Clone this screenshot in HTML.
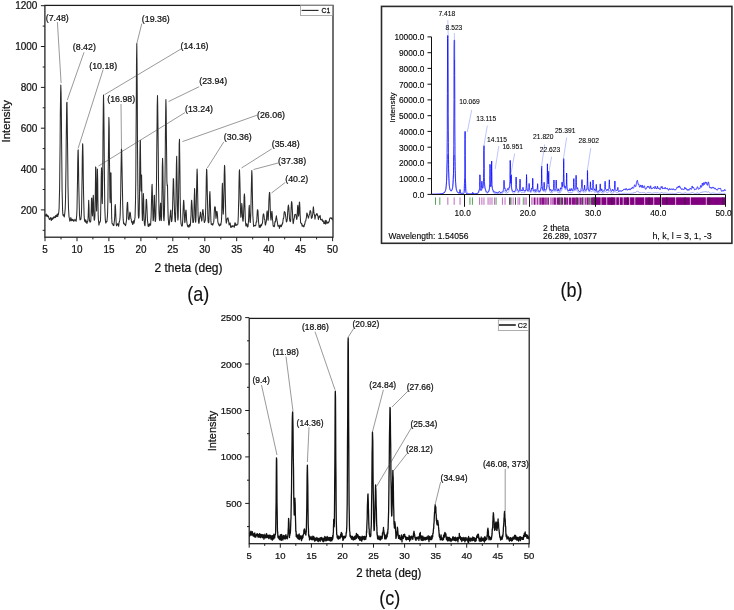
<!DOCTYPE html>
<html lang="en"><head><meta charset="utf-8"><title>XRD patterns</title>
<style>html,body{margin:0;padding:0;background:#fff}svg{display:block}</style></head>
<body>
<svg width="734" height="610" viewBox="0 0 734 610">
<rect width="734" height="610" fill="#fff"/>
<style>
text{font-family:"Liberation Sans", Arial, sans-serif;fill:#111;stroke:#111;stroke-width:.22px}
.tk{font-size:9.9px}.ld{stroke:#444;stroke-width:.55;fill:none}
.fr{fill:none;stroke:#1c1c1c;stroke-width:1.25}.t{stroke:#1c1c1c;stroke-width:1}
.cap{fill:#111;stroke-width:.12px}
.bt{font-size:8.3px;fill:#000}.bt{stroke-width:.12px}.bl{font-size:6.7px;fill:#000;stroke-width:.08px}.bld{stroke:#7d8cff;stroke-width:.5;fill:none}
</style>
<g id="plot-a">
<rect class="fr" x="44.9" y="5.4" width="288.1" height="231.8"/>
<text text-anchor="middle" transform="translate(45.0 253.1) scale(1 1.05)" font-size="9.90px">5</text>
<text text-anchor="middle" transform="translate(77.0 253.1) scale(1 1.05)" font-size="9.90px">10</text>
<text text-anchor="middle" transform="translate(108.9 253.1) scale(1 1.05)" font-size="9.90px">15</text>
<text text-anchor="middle" transform="translate(140.9 253.1) scale(1 1.05)" font-size="9.90px">20</text>
<text text-anchor="middle" transform="translate(172.8 253.1) scale(1 1.05)" font-size="9.90px">25</text>
<text text-anchor="middle" transform="translate(204.8 253.1) scale(1 1.05)" font-size="9.90px">30</text>
<text text-anchor="middle" transform="translate(236.7 253.1) scale(1 1.05)" font-size="9.90px">35</text>
<text text-anchor="middle" transform="translate(268.7 253.1) scale(1 1.05)" font-size="9.90px">40</text>
<text text-anchor="middle" transform="translate(300.6 253.1) scale(1 1.05)" font-size="9.90px">45</text>
<text text-anchor="middle" transform="translate(332.6 253.1) scale(1 1.05)" font-size="9.90px">50</text>
<text text-anchor="end" transform="translate(37.4 213.6) scale(1 1.05)" font-size="10.00px">200</text>
<text text-anchor="end" transform="translate(37.4 172.7) scale(1 1.05)" font-size="10.00px">400</text>
<text text-anchor="end" transform="translate(37.4 131.9) scale(1 1.05)" font-size="10.00px">600</text>
<text text-anchor="end" transform="translate(37.4 91.0) scale(1 1.05)" font-size="10.00px">800</text>
<text text-anchor="end" transform="translate(37.4 50.2) scale(1 1.05)" font-size="10.00px">1000</text>
<text text-anchor="end" transform="translate(37.4 9.4) scale(1 1.05)" font-size="10.00px">1200</text>
<path class="t" d="M45.0 237.2v4M77.0 237.2v4M108.9 237.2v4M140.9 237.2v4M172.8 237.2v4M204.8 237.2v4M236.7 237.2v4M268.7 237.2v4M300.6 237.2v4M332.6 237.2v4M61.0 237.2v2.2M92.9 237.2v2.2M124.9 237.2v2.2M156.8 237.2v2.2M188.8 237.2v2.2M220.8 237.2v2.2M252.7 237.2v2.2M284.7 237.2v2.2M316.6 237.2v2.2M44.9 209.9h-4M44.9 169.1h-4M44.9 128.2h-4M44.9 87.4h-4M44.9 46.5h-4M44.9 5.7h-4M44.9 230.3h-2.2M44.9 189.5h-2.2M44.9 148.6h-2.2M44.9 107.8h-2.2M44.9 67.0h-2.2M44.9 26.1h-2.2"/>
<clipPath id="ca"><rect x="44.9" y="5.4" width="288.1" height="231.8"/></clipPath>
<polyline clip-path="url(#ca)" fill="none" stroke="#2a2a2a" stroke-width="1.05" stroke-linejoin="round" points="45.0,214.3 45.3,215.3 45.5,215.6 45.8,215.9 46.0,215.6 46.3,214.1 46.5,214.6 46.8,216.3 47.0,215.7 47.3,215.1 47.6,215.6 47.8,216.7 48.1,216.9 48.3,215.9 48.6,217.0 48.8,218.0 49.1,218.6 49.3,219.4 49.6,219.5 49.9,218.9 50.1,218.6 50.4,218.4 50.6,217.5 50.9,218.0 51.1,220.1 51.4,220.5 51.6,218.6 51.9,218.0 52.2,219.0 52.4,219.4 52.7,218.9 52.9,219.0 53.2,217.4 53.4,217.3 53.7,218.1 53.9,216.7 54.2,217.0 54.5,217.6 54.7,217.0 55.0,216.8 55.2,217.6 55.5,217.5 55.7,215.4 56.0,216.5 56.2,216.7 56.5,215.3 56.8,216.4 57.0,215.0 57.3,213.9 57.5,216.2 57.8,216.5 58.0,215.0 58.3,214.7 58.5,213.8 58.8,211.9 59.1,208.3 59.3,200.0 59.6,188.5 59.8,170.1 60.1,144.3 60.3,116.3 60.6,93.7 60.8,85.0 61.1,93.6 61.4,115.7 61.6,142.9 61.9,170.3 62.1,191.2 62.4,202.3 62.6,210.4 62.9,215.0 63.2,215.4 63.4,215.0 63.7,214.8 63.9,216.2 64.2,216.9 64.4,216.5 64.7,214.1 64.9,212.0 65.2,208.9 65.5,199.9 65.7,185.8 66.0,166.1 66.2,142.5 66.5,118.8 66.7,103.1 67.0,102.3 67.2,116.7 67.5,141.3 67.8,165.7 68.0,186.2 68.3,200.0 68.5,208.3 68.8,213.3 69.0,216.6 69.3,218.0 69.5,218.9 69.8,221.2 70.1,220.5 70.3,219.9 70.6,219.8 70.8,217.6 71.1,218.5 71.3,220.8 71.6,220.1 71.8,219.4 72.1,219.8 72.4,220.4 72.6,219.8 72.9,219.3 73.1,220.6 73.4,221.1 73.6,220.3 73.9,221.1 74.1,220.9 74.4,220.7 74.7,220.2 74.9,219.3 75.2,219.9 75.4,220.3 75.7,220.3 75.9,221.0 76.2,221.2 76.4,218.1 76.7,215.7 77.0,208.9 77.2,197.3 77.5,181.3 77.7,162.9 78.0,150.5 78.2,149.8 78.5,164.0 78.7,180.9 79.0,194.8 79.3,207.2 79.5,214.9 79.8,218.1 80.0,219.9 80.3,219.4 80.5,219.0 80.8,219.4 81.0,218.2 81.3,215.3 81.6,208.7 81.8,194.9 82.1,176.5 82.3,157.4 82.6,143.7 82.8,145.0 83.1,158.8 83.3,178.1 83.6,195.5 83.9,207.7 84.1,215.1 84.4,219.2 84.6,221.2 84.9,219.6 85.1,219.9 85.4,222.2 85.6,221.6 85.9,220.0 86.2,221.4 86.4,222.8 86.7,222.2 86.9,223.5 87.2,222.5 87.4,221.2 87.7,221.4 87.9,220.7 88.2,215.6 88.5,206.0 88.7,200.2 89.0,206.9 89.2,217.2 89.5,220.3 89.7,221.1 90.0,222.1 90.2,221.7 90.5,222.0 90.8,220.9 91.0,215.7 91.3,206.8 91.5,198.3 91.8,198.1 92.0,206.2 92.3,214.3 92.5,215.9 92.8,208.8 93.1,199.6 93.3,195.3 93.6,201.9 93.8,213.0 94.1,219.2 94.3,220.3 94.6,219.6 94.9,216.2 95.1,207.2 95.4,186.8 95.6,166.9 95.9,167.4 96.1,186.7 96.4,206.4 96.6,211.1 96.9,197.6 97.2,178.7 97.4,169.1 97.7,179.7 97.9,200.4 98.2,215.4 98.4,219.7 98.7,222.5 98.9,225.1 99.2,223.8 99.5,222.2 99.7,222.5 100.0,222.2 100.2,221.8 100.5,220.1 100.7,211.8 101.0,196.2 101.2,178.5 101.5,167.8 101.8,176.1 102.0,194.3 102.3,203.6 102.5,192.5 102.8,167.9 103.0,136.8 103.3,107.2 103.5,95.0 103.8,107.1 104.1,134.9 104.3,165.1 104.6,191.3 104.8,207.8 105.1,215.0 105.3,219.4 105.6,222.0 105.8,223.1 106.1,221.8 106.4,221.6 106.6,222.0 106.9,221.7 107.1,219.7 107.4,216.5 107.6,212.4 107.9,200.0 108.1,179.4 108.4,155.5 108.7,130.8 108.9,117.4 109.2,127.0 109.4,152.6 109.7,179.2 109.9,197.4 110.2,202.8 110.4,189.4 110.7,172.8 111.0,172.9 111.2,189.5 111.5,207.1 111.7,217.9 112.0,222.9 112.2,223.8 112.5,224.0 112.7,223.8 113.0,224.4 113.3,225.5 113.5,224.6 113.8,225.6 114.0,224.1 114.3,221.3 114.5,220.2 114.8,214.9 115.0,206.3 115.3,204.6 115.6,209.0 115.8,215.1 116.1,221.2 116.3,224.6 116.6,225.8 116.8,225.3 117.1,224.3 117.3,223.9 117.6,224.8 117.9,223.8 118.1,224.2 118.4,225.5 118.6,226.3 118.9,224.6 119.1,222.1 119.4,222.0 119.6,220.9 119.9,219.0 120.2,214.4 120.4,206.1 120.7,193.6 120.9,177.3 121.2,160.0 121.4,149.2 121.7,150.3 121.9,161.6 122.2,177.9 122.5,192.3 122.7,204.2 123.0,213.9 123.2,219.4 123.5,222.8 123.7,223.8 124.0,222.9 124.2,223.4 124.5,224.4 124.8,224.4 125.0,224.3 125.3,225.3 125.5,225.6 125.8,224.8 126.0,223.4 126.3,221.7 126.6,218.6 126.8,211.6 127.1,205.9 127.3,202.7 127.6,202.3 127.8,206.6 128.1,213.7 128.3,218.6 128.6,219.2 128.9,219.7 129.1,219.2 129.4,217.0 129.6,213.8 129.9,212.1 130.1,213.1 130.4,213.0 130.6,215.7 130.9,218.6 131.2,219.0 131.4,221.0 131.7,222.5 131.9,221.5 132.2,222.0 132.4,223.8 132.7,224.5 132.9,223.9 133.2,221.6 133.5,220.7 133.7,222.3 134.0,223.3 134.2,222.5 134.5,221.0 134.7,219.7 135.0,217.5 135.2,212.0 135.5,201.2 135.8,179.8 136.0,145.2 136.3,101.9 136.5,62.0 136.8,43.7 137.0,60.5 137.3,101.6 137.5,146.7 137.8,180.8 138.1,202.6 138.3,215.2 138.6,218.1 138.8,217.9 139.1,215.9 139.3,208.1 139.6,189.6 139.8,163.6 140.1,142.6 140.4,140.4 140.6,161.0 140.9,186.7 141.1,190.9 141.4,175.4 141.6,175.0 141.9,194.3 142.1,211.8 142.4,220.6 142.7,219.9 142.9,210.7 143.2,199.0 143.4,193.5 143.7,200.6 143.9,212.1 144.2,220.7 144.4,224.0 144.7,225.3 145.0,225.8 145.2,222.7 145.5,218.4 145.7,213.1 146.0,204.7 146.2,199.6 146.5,199.3 146.7,202.5 147.0,209.1 147.3,216.5 147.5,220.6 147.8,222.6 148.0,225.3 148.3,226.5 148.5,225.2 148.8,224.3 149.0,226.3 149.3,225.7 149.6,223.8 149.8,223.7 150.1,224.3 150.3,225.2 150.6,225.2 150.8,221.4 151.1,216.6 151.3,209.0 151.6,197.1 151.9,186.5 152.1,184.3 152.4,192.9 152.6,203.7 152.9,214.9 153.1,220.7 153.4,220.2 153.6,216.1 153.9,206.2 154.2,195.5 154.4,195.2 154.7,205.4 154.9,216.4 155.2,221.4 155.4,221.5 155.7,219.4 155.9,212.6 156.2,199.7 156.5,182.6 156.7,158.3 157.0,129.4 157.2,106.4 157.5,95.6 157.7,104.9 158.0,128.2 158.3,156.5 158.5,182.3 158.8,200.1 159.0,212.2 159.3,217.6 159.5,220.1 159.8,220.6 160.0,215.3 160.3,206.5 160.6,203.1 160.8,210.8 161.1,218.6 161.3,220.6 161.6,216.3 161.8,205.4 162.1,186.4 162.3,165.9 162.6,158.3 162.9,167.0 163.1,184.8 163.4,204.3 163.6,217.2 163.9,220.8 164.1,219.8 164.4,214.0 164.6,203.8 164.9,187.7 165.2,162.3 165.4,133.9 165.7,109.5 165.9,99.6 166.2,110.9 166.4,136.0 166.7,161.8 166.9,181.6 167.2,185.7 167.5,185.0 167.7,197.2 168.0,211.4 168.2,218.1 168.5,221.5 168.7,224.8 169.0,225.1 169.2,225.0 169.5,222.8 169.8,218.9 170.0,216.5 170.3,214.2 170.5,211.3 170.8,210.1 171.0,215.5 171.3,220.2 171.5,221.6 171.8,221.3 172.1,218.6 172.3,214.5 172.6,207.1 172.8,197.9 173.1,186.1 173.3,178.5 173.6,179.9 173.8,187.5 174.1,198.2 174.4,207.6 174.6,213.9 174.9,218.8 175.1,221.5 175.4,221.8 175.6,216.9 175.9,204.8 176.1,185.6 176.4,164.5 176.7,156.3 176.9,167.6 177.2,187.3 177.4,205.3 177.7,216.9 177.9,220.1 178.2,216.6 178.4,205.7 178.7,187.0 179.0,163.8 179.2,143.5 179.5,139.2 179.7,153.9 180.0,176.9 180.2,198.1 180.5,212.0 180.7,219.0 181.0,223.5 181.3,224.7 181.5,225.3 181.8,226.1 182.0,225.4 182.3,225.9 182.5,223.9 182.8,218.5 183.0,212.5 183.3,205.6 183.6,200.3 183.8,200.7 184.1,206.1 184.3,213.2 184.6,219.1 184.8,222.7 185.1,221.4 185.3,216.5 185.6,212.3 185.9,210.0 186.1,210.5 186.4,215.4 186.6,220.0 186.9,222.1 187.1,224.2 187.4,225.1 187.6,226.2 187.9,226.8 188.2,226.0 188.4,225.5 188.7,225.8 188.9,227.2 189.2,226.9 189.4,224.8 189.7,224.3 190.0,224.7 190.2,225.9 190.5,223.8 190.7,219.3 191.0,216.1 191.2,208.1 191.5,200.8 191.7,200.3 192.0,204.2 192.3,209.8 192.5,216.5 192.8,221.8 193.0,222.5 193.3,222.2 193.5,222.3 193.8,219.1 194.0,210.0 194.3,196.9 194.6,188.5 194.8,194.8 195.1,208.4 195.3,217.9 195.6,222.3 195.8,221.4 196.1,214.5 196.3,203.6 196.6,188.7 196.9,174.4 197.1,169.0 197.4,175.4 197.6,190.3 197.9,206.4 198.1,215.7 198.4,220.2 198.6,222.5 198.9,223.4 199.2,222.3 199.4,219.2 199.7,217.2 199.9,216.2 200.2,214.5 200.4,212.1 200.7,212.9 200.9,216.1 201.2,218.7 201.5,219.2 201.7,221.1 202.0,220.0 202.2,215.1 202.5,212.2 202.7,209.9 203.0,209.6 203.2,212.0 203.5,214.9 203.8,217.1 204.0,220.0 204.3,222.4 204.5,222.5 204.8,221.3 205.0,221.2 205.3,220.3 205.5,214.9 205.8,204.9 206.1,192.3 206.3,178.2 206.6,169.1 206.8,170.3 207.1,179.5 207.3,192.8 207.6,204.6 207.8,215.2 208.1,221.7 208.4,222.7 208.6,222.8 208.9,222.0 209.1,215.2 209.4,204.7 209.6,195.4 209.9,191.5 210.1,195.7 210.4,205.2 210.7,214.2 210.9,220.2 211.2,224.3 211.4,224.4 211.7,224.6 211.9,224.4 212.2,223.8 212.4,225.0 212.7,225.1 213.0,224.5 213.2,223.5 213.5,222.9 213.7,222.4 214.0,218.5 214.2,213.0 214.5,208.5 214.7,206.8 215.0,206.8 215.3,207.1 215.5,210.6 215.8,216.3 216.0,218.5 216.3,216.0 216.5,212.8 216.8,211.2 217.0,211.7 217.3,213.2 217.6,217.1 217.8,221.4 218.1,223.0 218.3,223.5 218.6,224.4 218.8,224.7 219.1,225.1 219.3,225.8 219.6,225.9 219.9,224.7 220.1,223.9 220.4,225.2 220.6,225.3 220.9,224.6 221.1,223.0 221.4,221.3 221.7,215.9 221.9,203.1 222.2,187.8 222.4,183.3 222.7,194.6 222.9,207.9 223.2,214.3 223.4,212.8 223.7,205.4 224.0,190.8 224.2,175.4 224.5,165.4 224.7,166.2 225.0,175.6 225.2,188.8 225.5,203.3 225.7,213.5 226.0,220.8 226.3,223.2 226.5,222.1 226.8,221.3 227.0,219.2 227.3,218.4 227.5,219.0 227.8,218.0 228.0,217.8 228.3,219.5 228.6,220.9 228.8,222.4 229.1,225.0 229.3,224.8 229.6,223.5 229.8,224.0 230.1,222.9 230.3,223.9 230.6,226.7 230.9,227.5 231.1,227.1 231.4,226.8 231.6,225.9 231.9,227.0 232.1,226.8 232.4,226.5 232.6,226.5 232.9,225.5 233.2,225.9 233.4,225.9 233.7,226.1 233.9,226.5 234.2,227.3 234.4,226.9 234.7,224.2 234.9,222.7 235.2,223.0 235.5,223.9 235.7,225.4 236.0,224.8 236.2,224.2 236.5,225.3 236.7,225.3 237.0,225.0 237.2,224.9 237.5,224.6 237.8,224.2 238.0,222.5 238.3,215.7 238.5,207.6 238.8,197.7 239.0,183.3 239.3,171.2 239.5,169.7 239.8,178.1 240.1,190.0 240.3,202.9 240.6,213.3 240.8,217.3 241.1,216.5 241.3,212.4 241.6,206.9 241.8,203.4 242.1,206.9 242.4,214.0 242.6,218.5 242.9,221.3 243.1,221.3 243.4,217.9 243.6,213.6 243.9,205.7 244.1,196.5 244.4,193.9 244.7,196.9 244.9,205.4 245.2,215.7 245.4,221.3 245.7,224.2 245.9,225.9 246.2,225.1 246.4,224.6 246.7,223.8 247.0,224.3 247.2,226.6 247.5,227.0 247.7,226.5 248.0,226.6 248.2,224.5 248.5,221.0 248.7,216.7 249.0,208.6 249.3,205.2 249.5,210.8 249.8,217.7 250.0,221.9 250.3,222.5 250.5,219.6 250.8,213.6 251.0,203.9 251.3,189.3 251.6,176.4 251.8,170.5 252.1,175.9 252.3,190.0 252.6,205.3 252.8,214.6 253.1,219.3 253.4,224.0 253.6,226.4 253.9,226.2 254.1,225.2 254.4,225.7 254.6,225.7 254.9,225.7 255.1,225.4 255.4,225.4 255.7,225.8 255.9,224.3 256.2,221.8 256.4,222.0 256.7,221.9 256.9,218.1 257.2,212.9 257.4,209.7 257.7,209.8 258.0,211.3 258.2,215.8 258.5,220.5 258.7,223.2 259.0,225.8 259.2,227.5 259.5,226.6 259.7,225.6 260.0,225.5 260.3,227.0 260.5,227.2 260.8,225.3 261.0,224.5 261.3,225.0 261.5,225.8 261.8,224.7 262.0,223.6 262.3,223.7 262.6,222.1 262.8,218.1 263.1,215.3 263.3,214.0 263.6,213.9 263.8,214.7 264.1,216.3 264.3,219.2 264.6,219.0 264.9,220.1 265.1,223.6 265.4,225.1 265.6,224.7 265.9,223.2 266.1,222.0 266.4,221.1 266.6,216.9 266.9,212.1 267.2,210.9 267.4,212.4 267.7,216.2 267.9,219.7 268.2,220.3 268.4,216.4 268.7,208.0 268.9,200.8 269.2,195.5 269.5,192.4 269.7,192.5 270.0,198.8 270.2,207.5 270.5,213.3 270.7,217.7 271.0,220.3 271.2,218.5 271.5,214.4 271.8,211.5 272.0,211.4 272.3,215.4 272.5,219.5 272.8,221.5 273.0,224.4 273.3,226.3 273.5,225.5 273.8,226.3 274.1,226.7 274.3,226.7 274.6,225.8 274.8,222.9 275.1,221.4 275.3,222.0 275.6,221.1 275.8,218.8 276.1,217.6 276.4,215.8 276.6,217.6 276.9,219.7 277.1,220.8 277.4,222.4 277.6,223.6 277.9,225.9 278.1,226.3 278.4,225.5 278.7,225.8 278.9,226.0 279.2,226.4 279.4,228.4 279.7,227.3 279.9,225.1 280.2,225.6 280.4,226.1 280.7,225.3 281.0,225.6 281.2,226.8 281.5,226.3 281.7,224.6 282.0,225.0 282.2,224.3 282.5,222.9 282.7,223.5 283.0,220.7 283.3,218.4 283.5,218.6 283.8,217.1 284.0,213.9 284.3,211.5 284.5,211.9 284.8,212.4 285.1,212.2 285.3,214.2 285.6,216.0 285.8,217.2 286.1,219.5 286.3,221.4 286.6,221.9 286.8,221.5 287.1,220.4 287.4,218.0 287.6,213.3 287.9,209.4 288.1,206.8 288.4,205.1 288.6,206.3 288.9,208.2 289.1,212.7 289.4,217.3 289.7,219.8 289.9,221.1 290.2,220.2 290.4,221.6 290.7,220.4 290.9,213.8 291.2,207.2 291.4,202.8 291.7,201.6 292.0,203.6 292.2,207.5 292.5,213.1 292.7,217.4 293.0,222.1 293.2,223.7 293.5,222.3 293.7,220.8 294.0,218.6 294.3,218.2 294.5,216.0 294.8,214.5 295.0,214.6 295.3,214.8 295.5,214.7 295.8,214.4 296.0,215.2 296.3,217.5 296.6,219.0 296.8,219.4 297.1,217.9 297.3,212.7 297.6,206.8 297.8,205.3 298.1,208.5 298.3,213.2 298.6,216.2 298.9,214.0 299.1,207.2 299.4,202.0 299.6,202.4 299.9,207.6 300.1,214.2 300.4,218.7 300.6,222.7 300.9,223.1 301.2,223.2 301.4,223.7 301.7,223.4 301.9,225.2 302.2,226.3 302.4,225.5 302.7,225.1 302.9,225.4 303.2,225.6 303.5,226.8 303.7,226.6 304.0,226.7 304.2,225.9 304.5,224.3 304.7,224.4 305.0,223.2 305.2,221.3 305.5,221.0 305.8,221.0 306.0,219.3 306.3,218.0 306.5,216.7 306.8,213.2 307.0,213.0 307.3,213.9 307.5,214.9 307.8,216.3 308.1,216.8 308.3,218.1 308.6,218.0 308.8,216.3 309.1,215.3 309.3,214.8 309.6,213.9 309.8,212.1 310.1,210.8 310.4,210.6 310.6,211.2 310.9,212.0 311.1,215.2 311.4,218.4 311.6,217.4 311.9,217.5 312.1,217.7 312.4,215.9 312.7,214.3 312.9,212.2 313.2,208.1 313.4,206.8 313.7,209.9 313.9,212.7 314.2,213.9 314.4,214.5 314.7,216.6 315.0,219.1 315.2,217.9 315.5,215.8 315.7,215.3 316.0,215.2 316.2,214.8 316.5,213.7 316.8,214.2 317.0,213.8 317.3,213.9 317.5,215.7 317.8,215.5 318.0,216.3 318.3,219.3 318.5,219.4 318.8,216.8 319.1,216.9 319.3,217.3 319.6,216.1 319.8,216.3 320.1,215.4 320.3,216.7 320.6,219.7 320.8,219.3 321.1,219.6 321.4,220.0 321.6,219.8 321.9,219.9 322.1,219.0 322.4,220.4 322.6,221.4 322.9,220.7 323.1,221.1 323.4,221.0 323.7,222.4 323.9,223.6 324.2,222.8 324.4,222.4 324.7,223.6 324.9,222.4 325.2,220.2 325.4,222.8 325.7,224.2 326.0,221.1 326.2,220.6 326.5,222.2 326.7,222.9 327.0,223.3 327.2,223.2 327.5,223.0 327.7,222.2 328.0,221.9 328.3,222.5 328.5,222.9 328.8,222.2 329.0,221.6 329.3,221.2 329.5,219.3 329.8,218.3 330.0,218.2 330.3,217.8 330.6,217.8 330.8,218.1 331.1,218.4 331.3,217.9 331.6,218.8 331.8,218.6 332.1,218.0 332.3,219.8 332.6,220.3"/>
<text text-anchor="middle" transform="translate(188.5 271.9) scale(1 1.05)" font-size="12.00px">2 theta (deg)</text>
<text text-anchor="middle" transform="translate(9.8 121.3) rotate(-90) scale(1.05 1)" font-size="10.80px">Intensity</text>
<path class="ld" d="M57.4 22.1L61.1 83.0"/>
<text transform="translate(45.7 20.6) scale(1 1.05)" font-size="8.85px">(7.48)</text>
<path class="ld" d="M84.0 52.3L67.3 100.0"/>
<text transform="translate(72.8 50.3) scale(1 1.05)" font-size="8.85px">(8.42)</text>
<path class="ld" d="M103.1 69.7L78.1 148.4"/>
<text transform="translate(89.2 68.5) scale(1 1.05)" font-size="8.85px">(10.18)</text>
<path class="ld" d="M141.8 23.6L136.7 44.0"/>
<text transform="translate(141.8 22.3) scale(1 1.05)" font-size="8.85px">(19.36)</text>
<path class="ld" d="M181.0 49.0L104.5 94.7"/>
<text transform="translate(180.5 49.3) scale(1 1.05)" font-size="8.85px">(14.16)</text>
<path class="ld" d="M121.0 104.0L121.5 149.0"/>
<text transform="translate(107.2 101.7) scale(1 1.05)" font-size="8.85px">(16.98)</text>
<path class="ld" d="M199.2 86.7L168.6 101.5"/>
<text transform="translate(199.2 84.2) scale(1 1.05)" font-size="8.85px">(23.94)</text>
<path class="ld" d="M185.0 112.6L98.5 166.0"/>
<text transform="translate(185.0 111.5) scale(1 1.05)" font-size="8.85px">(13.24)</text>
<path class="ld" d="M257.0 115.2L182.4 141.6"/>
<text transform="translate(257.0 117.5) scale(1 1.05)" font-size="8.85px">(26.06)</text>
<path class="ld" d="M223.8 141.9L207.3 168.0"/>
<text transform="translate(223.8 139.8) scale(1 1.05)" font-size="8.85px">(30.36)</text>
<path class="ld" d="M271.7 148.9L241.5 168.0"/>
<text transform="translate(271.7 147.1) scale(1 1.05)" font-size="8.85px">(35.48)</text>
<path class="ld" d="M278.1 163.0L253.5 169.5"/>
<text transform="translate(278.1 163.8) scale(1 1.05)" font-size="8.85px">(37.38)</text>
<path class="ld" d="M285.2 182.5L271.5 193.0"/>
<text transform="translate(285.2 181.8) scale(1 1.05)" font-size="8.85px">(40.2)</text>
<rect x="300.5" y="5.6" width="32" height="9.9" fill="#fff" stroke="#8a8a8a" stroke-width=".7"/>
<path d="M301.6 10.4h16.9" stroke="#222" stroke-width="1.1"/>
<text transform="translate(321.6 13.0) scale(1 1.15)" font-size="6.90px">C1</text>
<text class="cap" text-anchor="middle" transform="translate(198.2 300.8) scale(1 1.08)" font-size="18.00px">(a)</text>
</g>
<g id="plot-c">
<rect class="fr" x="249.2" y="318.4" width="280.0" height="225.3"/>
<text text-anchor="middle" transform="translate(249.2 558.7) scale(1 1.05)" font-size="9.50px">5</text>
<text text-anchor="middle" transform="translate(280.3 558.7) scale(1 1.05)" font-size="9.50px">10</text>
<text text-anchor="middle" transform="translate(311.4 558.7) scale(1 1.05)" font-size="9.50px">15</text>
<text text-anchor="middle" transform="translate(342.4 558.7) scale(1 1.05)" font-size="9.50px">20</text>
<text text-anchor="middle" transform="translate(373.5 558.7) scale(1 1.05)" font-size="9.50px">25</text>
<text text-anchor="middle" transform="translate(404.6 558.7) scale(1 1.05)" font-size="9.50px">30</text>
<text text-anchor="middle" transform="translate(435.7 558.7) scale(1 1.05)" font-size="9.50px">35</text>
<text text-anchor="middle" transform="translate(466.7 558.7) scale(1 1.05)" font-size="9.50px">40</text>
<text text-anchor="middle" transform="translate(497.8 558.7) scale(1 1.05)" font-size="9.50px">45</text>
<text text-anchor="middle" transform="translate(528.9 558.7) scale(1 1.05)" font-size="9.50px">50</text>
<text text-anchor="end" transform="translate(241.8 506.9) scale(1 1.05)" font-size="9.50px">500</text>
<text text-anchor="end" transform="translate(241.8 460.4) scale(1 1.05)" font-size="9.50px">1000</text>
<text text-anchor="end" transform="translate(241.8 414.0) scale(1 1.05)" font-size="9.50px">1500</text>
<text text-anchor="end" transform="translate(241.8 367.5) scale(1 1.05)" font-size="9.50px">2000</text>
<text text-anchor="end" transform="translate(241.8 321.1) scale(1 1.05)" font-size="9.50px">2500</text>
<path class="t" d="M249.2 543.7v4M280.3 543.7v4M311.4 543.7v4M342.4 543.7v4M373.5 543.7v4M404.6 543.7v4M435.7 543.7v4M466.7 543.7v4M497.8 543.7v4M528.9 543.7v4M264.7 543.7v2.2M295.8 543.7v2.2M326.9 543.7v2.2M358.0 543.7v2.2M389.0 543.7v2.2M420.1 543.7v2.2M451.2 543.7v2.2M482.3 543.7v2.2M513.4 543.7v2.2M249.2 503.4h-4M249.2 456.9h-4M249.2 410.5h-4M249.2 364.0h-4M249.2 317.6h-4M249.2 526.6h-2.2M249.2 480.2h-2.2M249.2 433.7h-2.2M249.2 387.3h-2.2M249.2 340.8h-2.2"/>
<clipPath id="cc"><rect x="249.2" y="318.4" width="280.0" height="225.3"/></clipPath>
<polyline clip-path="url(#cc)" fill="none" stroke="#111" stroke-width="1.3" stroke-linejoin="round" points="249.2,532.3 249.3,534.5 249.4,536.1 249.6,534.5 249.7,535.9 249.8,533.7 249.9,532.6 250.1,533.0 250.2,535.3 250.3,534.6 250.4,531.9 250.6,533.5 250.7,533.9 250.8,532.7 250.9,531.2 251.1,532.5 251.2,533.8 251.3,533.6 251.4,533.3 251.6,534.7 251.7,535.2 251.8,534.0 251.9,535.2 252.1,534.2 252.2,534.1 252.3,531.6 252.4,535.2 252.6,534.4 252.7,534.5 252.8,533.8 252.9,533.2 253.1,534.9 253.2,535.3 253.3,536.2 253.4,535.5 253.6,533.9 253.7,534.4 253.8,535.6 253.9,534.9 254.0,534.5 254.2,534.0 254.3,535.3 254.4,534.9 254.5,536.7 254.7,536.0 254.8,532.9 254.9,537.1 255.0,535.1 255.2,534.5 255.3,535.2 255.4,535.7 255.5,534.9 255.7,534.9 255.8,535.0 255.9,537.0 256.0,535.1 256.2,535.9 256.3,535.6 256.4,534.8 256.5,534.3 256.7,534.1 256.8,535.6 256.9,534.1 257.0,533.8 257.2,533.9 257.3,533.7 257.4,535.4 257.5,535.4 257.7,534.4 257.8,536.8 257.9,535.1 258.0,535.9 258.2,535.8 258.3,537.3 258.4,536.4 258.5,535.5 258.6,534.5 258.8,534.4 258.9,535.6 259.0,535.8 259.1,536.5 259.3,535.2 259.4,535.9 259.5,535.0 259.6,533.7 259.8,535.7 259.9,537.4 260.0,536.7 260.1,537.4 260.3,537.1 260.4,534.4 260.5,535.6 260.6,537.6 260.8,535.2 260.9,534.5 261.0,536.3 261.1,536.7 261.3,536.4 261.4,535.7 261.5,535.3 261.6,534.8 261.8,534.7 261.9,534.8 262.0,534.6 262.1,535.4 262.3,537.8 262.4,536.3 262.5,535.8 262.6,536.6 262.7,535.2 262.9,536.6 263.0,537.3 263.1,534.7 263.2,535.5 263.4,536.1 263.5,535.3 263.6,535.2 263.7,536.0 263.9,539.1 264.0,537.1 264.1,536.9 264.2,537.5 264.4,536.2 264.5,535.1 264.6,537.0 264.7,537.7 264.9,534.2 265.0,537.0 265.1,537.9 265.2,536.3 265.4,536.1 265.5,537.3 265.6,535.7 265.7,537.1 265.9,537.6 266.0,536.4 266.1,535.8 266.2,537.4 266.4,536.3 266.5,536.8 266.6,533.6 266.7,537.5 266.9,535.2 267.0,536.8 267.1,536.9 267.2,536.0 267.3,535.8 267.5,535.4 267.6,536.5 267.7,537.5 267.8,537.5 268.0,536.3 268.1,536.3 268.2,535.4 268.3,536.5 268.5,535.8 268.6,535.3 268.7,536.8 268.8,538.6 269.0,538.3 269.1,538.6 269.2,535.3 269.3,538.0 269.5,535.7 269.6,536.4 269.7,535.2 269.8,536.0 270.0,537.2 270.1,537.3 270.2,537.0 270.3,537.0 270.5,537.7 270.6,537.2 270.7,535.4 270.8,539.1 271.0,536.9 271.1,538.2 271.2,537.0 271.3,536.3 271.5,537.3 271.6,536.4 271.7,539.0 271.8,536.0 271.9,537.9 272.1,536.6 272.2,537.1 272.3,540.2 272.4,538.1 272.6,537.0 272.7,535.6 272.8,537.0 272.9,537.0 273.1,538.8 273.2,535.7 273.3,535.3 273.4,537.2 273.6,537.5 273.7,539.0 273.8,536.2 273.9,534.1 274.1,536.3 274.2,535.6 274.3,536.3 274.4,537.9 274.6,535.2 274.7,537.9 274.8,536.6 274.9,535.9 275.1,534.9 275.2,535.0 275.3,534.4 275.4,534.5 275.6,532.9 275.7,527.7 275.8,522.4 275.9,514.0 276.1,501.8 276.2,486.5 276.3,473.6 276.4,461.8 276.5,457.8 276.7,460.1 276.8,471.1 276.9,483.8 277.0,502.0 277.2,513.3 277.3,520.6 277.4,528.0 277.5,531.9 277.7,531.8 277.8,535.2 277.9,536.8 278.0,537.4 278.2,535.8 278.3,536.1 278.4,538.1 278.5,537.8 278.7,536.3 278.8,536.3 278.9,537.7 279.0,536.4 279.2,536.5 279.3,539.2 279.4,537.6 279.5,536.8 279.7,538.0 279.8,539.7 279.9,537.7 280.0,536.6 280.2,535.7 280.3,539.9 280.4,534.6 280.5,538.7 280.7,536.4 280.8,536.2 280.9,536.4 281.0,537.4 281.1,538.8 281.3,536.9 281.4,538.3 281.5,540.3 281.6,534.4 281.8,536.8 281.9,535.5 282.0,538.6 282.1,535.9 282.3,535.8 282.4,535.8 282.5,537.6 282.6,538.9 282.8,537.7 282.9,540.0 283.0,539.4 283.1,537.4 283.3,538.6 283.4,537.7 283.5,537.6 283.6,535.4 283.8,536.1 283.9,537.5 284.0,536.1 284.1,538.3 284.3,537.8 284.4,536.4 284.5,538.8 284.6,537.7 284.8,538.9 284.9,537.3 285.0,535.6 285.1,538.2 285.3,537.1 285.4,538.3 285.5,538.6 285.6,538.7 285.7,535.7 285.9,534.6 286.0,536.7 286.1,538.0 286.2,536.4 286.4,537.5 286.5,536.2 286.6,536.8 286.7,536.8 286.9,536.3 287.0,537.6 287.1,537.4 287.2,538.8 287.4,537.3 287.5,538.3 287.6,536.7 287.7,537.2 287.9,535.3 288.0,533.5 288.1,533.4 288.2,529.7 288.4,526.5 288.5,521.4 288.6,518.3 288.7,519.2 288.9,522.6 289.0,523.7 289.1,530.4 289.2,529.9 289.4,534.3 289.5,537.6 289.6,531.8 289.7,532.9 289.8,535.5 290.0,533.7 290.1,533.5 290.2,532.4 290.3,533.1 290.5,530.8 290.6,527.6 290.7,525.4 290.8,521.0 291.0,518.1 291.1,510.3 291.2,507.3 291.3,498.6 291.5,492.1 291.6,481.4 291.7,467.7 291.8,458.8 292.0,445.7 292.1,435.5 292.2,426.9 292.3,418.5 292.5,413.7 292.6,412.0 292.7,412.3 292.8,417.4 293.0,426.4 293.1,436.4 293.2,446.0 293.3,457.9 293.5,468.0 293.6,477.1 293.7,489.0 293.8,498.7 294.0,506.2 294.1,512.3 294.2,515.0 294.3,514.4 294.4,510.2 294.6,505.4 294.7,499.7 294.8,498.3 294.9,498.2 295.1,502.2 295.2,504.0 295.3,511.2 295.4,515.7 295.6,522.2 295.7,525.7 295.8,530.9 295.9,532.0 296.1,531.2 296.2,536.4 296.3,534.2 296.4,533.9 296.6,535.6 296.7,535.3 296.8,534.9 296.9,537.2 297.1,536.1 297.2,537.6 297.3,537.4 297.4,537.4 297.6,537.0 297.7,536.7 297.8,536.4 297.9,538.6 298.1,534.8 298.2,535.8 298.3,536.3 298.4,537.5 298.6,537.3 298.7,536.6 298.8,536.8 298.9,539.2 299.0,536.5 299.2,534.0 299.3,539.5 299.4,536.3 299.5,537.0 299.7,537.6 299.8,535.9 299.9,538.8 300.0,537.3 300.2,535.9 300.3,537.8 300.4,538.1 300.5,537.5 300.7,538.1 300.8,535.9 300.9,538.7 301.0,536.7 301.2,539.1 301.3,536.9 301.4,537.8 301.5,540.7 301.7,537.7 301.8,538.9 301.9,538.2 302.0,535.9 302.2,538.9 302.3,538.8 302.4,535.9 302.5,537.3 302.7,535.6 302.8,536.7 302.9,537.8 303.0,536.6 303.2,534.7 303.3,534.5 303.4,535.0 303.5,534.2 303.6,533.7 303.8,533.5 303.9,529.8 304.0,531.3 304.1,531.9 304.3,530.7 304.4,529.0 304.5,528.9 304.6,530.0 304.8,530.9 304.9,530.6 305.0,533.2 305.1,533.5 305.3,531.9 305.4,534.1 305.5,533.8 305.6,533.4 305.8,534.3 305.9,535.1 306.0,532.2 306.1,532.6 306.3,531.6 306.4,526.9 306.5,522.2 306.6,516.6 306.8,506.5 306.9,496.3 307.0,487.2 307.1,474.9 307.3,467.6 307.4,465.1 307.5,469.2 307.6,475.1 307.8,485.0 307.9,496.0 308.0,508.0 308.1,515.0 308.2,524.2 308.4,528.2 308.5,529.9 308.6,534.5 308.7,535.6 308.9,534.7 309.0,536.9 309.1,537.2 309.2,536.8 309.4,536.1 309.5,539.9 309.6,538.5 309.7,538.8 309.9,539.0 310.0,538.8 310.1,538.9 310.2,537.7 310.4,539.1 310.5,538.0 310.6,537.7 310.7,539.0 310.9,538.1 311.0,536.4 311.1,538.0 311.2,539.1 311.4,538.5 311.5,539.5 311.6,538.1 311.7,537.5 311.9,539.4 312.0,538.8 312.1,537.3 312.2,539.1 312.4,538.4 312.5,539.8 312.6,539.6 312.7,539.2 312.8,536.2 313.0,539.1 313.1,539.3 313.2,539.3 313.3,538.9 313.5,538.0 313.6,538.5 313.7,536.5 313.8,538.5 314.0,537.2 314.1,538.5 314.2,538.1 314.3,540.4 314.5,539.0 314.6,538.9 314.7,539.1 314.8,541.3 315.0,537.9 315.1,539.3 315.2,539.4 315.3,539.2 315.5,539.2 315.6,538.5 315.7,540.4 315.8,540.0 316.0,538.6 316.1,538.8 316.2,539.4 316.3,539.6 316.5,539.9 316.6,539.1 316.7,537.7 316.8,540.2 316.9,537.4 317.1,538.1 317.2,539.6 317.3,538.2 317.4,540.7 317.6,541.0 317.7,540.5 317.8,539.5 317.9,539.4 318.1,539.7 318.2,539.0 318.3,541.5 318.4,538.5 318.6,540.7 318.7,539.8 318.8,539.5 318.9,540.4 319.1,540.6 319.2,540.2 319.3,539.1 319.4,538.4 319.6,538.5 319.7,540.2 319.8,540.0 319.9,540.1 320.1,538.6 320.2,541.3 320.3,537.7 320.4,539.6 320.6,539.9 320.7,538.7 320.8,537.9 320.9,538.7 321.1,537.9 321.2,538.9 321.3,537.7 321.4,537.7 321.5,539.2 321.7,537.5 321.8,538.9 321.9,539.0 322.0,540.1 322.2,539.4 322.3,538.2 322.4,540.5 322.5,538.3 322.7,538.7 322.8,538.7 322.9,541.5 323.0,539.2 323.2,538.3 323.3,539.9 323.4,538.9 323.5,541.7 323.7,538.3 323.8,539.8 323.9,538.1 324.0,541.1 324.2,538.3 324.3,539.3 324.4,538.1 324.5,540.0 324.7,539.7 324.8,536.5 324.9,539.9 325.0,539.8 325.2,539.3 325.3,540.1 325.4,537.7 325.5,537.1 325.7,539.8 325.8,540.9 325.9,537.7 326.0,537.8 326.1,538.1 326.3,537.7 326.4,539.9 326.5,539.1 326.6,540.5 326.8,540.5 326.9,537.9 327.0,539.7 327.1,536.4 327.3,538.8 327.4,539.6 327.5,538.0 327.6,536.9 327.8,538.4 327.9,540.2 328.0,538.5 328.1,537.4 328.3,539.4 328.4,539.7 328.5,537.7 328.6,538.7 328.8,540.1 328.9,539.3 329.0,539.7 329.1,538.5 329.3,538.7 329.4,537.5 329.5,538.0 329.6,540.5 329.8,538.3 329.9,537.7 330.0,538.2 330.1,537.6 330.3,539.3 330.4,539.7 330.5,537.6 330.6,539.8 330.7,541.0 330.9,537.4 331.0,539.3 331.1,538.8 331.2,540.0 331.4,539.9 331.5,539.7 331.6,538.7 331.7,537.9 331.9,540.8 332.0,537.3 332.1,539.4 332.2,539.2 332.4,537.2 332.5,537.9 332.6,539.4 332.7,535.5 332.9,538.3 333.0,536.8 333.1,536.3 333.2,533.4 333.4,532.4 333.5,526.3 333.6,523.7 333.7,519.5 333.9,523.5 334.0,526.9 334.1,526.7 334.2,526.6 334.4,521.1 334.5,509.6 334.6,498.3 334.7,481.7 334.9,458.3 335.0,436.7 335.1,411.9 335.2,395.3 335.3,391.2 335.5,397.4 335.6,412.9 335.7,435.4 335.8,460.1 336.0,480.2 336.1,500.9 336.2,512.5 336.3,521.7 336.5,527.6 336.6,530.6 336.7,534.5 336.8,533.8 337.0,535.5 337.1,536.5 337.2,537.8 337.3,537.9 337.5,536.4 337.6,538.1 337.7,537.2 337.8,536.2 338.0,536.4 338.1,535.9 338.2,538.1 338.3,539.1 338.5,536.8 338.6,537.7 338.7,536.8 338.8,538.1 339.0,536.9 339.1,537.3 339.2,537.5 339.3,537.7 339.4,537.9 339.6,538.0 339.7,538.0 339.8,537.1 339.9,538.6 340.1,536.0 340.2,537.8 340.3,536.3 340.4,537.2 340.6,537.0 340.7,534.1 340.8,536.3 340.9,537.0 341.1,536.0 341.2,535.2 341.3,532.3 341.4,534.3 341.6,533.5 341.7,535.7 341.8,534.5 341.9,534.4 342.1,533.5 342.2,536.7 342.3,535.6 342.4,536.4 342.6,538.2 342.7,537.4 342.8,537.9 342.9,540.4 343.1,537.3 343.2,537.5 343.3,538.6 343.4,539.6 343.6,536.5 343.7,537.8 343.8,536.9 343.9,536.4 344.0,538.5 344.2,537.0 344.3,538.1 344.4,537.8 344.5,537.7 344.7,537.6 344.8,536.2 344.9,537.2 345.0,537.4 345.2,537.4 345.3,536.5 345.4,537.7 345.5,537.1 345.7,536.3 345.8,536.6 345.9,535.8 346.0,536.0 346.2,532.6 346.3,532.7 346.4,532.9 346.5,532.2 346.7,527.9 346.8,527.0 346.9,522.8 347.0,515.1 347.2,504.3 347.3,488.0 347.4,469.6 347.5,442.7 347.7,418.1 347.8,387.6 347.9,363.7 348.0,342.3 348.2,337.9 348.3,344.3 348.4,361.6 348.5,387.0 348.6,418.3 348.8,445.4 348.9,471.1 349.0,489.4 349.1,504.8 349.3,515.8 349.4,523.4 349.5,527.8 349.6,531.1 349.8,531.6 349.9,531.7 350.0,536.3 350.1,534.9 350.3,535.7 350.4,535.1 350.5,537.0 350.6,536.4 350.8,537.6 350.9,535.9 351.0,536.7 351.1,537.2 351.3,536.8 351.4,537.6 351.5,539.1 351.6,536.8 351.8,537.3 351.9,537.8 352.0,536.7 352.1,536.5 352.3,539.1 352.4,538.8 352.5,536.3 352.6,536.5 352.8,538.9 352.9,539.4 353.0,538.9 353.1,538.7 353.2,540.0 353.4,538.2 353.5,539.7 353.6,539.7 353.7,537.3 353.9,539.1 354.0,538.5 354.1,537.7 354.2,537.5 354.4,538.8 354.5,538.4 354.6,539.3 354.7,536.5 354.9,537.6 355.0,539.5 355.1,538.3 355.2,537.4 355.4,537.5 355.5,535.9 355.6,536.3 355.7,538.2 355.9,537.5 356.0,538.6 356.1,536.6 356.2,536.5 356.4,533.4 356.5,536.0 356.6,538.2 356.7,536.4 356.9,535.3 357.0,536.6 357.1,536.1 357.2,535.4 357.4,534.6 357.5,535.2 357.6,536.1 357.7,534.4 357.8,536.0 358.0,536.2 358.1,537.4 358.2,537.0 358.3,535.7 358.5,538.4 358.6,537.0 358.7,536.3 358.8,537.8 359.0,537.3 359.1,539.0 359.2,536.5 359.3,536.8 359.5,537.9 359.6,540.2 359.7,539.5 359.8,537.3 360.0,536.6 360.1,538.2 360.2,537.2 360.3,539.2 360.5,538.8 360.6,538.6 360.7,538.1 360.8,540.3 361.0,537.6 361.1,537.1 361.2,539.9 361.3,540.1 361.5,538.2 361.6,539.3 361.7,541.2 361.8,537.7 362.0,538.4 362.1,539.1 362.2,536.2 362.3,538.4 362.4,539.4 362.6,538.4 362.7,539.7 362.8,539.4 362.9,538.1 363.1,539.1 363.2,539.0 363.3,536.6 363.4,537.5 363.6,537.5 363.7,537.8 363.8,537.8 363.9,536.8 364.1,538.4 364.2,536.3 364.3,539.3 364.4,538.5 364.6,539.7 364.7,538.6 364.8,537.6 364.9,536.5 365.1,538.8 365.2,538.0 365.3,538.3 365.4,538.6 365.6,539.0 365.7,537.5 365.8,539.3 365.9,537.0 366.1,536.8 366.2,537.0 366.3,536.7 366.4,536.1 366.5,531.0 366.7,532.6 366.8,526.8 366.9,524.7 367.0,521.9 367.2,518.3 367.3,511.1 367.4,505.4 367.5,503.7 367.7,499.1 367.8,495.1 367.9,494.9 368.0,494.0 368.2,499.4 368.3,502.1 368.4,508.7 368.5,509.9 368.7,517.8 368.8,523.9 368.9,525.4 369.0,528.6 369.2,528.9 369.3,533.3 369.4,534.4 369.5,534.7 369.7,534.2 369.8,536.4 369.9,535.3 370.0,535.9 370.2,536.7 370.3,536.1 370.4,535.9 370.5,536.6 370.7,533.7 370.8,535.7 370.9,531.7 371.0,530.0 371.1,528.5 371.3,525.3 371.4,519.2 371.5,511.2 371.6,501.8 371.8,491.3 371.9,478.0 372.0,466.6 372.1,453.0 372.3,444.2 372.4,434.1 372.5,432.2 372.6,435.4 372.8,441.1 372.9,452.5 373.0,469.1 373.1,479.1 373.3,493.2 373.4,501.4 373.5,508.9 373.6,519.5 373.8,524.2 373.9,528.3 374.0,530.0 374.1,530.5 374.3,529.3 374.4,530.0 374.5,524.3 374.6,523.3 374.8,517.4 374.9,511.1 375.0,505.8 375.1,501.7 375.3,495.9 375.4,490.9 375.5,487.4 375.6,484.9 375.7,488.7 375.9,489.9 376.0,494.4 376.1,500.0 376.2,506.1 376.4,510.7 376.5,517.2 376.6,521.5 376.7,525.7 376.9,527.4 377.0,533.9 377.1,532.1 377.2,535.0 377.4,535.9 377.5,537.3 377.6,538.7 377.7,537.4 377.9,537.9 378.0,536.8 378.1,539.1 378.2,535.9 378.4,537.3 378.5,537.9 378.6,538.5 378.7,538.7 378.9,539.1 379.0,538.5 379.1,537.9 379.2,538.1 379.4,539.5 379.5,538.3 379.6,539.0 379.7,537.9 379.9,536.0 380.0,537.4 380.1,538.4 380.2,539.9 380.3,539.6 380.5,540.0 380.6,537.3 380.7,538.9 380.8,538.0 381.0,538.8 381.1,538.0 381.2,536.5 381.3,538.8 381.5,538.4 381.6,538.8 381.7,536.9 381.8,538.8 382.0,538.7 382.1,538.7 382.2,538.3 382.3,535.7 382.5,532.7 382.6,535.9 382.7,532.8 382.8,532.6 383.0,533.2 383.1,531.4 383.2,530.6 383.3,530.6 383.5,527.5 383.6,532.0 383.7,529.9 383.8,530.7 384.0,532.6 384.1,532.7 384.2,532.8 384.3,534.5 384.5,535.0 384.6,535.3 384.7,538.8 384.8,535.3 384.9,534.6 385.1,536.1 385.2,536.1 385.3,538.8 385.4,537.3 385.6,538.0 385.7,537.7 385.8,535.9 385.9,537.8 386.1,536.9 386.2,538.8 386.3,536.7 386.4,536.3 386.6,537.1 386.7,536.9 386.8,533.9 386.9,537.1 387.1,536.7 387.2,536.1 387.3,533.5 387.4,532.0 387.6,533.4 387.7,533.8 387.8,532.4 387.9,529.2 388.1,529.5 388.2,524.3 388.3,521.0 388.4,518.2 388.6,512.2 388.7,505.5 388.8,496.8 388.9,490.6 389.0,477.9 389.2,468.5 389.3,457.3 389.4,444.7 389.5,433.9 389.7,424.8 389.8,417.7 389.9,411.9 390.0,407.5 390.2,408.7 390.3,415.2 390.4,422.4 390.5,434.2 390.7,444.8 390.8,456.1 390.9,469.3 391.0,480.3 391.2,489.2 391.3,498.7 391.4,507.1 391.5,511.4 391.7,516.0 391.8,515.7 391.9,515.0 392.0,510.9 392.2,504.4 392.3,497.6 392.4,490.8 392.5,483.5 392.7,476.4 392.8,472.5 392.9,470.4 393.0,475.1 393.2,477.7 393.3,483.6 393.4,490.0 393.5,498.2 393.6,505.7 393.8,511.0 393.9,517.5 394.0,523.7 394.1,524.3 394.3,526.3 394.4,528.0 394.5,525.2 394.6,525.2 394.8,521.6 394.9,522.2 395.0,522.9 395.1,523.4 395.3,525.5 395.4,526.6 395.5,528.8 395.6,531.1 395.8,533.5 395.9,538.4 396.0,535.3 396.1,538.3 396.3,536.3 396.4,535.4 396.5,536.0 396.6,536.1 396.8,534.8 396.9,533.5 397.0,532.5 397.1,531.1 397.3,530.3 397.4,527.2 397.5,528.6 397.6,528.2 397.8,530.7 397.9,531.8 398.0,533.6 398.1,534.2 398.2,534.8 398.4,536.3 398.5,537.8 398.6,538.3 398.7,535.8 398.9,538.0 399.0,538.1 399.1,536.2 399.2,536.7 399.4,537.3 399.5,538.3 399.6,535.3 399.7,537.5 399.9,537.3 400.0,538.1 400.1,539.5 400.2,539.4 400.4,537.5 400.5,537.6 400.6,538.3 400.7,539.3 400.9,539.6 401.0,538.4 401.1,539.6 401.2,537.0 401.4,536.7 401.5,534.9 401.6,537.1 401.7,538.7 401.9,539.0 402.0,541.9 402.1,538.7 402.2,538.2 402.4,536.9 402.5,537.3 402.6,537.3 402.7,537.6 402.8,537.0 403.0,536.0 403.1,538.6 403.2,537.7 403.3,538.4 403.5,534.7 403.6,534.7 403.7,534.9 403.8,536.6 404.0,534.8 404.1,534.9 404.2,534.4 404.3,534.7 404.5,534.1 404.6,535.4 404.7,534.3 404.8,535.4 405.0,536.4 405.1,536.6 405.2,537.3 405.3,536.2 405.5,537.7 405.6,537.3 405.7,538.2 405.8,539.5 406.0,537.0 406.1,539.2 406.2,537.3 406.3,537.6 406.5,539.9 406.6,539.2 406.7,538.7 406.8,539.1 407.0,539.5 407.1,537.3 407.2,538.4 407.3,537.7 407.4,538.7 407.6,537.8 407.7,539.0 407.8,538.2 407.9,537.6 408.1,538.2 408.2,538.7 408.3,539.4 408.4,538.0 408.6,537.8 408.7,538.5 408.8,539.1 408.9,537.6 409.1,535.5 409.2,538.6 409.3,537.9 409.4,537.8 409.6,541.1 409.7,538.1 409.8,539.0 409.9,536.7 410.1,538.5 410.2,539.1 410.3,538.5 410.4,538.1 410.6,538.9 410.7,538.3 410.8,539.8 410.9,538.5 411.1,537.4 411.2,536.1 411.3,537.5 411.4,537.9 411.6,536.9 411.7,537.1 411.8,536.4 411.9,537.0 412.0,538.2 412.2,537.8 412.3,537.8 412.4,537.5 412.5,537.4 412.7,538.3 412.8,539.4 412.9,537.4 413.0,538.5 413.2,535.6 413.3,535.2 413.4,536.5 413.5,533.3 413.7,532.7 413.8,533.3 413.9,531.5 414.0,531.3 414.2,535.0 414.3,533.0 414.4,534.2 414.5,534.7 414.7,534.7 414.8,537.1 414.9,537.4 415.0,538.0 415.2,538.3 415.3,537.8 415.4,539.5 415.5,539.2 415.7,537.5 415.8,538.3 415.9,537.8 416.0,540.4 416.1,539.2 416.3,538.9 416.4,538.3 416.5,539.0 416.6,537.3 416.8,538.4 416.9,538.4 417.0,538.4 417.1,537.6 417.3,538.9 417.4,537.2 417.5,537.9 417.6,538.2 417.8,538.4 417.9,537.8 418.0,537.3 418.1,537.3 418.3,538.0 418.4,537.4 418.5,538.2 418.6,536.9 418.8,538.3 418.9,540.4 419.0,536.5 419.1,537.6 419.3,538.7 419.4,537.2 419.5,537.5 419.6,533.7 419.8,534.9 419.9,536.7 420.0,534.0 420.1,535.0 420.3,532.5 420.4,536.1 420.5,537.9 420.6,535.9 420.7,536.9 420.9,537.5 421.0,539.8 421.1,537.3 421.2,536.1 421.4,540.3 421.5,537.0 421.6,539.0 421.7,535.8 421.9,537.9 422.0,538.7 422.1,537.2 422.2,537.9 422.4,539.1 422.5,537.7 422.6,539.0 422.7,540.5 422.9,536.2 423.0,538.9 423.1,539.2 423.2,538.1 423.4,540.2 423.5,540.0 423.6,539.1 423.7,539.1 423.9,538.4 424.0,537.3 424.1,539.0 424.2,538.0 424.4,537.8 424.5,539.7 424.6,538.2 424.7,539.5 424.9,537.3 425.0,538.0 425.1,538.5 425.2,540.0 425.3,538.4 425.5,539.3 425.6,537.7 425.7,538.6 425.8,539.4 426.0,537.5 426.1,537.7 426.2,539.1 426.3,537.2 426.5,538.8 426.6,538.8 426.7,538.3 426.8,539.3 427.0,539.0 427.1,538.6 427.2,536.8 427.3,536.8 427.5,538.7 427.6,536.7 427.7,538.5 427.8,538.0 428.0,537.5 428.1,538.1 428.2,535.7 428.3,538.1 428.5,539.7 428.6,537.0 428.7,538.8 428.8,538.7 429.0,541.7 429.1,537.3 429.2,537.4 429.3,537.5 429.5,537.2 429.6,536.4 429.7,538.3 429.8,537.2 429.9,539.1 430.1,538.6 430.2,537.1 430.3,537.8 430.4,539.7 430.6,537.8 430.7,538.3 430.8,539.0 430.9,537.6 431.1,538.5 431.2,539.7 431.3,539.1 431.4,535.9 431.6,539.5 431.7,537.4 431.8,536.9 431.9,536.7 432.1,538.6 432.2,537.4 432.3,536.6 432.4,535.6 432.6,536.8 432.7,536.9 432.8,533.9 432.9,533.1 433.1,533.1 433.2,533.2 433.3,530.9 433.4,530.0 433.6,527.7 433.7,528.4 433.8,525.1 433.9,523.5 434.1,522.6 434.2,519.0 434.3,517.1 434.4,515.4 434.5,512.5 434.7,512.6 434.8,509.4 434.9,507.4 435.0,506.5 435.2,504.9 435.3,507.2 435.4,507.8 435.5,506.5 435.7,507.4 435.8,507.0 435.9,510.3 436.0,513.9 436.2,514.1 436.3,518.0 436.4,520.7 436.5,518.1 436.7,522.3 436.8,523.2 436.9,524.3 437.0,523.2 437.2,524.8 437.3,523.2 437.4,524.9 437.5,524.6 437.7,520.8 437.8,520.5 437.9,521.6 438.0,522.5 438.2,523.4 438.3,525.5 438.4,524.4 438.5,526.9 438.7,528.6 438.8,530.2 438.9,530.8 439.0,532.6 439.1,533.4 439.3,536.5 439.4,535.4 439.5,534.1 439.6,537.6 439.8,537.5 439.9,536.7 440.0,536.8 440.1,537.3 440.3,539.9 440.4,537.6 440.5,539.6 440.6,539.2 440.8,537.8 440.9,538.7 441.0,537.5 441.1,535.0 441.3,537.6 441.4,537.7 441.5,539.5 441.6,539.3 441.8,539.7 441.9,539.2 442.0,539.8 442.1,539.3 442.3,538.8 442.4,539.7 442.5,540.2 442.6,540.1 442.8,538.1 442.9,538.5 443.0,537.4 443.1,537.2 443.2,538.6 443.4,537.4 443.5,539.5 443.6,535.1 443.7,535.9 443.9,537.1 444.0,537.7 444.1,535.5 444.2,537.5 444.4,535.8 444.5,533.6 444.6,534.0 444.7,534.2 444.9,532.4 445.0,534.6 445.1,533.2 445.2,534.3 445.4,535.0 445.5,534.0 445.6,536.1 445.7,533.4 445.9,536.6 446.0,534.3 446.1,538.1 446.2,536.6 446.4,539.0 446.5,539.4 446.6,538.0 446.7,537.6 446.9,539.9 447.0,537.3 447.1,539.6 447.2,538.6 447.4,538.4 447.5,538.2 447.6,540.9 447.7,537.1 447.8,538.3 448.0,539.4 448.1,540.1 448.2,540.8 448.3,540.5 448.5,538.4 448.6,539.4 448.7,540.2 448.8,539.6 449.0,537.3 449.1,539.4 449.2,539.7 449.3,537.5 449.5,538.5 449.6,539.0 449.7,539.7 449.8,540.8 450.0,540.3 450.1,539.6 450.2,539.3 450.3,538.7 450.5,538.4 450.6,538.8 450.7,538.8 450.8,540.2 451.0,541.5 451.1,539.7 451.2,540.1 451.3,539.8 451.5,539.4 451.6,540.5 451.7,540.3 451.8,539.2 452.0,539.0 452.1,539.8 452.2,538.6 452.3,539.4 452.4,540.2 452.6,539.1 452.7,537.0 452.8,539.9 452.9,537.8 453.1,537.6 453.2,537.5 453.3,540.0 453.4,536.9 453.6,539.0 453.7,539.4 453.8,539.4 453.9,538.5 454.1,539.1 454.2,539.4 454.3,537.7 454.4,540.0 454.6,540.3 454.7,538.3 454.8,538.4 454.9,538.0 455.1,540.4 455.2,538.0 455.3,538.6 455.4,537.2 455.6,540.6 455.7,538.9 455.8,539.5 455.9,540.9 456.1,540.0 456.2,537.9 456.3,539.7 456.4,540.0 456.6,538.2 456.7,538.1 456.8,538.1 456.9,540.1 457.0,539.2 457.2,538.0 457.3,539.9 457.4,540.0 457.5,538.2 457.7,537.4 457.8,540.4 457.9,541.9 458.0,540.6 458.2,540.0 458.3,538.9 458.4,537.8 458.5,538.4 458.7,538.8 458.8,537.5 458.9,538.4 459.0,537.0 459.2,537.3 459.3,533.3 459.4,535.2 459.5,536.9 459.7,537.0 459.8,536.5 459.9,538.1 460.0,537.4 460.2,537.8 460.3,536.4 460.4,538.2 460.5,538.9 460.7,539.8 460.8,539.9 460.9,538.8 461.0,539.1 461.2,537.8 461.3,539.8 461.4,538.0 461.5,538.9 461.6,539.2 461.8,541.5 461.9,540.7 462.0,538.4 462.1,537.7 462.3,539.1 462.4,538.5 462.5,539.8 462.6,539.7 462.8,540.1 462.9,538.2 463.0,538.9 463.1,539.6 463.3,539.7 463.4,538.7 463.5,539.0 463.6,540.3 463.8,537.5 463.9,539.1 464.0,539.3 464.1,537.7 464.3,538.2 464.4,539.5 464.5,538.8 464.6,540.6 464.8,540.1 464.9,541.9 465.0,538.0 465.1,541.5 465.3,538.6 465.4,540.3 465.5,540.5 465.6,539.6 465.7,539.1 465.9,538.7 466.0,537.4 466.1,539.0 466.2,538.4 466.4,540.1 466.5,538.6 466.6,539.3 466.7,539.9 466.9,539.5 467.0,539.5 467.1,539.2 467.2,539.0 467.4,540.0 467.5,540.2 467.6,538.6 467.7,541.3 467.9,540.1 468.0,537.7 468.1,542.4 468.2,540.2 468.4,538.7 468.5,541.2 468.6,536.5 468.7,542.3 468.9,537.8 469.0,537.7 469.1,538.4 469.2,539.7 469.4,539.0 469.5,540.4 469.6,538.5 469.7,540.6 469.9,539.7 470.0,538.3 470.1,540.6 470.2,539.8 470.3,539.2 470.5,540.9 470.6,538.1 470.7,539.0 470.8,541.1 471.0,539.4 471.1,540.3 471.2,540.1 471.3,539.3 471.5,540.2 471.6,538.3 471.7,540.2 471.8,538.3 472.0,539.4 472.1,538.4 472.2,540.0 472.3,539.9 472.5,540.7 472.6,538.7 472.7,538.3 472.8,537.0 473.0,537.9 473.1,539.1 473.2,539.6 473.3,538.9 473.5,539.4 473.6,537.7 473.7,538.3 473.8,540.3 474.0,540.1 474.1,537.8 474.2,539.0 474.3,539.6 474.5,538.0 474.6,539.8 474.7,539.6 474.8,539.8 474.9,541.5 475.1,538.3 475.2,540.6 475.3,539.9 475.4,540.1 475.6,538.4 475.7,539.3 475.8,539.1 475.9,541.0 476.1,539.1 476.2,540.5 476.3,538.4 476.4,538.2 476.6,538.4 476.7,535.9 476.8,537.3 476.9,536.9 477.1,537.1 477.2,537.1 477.3,535.5 477.4,535.0 477.6,537.3 477.7,534.5 477.8,534.9 477.9,534.4 478.1,535.0 478.2,537.0 478.3,537.2 478.4,534.2 478.6,536.3 478.7,538.5 478.8,536.9 478.9,538.0 479.1,539.9 479.2,540.7 479.3,540.2 479.4,538.3 479.5,538.8 479.7,539.2 479.8,538.7 479.9,538.4 480.0,541.5 480.2,539.5 480.3,540.1 480.4,540.6 480.5,539.8 480.7,539.4 480.8,539.6 480.9,540.9 481.0,539.8 481.2,537.0 481.3,540.5 481.4,541.2 481.5,539.0 481.7,538.6 481.8,538.8 481.9,540.5 482.0,538.2 482.2,540.2 482.3,540.6 482.4,540.0 482.5,539.4 482.7,538.5 482.8,538.6 482.9,539.3 483.0,538.3 483.2,539.2 483.3,538.3 483.4,540.8 483.5,541.0 483.7,538.4 483.8,540.8 483.9,539.6 484.0,539.4 484.1,539.8 484.3,539.8 484.4,537.7 484.5,542.1 484.6,538.3 484.8,536.7 484.9,539.2 485.0,539.2 485.1,538.4 485.3,537.2 485.4,540.5 485.5,539.1 485.6,539.4 485.8,538.5 485.9,538.9 486.0,538.4 486.1,539.5 486.3,539.0 486.4,539.7 486.5,539.5 486.6,538.8 486.8,538.4 486.9,539.1 487.0,535.3 487.1,536.1 487.3,536.2 487.4,531.9 487.5,532.3 487.6,529.4 487.8,528.9 487.9,528.2 488.0,528.7 488.1,530.6 488.3,531.4 488.4,530.9 488.5,537.1 488.6,535.9 488.7,536.5 488.9,538.9 489.0,539.8 489.1,536.2 489.2,539.2 489.4,536.5 489.5,538.3 489.6,538.8 489.7,538.4 489.9,538.2 490.0,537.6 490.1,538.4 490.2,538.7 490.4,538.6 490.5,537.3 490.6,537.8 490.7,539.8 490.9,539.3 491.0,538.2 491.1,539.1 491.2,538.7 491.4,539.1 491.5,538.1 491.6,536.9 491.7,535.8 491.9,536.2 492.0,533.0 492.1,534.2 492.2,529.2 492.4,529.9 492.5,528.5 492.6,527.4 492.7,527.7 492.8,522.3 493.0,519.6 493.1,515.5 493.2,517.5 493.3,512.7 493.5,514.7 493.6,514.0 493.7,518.8 493.8,517.5 494.0,520.1 494.1,521.3 494.2,524.3 494.3,527.9 494.5,527.6 494.6,529.4 494.7,530.4 494.8,530.1 495.0,529.4 495.1,529.5 495.2,529.6 495.3,528.2 495.5,523.7 495.6,523.1 495.7,522.8 495.8,522.7 496.0,521.9 496.1,522.2 496.2,523.2 496.3,524.6 496.5,522.7 496.6,526.2 496.7,528.5 496.8,530.4 497.0,530.4 497.1,528.9 497.2,528.4 497.3,528.5 497.4,526.9 497.6,525.9 497.7,525.4 497.8,521.5 497.9,521.7 498.1,518.9 498.2,522.5 498.3,522.3 498.4,522.0 498.6,524.5 498.7,527.2 498.8,528.3 498.9,528.8 499.1,530.0 499.2,532.0 499.3,532.1 499.4,533.3 499.6,535.0 499.7,536.1 499.8,537.1 499.9,536.7 500.1,536.7 500.2,537.9 500.3,537.7 500.4,538.7 500.6,540.0 500.7,539.7 500.8,537.8 500.9,538.1 501.1,536.9 501.2,538.6 501.3,537.7 501.4,537.2 501.6,537.5 501.7,539.2 501.8,538.7 501.9,538.3 502.0,539.4 502.2,537.6 502.3,536.8 502.4,538.2 502.5,535.1 502.7,537.0 502.8,536.3 502.9,535.5 503.0,534.9 503.2,532.3 503.3,531.2 503.4,527.6 503.5,526.7 503.7,524.5 503.8,523.0 503.9,522.0 504.0,518.3 504.2,517.1 504.3,513.6 504.4,513.6 504.5,511.4 504.7,512.8 504.8,513.7 504.9,515.9 505.0,517.9 505.2,519.7 505.3,521.7 505.4,525.9 505.5,526.8 505.7,526.5 505.8,531.3 505.9,533.1 506.0,534.9 506.2,536.8 506.3,534.7 506.4,536.6 506.5,536.9 506.6,535.6 506.8,535.1 506.9,539.1 507.0,537.1 507.1,537.7 507.3,538.0 507.4,538.0 507.5,538.6 507.6,536.9 507.8,538.0 507.9,538.4 508.0,537.4 508.1,537.8 508.3,538.3 508.4,538.5 508.5,536.9 508.6,538.3 508.8,539.0 508.9,539.9 509.0,539.3 509.1,540.1 509.3,538.8 509.4,538.7 509.5,541.2 509.6,539.0 509.8,538.3 509.9,538.8 510.0,540.1 510.1,537.6 510.3,539.8 510.4,540.4 510.5,540.2 510.6,539.1 510.8,538.0 510.9,537.8 511.0,538.8 511.1,540.4 511.2,539.8 511.4,540.1 511.5,539.3 511.6,541.0 511.7,538.9 511.9,538.3 512.0,539.2 512.1,538.5 512.2,540.0 512.4,540.6 512.5,539.6 512.6,537.6 512.7,537.7 512.9,539.3 513.0,537.3 513.1,538.9 513.2,536.8 513.4,537.8 513.5,538.7 513.6,537.2 513.7,538.8 513.9,538.8 514.0,539.2 514.1,537.2 514.2,537.4 514.4,537.3 514.5,537.5 514.6,535.4 514.7,537.4 514.9,537.6 515.0,535.5 515.1,535.3 515.2,536.6 515.4,539.0 515.5,537.8 515.6,536.6 515.7,537.4 515.8,535.9 516.0,539.3 516.1,537.2 516.2,538.8 516.3,536.8 516.5,538.4 516.6,537.3 516.7,539.3 516.8,540.2 517.0,539.9 517.1,539.4 517.2,539.9 517.3,537.5 517.5,537.4 517.6,538.6 517.7,540.0 517.8,539.0 518.0,539.6 518.1,537.3 518.2,538.5 518.3,538.3 518.5,539.3 518.6,541.1 518.7,539.7 518.8,540.1 519.0,538.4 519.1,538.7 519.2,539.7 519.3,539.2 519.5,537.0 519.6,539.8 519.7,539.8 519.8,539.0 519.9,539.5 520.1,539.2 520.2,538.1 520.3,536.7 520.4,540.6 520.6,538.7 520.7,538.6 520.8,538.7 520.9,538.8 521.1,538.9 521.2,537.4 521.3,539.0 521.4,538.6 521.6,538.5 521.7,538.3 521.8,538.6 521.9,537.3 522.1,538.4 522.2,538.1 522.3,538.4 522.4,539.4 522.6,539.1 522.7,539.3 522.8,537.8 522.9,538.7 523.1,539.0 523.2,537.4 523.3,537.0 523.4,539.3 523.6,535.3 523.7,536.9 523.8,536.9 523.9,535.3 524.1,536.2 524.2,536.6 524.3,533.3 524.4,536.6 524.5,535.3 524.7,534.1 524.8,536.0 524.9,534.8 525.0,534.1 525.2,531.9 525.3,535.5 525.4,534.7 525.5,534.0 525.7,534.8 525.8,536.4 525.9,534.8 526.0,535.4 526.2,535.3 526.3,534.7 526.4,535.1 526.5,536.0 526.7,536.3 526.8,538.0 526.9,537.1 527.0,536.9 527.2,537.7 527.3,537.2 527.4,538.3 527.5,535.8 527.7,535.2 527.8,538.0 527.9,537.2 528.0,537.9 528.2,536.3 528.3,537.2 528.4,537.6 528.5,537.9 528.7,537.5 528.8,538.8 528.9,536.9"/>
<text text-anchor="middle" transform="translate(388.8 577.2) scale(1 1.05)" font-size="11.50px">2 theta (deg)</text>
<text text-anchor="middle" transform="translate(216.0 431.0) rotate(-90) scale(1.05 1)" font-size="10.40px">Intensity</text>
<path class="ld" d="M315.0 331.6L335.0 389.8"/>
<text transform="translate(302.0 330.3) scale(1 1.05)" font-size="8.50px">(18.86)</text>
<path class="ld" d="M353.7 328.4L348.0 337.5"/>
<text transform="translate(352.4 327.4) scale(1 1.05)" font-size="8.50px">(20.92)</text>
<path class="ld" d="M286.0 356.6L293.0 411.2"/>
<text transform="translate(272.5 354.9) scale(1 1.05)" font-size="8.50px">(11.98)</text>
<path class="ld" d="M261.5 385.0L277.0 455.0"/>
<text transform="translate(252.4 383.2) scale(1 1.05)" font-size="8.50px">(9.4)</text>
<path class="ld" d="M309.0 427.2L307.4 462.0"/>
<text transform="translate(296.6 425.5) scale(1 1.05)" font-size="8.50px">(14.36)</text>
<path class="ld" d="M383.4 389.8L372.3 432.4"/>
<text transform="translate(369.3 388.1) scale(1 1.05)" font-size="8.50px">(24.84)</text>
<path class="ld" d="M408.0 391.0L392.0 407.0"/>
<text transform="translate(406.7 389.8) scale(1 1.05)" font-size="8.50px">(27.66)</text>
<path class="ld" d="M411.6 427.4L376.5 486.5"/>
<text transform="translate(410.4 426.7) scale(1 1.05)" font-size="8.50px">(25.34)</text>
<path class="ld" d="M407.2 453.4L393.7 470.6"/>
<text transform="translate(406.0 452.4) scale(1 1.05)" font-size="8.50px">(28.12)</text>
<path class="ld" d="M440.6 482.1L435.0 505.0"/>
<text transform="translate(440.6 481.0) scale(1 1.05)" font-size="8.50px">(34.94)</text>
<path class="ld" d="M505.2 468.8L505.2 512.4"/>
<text transform="translate(483.0 467.0) scale(1 1.05)" font-size="8.50px">(46.08, 373)</text>
<rect x="498.3" y="319.9" width="30.4" height="10.5" fill="#fff" stroke="#8a8a8a" stroke-width=".7"/>
<path d="M499 325h16.8" stroke="#2a2a2a" stroke-width="1.7"/>
<text transform="translate(517.8 327.9) scale(1 1.12)" font-size="7.20px">C2</text>
<text class="cap" text-anchor="middle" transform="translate(389.7 604.7) scale(1 1.08)" font-size="18.00px">(c)</text>
</g>
<g id="plot-b">
<rect x="381.5" y="6.4" width="350.4" height="236.9" fill="#fff" stroke="#2b2b2b" stroke-width="1.6"/>
<rect x="592.4" y="197.3" width="133.0" height="7.6" fill="#800080"/>
<path d="M594.35 197v8.2M601.02 197v8.2M606.74 197v8.2M615.84 197v8.2M619.41 197v8.2M623.20 197v8.2M629.62 197v8.2M634.80 197v8.2M644.67 197v8.2M653.74 197v8.2M661.27 197v8.2M675.61 197v8.2M690.36 197v8.2M706.29 197v8.2" stroke="#fff" stroke-width=".7"/>
<path d="M595.00 197.3v7.6M611.95 197.3v7.6M627.60 197.3v7.6M649.12 197.3v7.6M666.72 197.3v7.6M684.98 197.3v7.6M709.10 197.3v7.6M722.79 197.3v7.6" stroke="#3b1b3b" stroke-width=".8"/>
<path d="M447.84 197.4v7.4M454.17 197.4v7.4M460.04 197.4v7.4M479.60 197.4v7.4M481.88 197.4v7.4M483.96 197.4v7.4M488.07 197.4v7.4M490.03 197.4v7.4M491.98 197.4v7.4M494.59 197.4v7.4M502.42 197.4v7.4M505.02 197.4v7.4M513.17 197.4v7.4M518.06 197.4v7.4M519.69 197.4v7.4M524.91 197.4v7.4M526.21 197.4v7.4M531.76 197.4v7.4M533.06 197.4v7.4M535.34 197.4v7.4M538.02 197.4v7.4M550.35 197.4v7.4M551.73 197.4v7.4M579.54 197.4v7.4M583.85 197.4v7.4M586.68 197.4v7.4M588.06 197.4v7.4" stroke="#b14fb1" stroke-width=".85"/>
<path d="M534.50 197.4v7.4M537.20 197.4v7.4M539.91 197.4v7.4M541.05 197.4v7.4M542.36 197.4v7.4M543.38 197.4v7.4M544.21 197.4v7.4M545.73 197.4v7.4M547.05 197.4v7.4M548.42 197.4v7.4M553.01 197.4v7.4M554.43 197.4v7.4M555.39 197.4v7.4M557.17 197.4v7.4M557.99 197.4v7.4M559.01 197.4v7.4M561.83 197.4v7.4M562.74 197.4v7.4M565.26 197.4v7.4M566.18 197.4v7.4M567.44 197.4v7.4M569.27 197.4v7.4M570.19 197.4v7.4M570.80 197.4v7.4M572.36 197.4v7.4M573.39 197.4v7.4M574.03 197.4v7.4M574.65 197.4v7.4M575.82 197.4v7.4M577.38 197.4v7.4M578.14 197.4v7.4M580.59 197.4v7.4M581.90 197.4v7.4M585.31 197.4v7.4M587.46 197.4v7.4M590.00 197.4v7.4M592.32 197.4v7.4M593.16 197.4v7.4" stroke="#8a108a" stroke-width="1.05"/>
<path d="M435.52 197.4v7.4M439.82 197.4v7.4M469.95 197.4v7.4M472.42 197.4v7.4M496.09 197.4v7.4M523.28 197.4v7.4" stroke="#3a8a3a" stroke-width=".85"/>
<path d="M509.59 197.4v7.4M510.89 197.4v7.4M515.46 197.4v7.4M559.77 197.4v7.4M560.98 197.4v7.4M564.57 197.4v7.4M576.71 197.4v7.4M582.67 197.4v7.4M588.93 197.4v7.4M591.42 197.4v7.4M594.66 197.4v7.4" stroke="#222" stroke-width=".85"/>
<polyline fill="none" stroke="#5a66ff" stroke-width=".5" points="432.0,194.3 432.1,194.3 432.1,194.3 432.2,194.3 432.3,194.3 432.3,194.3 432.4,194.3 432.5,194.3 432.5,194.3 432.6,194.3 432.7,194.3 432.7,194.3 432.8,194.3 432.8,194.3 432.9,194.3 433.0,194.3 433.0,194.3 433.1,194.3 433.2,194.3 433.2,194.3 433.3,194.2 433.4,194.2 433.4,194.2 433.5,194.2 433.6,194.2 433.6,194.2 433.7,194.2 433.8,194.2 433.8,194.2 433.9,194.2 434.0,194.2 434.0,194.2 434.1,194.2 434.2,194.2 434.2,194.2 434.3,194.2 434.3,194.2 434.4,194.2 434.5,194.2 434.5,194.2 434.6,194.2 434.7,194.2 434.7,194.2 434.8,194.2 434.9,194.2 434.9,194.2 435.0,194.2 435.1,194.2 435.1,194.2 435.2,194.2 435.3,194.2 435.3,194.2 435.4,194.2 435.5,194.2 435.5,194.2 435.6,194.2 435.7,194.2 435.7,194.2 435.8,194.2 435.8,194.2 435.9,194.2 436.0,194.2 436.0,194.2 436.1,194.2 436.2,194.2 436.2,194.2 436.3,194.2 436.4,194.2 436.4,194.2 436.5,194.2 436.6,194.2 436.6,194.2 436.7,194.2 436.8,194.2 436.8,194.2 436.9,194.2 437.0,194.2 437.0,194.2 437.1,194.2 437.2,194.1 437.2,194.1 437.3,194.1 437.3,194.1 437.4,194.1 437.5,194.1 437.5,194.1 437.6,194.1 437.7,194.1 437.7,194.1 437.8,194.1 437.9,194.1 437.9,194.1 438.0,194.1 438.1,194.1 438.1,194.1 438.2,194.1 438.3,194.1 438.3,194.1 438.4,194.1 438.5,194.1 438.5,194.1 438.6,194.1 438.7,194.1 438.7,194.1 438.8,194.1 438.8,194.1 438.9,194.1 439.0,194.1 439.0,194.1 439.1,194.0 439.2,194.0 439.2,194.0 439.3,194.0 439.4,194.0 439.4,194.0 439.5,194.0 439.6,194.0 439.6,194.0 439.7,194.0 439.8,194.0 439.8,194.0 439.9,194.0 440.0,194.0 440.0,194.0 440.1,194.0 440.1,194.0 440.2,194.0 440.3,193.9 440.3,193.9 440.4,193.9 440.5,193.9 440.5,193.9 440.6,193.9 440.7,193.9 440.7,193.9 440.8,193.9 440.9,193.9 440.9,193.9 441.0,193.9 441.1,193.9 441.1,193.8 441.2,193.8 441.3,193.8 441.3,193.8 441.4,193.8 441.5,193.8 441.5,193.8 441.6,193.8 441.6,193.8 441.7,193.8 441.8,193.7 441.8,193.7 441.9,193.7 442.0,193.7 442.0,193.7 442.1,193.7 442.2,193.7 442.2,193.6 442.3,193.6 442.4,193.6 442.4,193.6 442.5,193.6 442.6,193.6 442.6,193.5 442.7,193.5 442.8,193.5 442.8,193.5 442.9,193.5 443.0,193.4 443.0,193.4 443.1,193.4 443.1,193.4 443.2,193.4 443.3,193.3 443.3,193.3 443.4,193.3 443.5,193.2 443.5,193.2 443.6,193.2 443.7,193.1 443.7,193.1 443.8,193.1 443.9,193.0 443.9,193.0 444.0,193.0 444.1,192.9 444.1,192.9 444.2,192.8 444.3,192.8 444.3,192.7 444.4,192.7 444.5,192.6 444.5,192.5 444.6,192.5 444.6,192.4 444.7,192.3 444.8,192.2 444.8,192.2 444.9,192.1 445.0,192.0 445.0,191.8 445.1,191.7 445.2,191.6 445.2,191.4 445.3,191.3 445.4,191.1 445.4,190.9 445.5,190.6 445.6,190.4 445.6,190.1 445.7,189.7 445.8,189.4 445.8,188.9 445.9,188.5 446.0,187.9 446.0,187.4 446.1,186.7 446.1,186.0 446.2,185.2 446.3,184.3 446.3,183.4 446.4,182.4 446.5,181.2 446.5,180.0 446.6,178.7 446.7,177.3 446.7,175.9 446.8,174.3 446.9,172.7 446.9,171.1 447.0,169.4 447.1,167.6 447.1,165.9 447.2,164.2 447.3,162.5 447.3,160.9 447.4,159.4 447.5,158.0 447.5,156.8 447.6,155.9 447.6,155.2 447.7,154.7 447.8,154.6 447.8,154.7 447.9,155.1 448.0,155.8 448.0,156.8 448.1,157.9 448.2,159.3 448.2,160.8 448.3,162.4 448.4,164.0 448.4,165.7 448.5,167.5 448.6,169.2 448.6,170.9 448.7,172.5 448.8,174.1 448.8,175.6 448.9,177.0 449.0,178.4 449.0,179.7 449.1,180.9 449.1,182.0 449.2,183.0 449.3,183.9 449.3,184.8 449.4,185.5 449.5,186.2 449.5,186.8 449.6,187.4 449.7,187.9 449.7,188.3 449.8,188.7 449.9,189.1 449.9,189.4 450.0,189.6 450.1,189.9 450.1,190.1 450.2,190.2 450.3,190.4 450.3,190.5 450.4,190.6 450.5,190.7 450.5,190.8 450.6,190.9 450.6,191.0 450.7,191.0 450.8,191.1 450.8,191.1 450.9,191.1 451.0,191.1 451.0,191.1 451.1,191.1 451.2,191.1 451.2,191.1 451.3,191.1 451.4,191.0 451.4,191.0 451.5,191.0 451.6,190.9 451.6,190.8 451.7,190.7 451.8,190.6 451.8,190.5 451.9,190.4 452.0,190.2 452.0,190.1 452.1,189.9 452.1,189.6 452.2,189.4 452.3,189.0 452.3,188.7 452.4,188.3 452.5,187.9 452.5,187.4 452.6,186.8 452.7,186.2 452.7,185.5 452.8,184.7 452.9,183.9 452.9,183.0 453.0,181.9 453.1,180.8 453.1,179.6 453.2,178.4 453.3,177.0 453.3,175.6 453.4,174.0 453.5,172.5 453.5,170.8 453.6,169.1 453.6,167.4 453.7,165.7 453.8,164.0 453.8,162.3 453.9,160.7 454.0,159.2 454.0,157.9 454.1,156.7 454.2,155.8 454.2,155.1 454.3,154.6 454.4,154.5 454.4,154.7 454.5,155.1 454.6,155.8 454.6,156.8 454.7,158.0 454.8,159.3 454.8,160.8 454.9,162.4 455.0,164.1 455.0,165.8 455.1,167.6 455.1,169.3 455.2,171.0 455.3,172.7 455.3,174.3 455.4,175.8 455.5,177.3 455.5,178.6 455.6,179.9 455.7,181.1 455.7,182.3 455.8,183.3 455.9,184.2 455.9,185.1 456.0,185.9 456.1,186.6 456.1,187.3 456.2,187.8 456.3,188.4 456.3,188.8 456.4,189.2 456.4,189.6 456.5,189.9 456.6,190.2 456.6,190.5 456.7,190.7 456.8,190.9 456.8,191.1 456.9,191.3 457.0,191.4 457.0,191.6 457.1,191.7 457.2,191.8 457.2,191.9 457.3,192.0 457.4,192.1 457.4,192.1 457.5,192.2 457.6,192.3 457.6,192.3 457.7,192.4 457.8,192.4 457.8,192.5 457.9,192.5 457.9,192.6 458.0,192.6 458.1,192.6 458.1,192.7 458.2,192.7 458.3,192.7 458.3,192.7 458.4,192.7 458.5,192.8 458.5,192.8 458.6,192.8 458.7,192.8 458.7,192.8 458.8,192.7 458.9,192.7 458.9,192.7 459.0,192.7 459.1,192.7 459.1,192.7 459.2,192.6 459.3,192.6 459.3,192.6 459.4,192.6 459.4,192.5 459.5,192.5 459.6,192.5 459.6,192.4 459.7,192.4 459.8,192.4 459.8,192.4 459.9,192.4 460.0,192.4 460.0,192.4 460.1,192.4 460.2,192.4 460.2,192.4 460.3,192.4 460.4,192.5 460.4,192.5 460.5,192.6 460.6,192.6 460.6,192.6 460.7,192.7 460.8,192.7 460.8,192.8 460.9,192.8 460.9,192.9 461.0,192.9 461.1,192.9 461.1,193.0 461.2,193.0 461.3,193.0 461.3,193.0 461.4,193.1 461.5,193.1 461.5,193.1 461.6,193.1 461.7,193.1 461.7,193.1 461.8,193.1 461.9,193.1 461.9,193.1 462.0,193.1 462.1,193.1 462.1,193.0 462.2,193.0 462.3,193.0 462.3,193.0 462.4,192.9 462.4,192.9 462.5,192.8 462.6,192.8 462.6,192.7 462.7,192.6 462.8,192.6 462.8,192.5 462.9,192.4 463.0,192.2 463.0,192.1 463.1,191.9 463.2,191.8 463.2,191.6 463.3,191.3 463.4,191.1 463.4,190.8 463.5,190.5 463.6,190.2 463.6,189.8 463.7,189.4 463.8,188.9 463.8,188.5 463.9,188.0 463.9,187.4 464.0,186.8 464.1,186.2 464.1,185.6 464.2,184.9 464.3,184.3 464.3,183.6 464.4,182.9 464.5,182.2 464.5,181.6 464.6,180.9 464.7,180.3 464.7,179.8 464.8,179.3 464.9,179.0 464.9,178.7 465.0,178.5 465.1,178.5 465.1,178.5 465.2,178.7 465.3,179.0 465.3,179.4 465.4,179.8 465.4,180.4 465.5,181.0 465.6,181.6 465.6,182.3 465.7,183.0 465.8,183.6 465.8,184.3 465.9,185.0 466.0,185.7 466.0,186.3 466.1,186.9 466.2,187.5 466.2,188.1 466.3,188.6 466.4,189.0 466.4,189.5 466.5,189.9 466.6,190.3 466.6,190.6 466.7,190.9 466.8,191.2 466.8,191.5 466.9,191.7 466.9,191.9 467.0,192.1 467.1,192.3 467.1,192.4 467.2,192.5 467.3,192.7 467.3,192.8 467.4,192.9 467.5,192.9 467.5,193.0 467.6,193.1 467.7,193.1 467.7,193.2 467.8,193.3 467.9,193.3 467.9,193.3 468.0,193.4 468.1,193.4 468.1,193.4 468.2,193.5 468.3,193.5 468.3,193.5 468.4,193.6 468.4,193.6 468.5,193.6 468.6,193.6 468.6,193.6 468.7,193.7 468.8,193.7 468.8,193.7 468.9,193.7 469.0,193.7 469.0,193.7 469.1,193.7 469.2,193.8 469.2,193.8 469.3,193.8 469.4,193.8 469.4,193.8 469.5,193.8 469.6,193.8 469.6,193.8 469.7,193.8 469.8,193.9 469.8,193.9 469.9,193.9 469.9,193.9 470.0,193.9 470.1,193.9 470.1,193.9 470.2,193.9 470.3,193.9 470.3,193.9 470.4,193.9 470.5,193.9 470.5,193.9 470.6,193.9 470.7,193.9 470.7,193.9 470.8,193.9 470.9,193.9 470.9,193.9 471.0,193.9 471.1,193.9 471.1,193.9 471.2,193.9 471.3,193.9 471.3,193.9 471.4,193.9 471.4,193.9 471.5,193.9 471.6,193.9 471.6,193.8 471.7,193.8 471.8,193.8 471.8,193.8 471.9,193.8 472.0,193.8 472.0,193.8 472.1,193.7 472.2,193.7 472.2,193.7 472.3,193.7 472.4,193.7 472.4,193.7 472.5,193.7 472.6,193.6 472.6,193.6 472.7,193.6 472.7,193.6 472.8,193.6 472.9,193.6 472.9,193.6 473.0,193.7 473.1,193.7 473.1,193.7 473.2,193.7 473.3,193.7 473.3,193.7 473.4,193.8 473.5,193.8 473.5,193.8 473.6,193.8 473.7,193.8 473.7,193.9 473.8,193.9 473.9,193.9 473.9,193.9 474.0,193.9 474.1,193.9 474.1,193.9 474.2,194.0 474.2,194.0 474.3,194.0 474.4,194.0 474.4,194.0 474.5,194.0 474.6,194.0 474.6,194.0 474.7,194.0 474.8,194.0 474.8,194.0 474.9,194.0 475.0,194.0 475.0,194.0 475.1,194.0 475.2,194.0 475.2,194.0 475.3,194.0 475.4,194.0 475.4,194.0 475.5,194.0 475.6,194.0 475.6,194.0 475.7,194.0 475.7,194.0 475.8,194.0 475.9,194.0 475.9,194.0 476.0,194.0 476.1,194.0 476.1,194.0 476.2,194.0 476.3,194.0 476.3,194.0 476.4,194.0 476.5,193.9 476.5,193.9 476.6,193.9 476.7,193.9 476.7,193.9 476.8,193.9 476.9,193.9 476.9,193.9 477.0,193.9 477.1,193.9 477.1,193.8 477.2,193.8 477.2,193.8 477.3,193.8 477.4,193.8 477.4,193.7 477.5,193.7 477.6,193.7 477.6,193.7 477.7,193.6 477.8,193.6 477.8,193.6 477.9,193.5 478.0,193.5 478.0,193.4 478.1,193.4 478.2,193.3 478.2,193.2 478.3,193.2 478.4,193.1 478.4,193.0 478.5,192.9 478.6,192.8 478.6,192.7 478.7,192.5 478.7,192.4 478.8,192.2 478.9,192.1 478.9,191.9 479.0,191.7 479.1,191.5 479.1,191.3 479.2,191.0 479.3,190.8 479.3,190.5 479.4,190.3 479.5,190.1 479.5,189.8 479.6,189.6 479.7,189.4 479.7,189.2 479.8,189.1 479.9,189.0 479.9,189.0 480.0,189.0 480.1,189.0 480.1,189.1 480.2,189.2 480.2,189.4 480.3,189.6 480.4,189.8 480.4,189.9 480.5,190.1 480.6,190.3 480.6,190.5 480.7,190.6 480.8,190.7 480.8,190.8 480.9,190.9 481.0,190.9 481.0,190.9 481.1,190.9 481.2,190.9 481.2,190.9 481.3,190.8 481.4,190.7 481.4,190.6 481.5,190.5 481.6,190.3 481.6,190.2 481.7,190.1 481.7,190.0 481.8,189.9 481.9,189.8 481.9,189.7 482.0,189.6 482.1,189.5 482.1,189.5 482.2,189.4 482.3,189.4 482.3,189.3 482.4,189.2 482.5,189.1 482.5,189.0 482.6,188.8 482.7,188.6 482.7,188.4 482.8,188.1 482.9,187.8 482.9,187.5 483.0,187.1 483.1,186.8 483.1,186.3 483.2,185.9 483.2,185.5 483.3,185.0 483.4,184.5 483.4,184.1 483.5,183.6 483.6,183.2 483.6,182.8 483.7,182.5 483.8,182.2 483.8,182.0 483.9,181.9 484.0,181.9 484.0,181.9 484.1,182.1 484.2,182.3 484.2,182.5 484.3,182.9 484.4,183.3 484.4,183.7 484.5,184.2 484.6,184.7 484.6,185.2 484.7,185.7 484.7,186.2 484.8,186.7 484.9,187.2 484.9,187.7 485.0,188.1 485.1,188.6 485.1,189.0 485.2,189.3 485.3,189.7 485.3,190.0 485.4,190.3 485.5,190.6 485.5,190.9 485.6,191.1 485.7,191.4 485.7,191.6 485.8,191.7 485.9,191.9 485.9,192.1 486.0,192.2 486.1,192.3 486.1,192.4 486.2,192.5 486.2,192.6 486.3,192.7 486.4,192.8 486.4,192.8 486.5,192.9 486.6,193.0 486.6,193.0 486.7,193.0 486.8,193.1 486.8,193.1 486.9,193.1 487.0,193.2 487.0,193.2 487.1,193.2 487.2,193.2 487.2,193.2 487.3,193.2 487.4,193.2 487.4,193.2 487.5,193.2 487.6,193.2 487.6,193.2 487.7,193.2 487.7,193.2 487.8,193.1 487.9,193.1 487.9,193.1 488.0,193.1 488.1,193.0 488.1,193.0 488.2,192.9 488.3,192.9 488.3,192.8 488.4,192.7 488.5,192.6 488.5,192.5 488.6,192.4 488.7,192.3 488.7,192.1 488.8,191.9 488.9,191.7 488.9,191.5 489.0,191.3 489.0,191.0 489.1,190.7 489.2,190.3 489.2,190.0 489.3,189.6 489.4,189.2 489.4,188.8 489.5,188.4 489.6,188.0 489.6,187.6 489.7,187.2 489.8,186.8 489.8,186.5 489.9,186.2 490.0,186.0 490.0,185.8 490.1,185.7 490.2,185.7 490.2,185.7 490.3,185.8 490.4,185.9 490.4,186.0 490.5,186.1 490.5,186.2 490.6,186.3 490.7,186.4 490.7,186.4 490.8,186.4 490.9,186.4 490.9,186.4 491.0,186.3 491.1,186.2 491.1,186.0 491.2,185.9 491.3,185.7 491.3,185.6 491.4,185.5 491.5,185.4 491.5,185.3 491.6,185.3 491.7,185.4 491.7,185.5 491.8,185.7 491.9,185.9 491.9,186.2 492.0,186.5 492.0,186.8 492.1,187.2 492.2,187.6 492.2,188.0 492.3,188.4 492.4,188.8 492.4,189.1 492.5,189.5 492.6,189.8 492.6,190.2 492.7,190.5 492.8,190.8 492.8,191.0 492.9,191.3 493.0,191.5 493.0,191.7 493.1,191.9 493.2,192.0 493.2,192.2 493.3,192.3 493.4,192.5 493.4,192.6 493.5,192.7 493.5,192.8 493.6,192.8 493.7,192.9 493.7,193.0 493.8,193.0 493.9,193.1 493.9,193.1 494.0,193.2 494.1,193.2 494.1,193.2 494.2,193.3 494.3,193.3 494.3,193.3 494.4,193.3 494.5,193.3 494.5,193.4 494.6,193.4 494.7,193.4 494.7,193.4 494.8,193.4 494.9,193.4 494.9,193.4 495.0,193.4 495.0,193.5 495.1,193.5 495.2,193.5 495.2,193.5 495.3,193.5 495.4,193.5 495.4,193.5 495.5,193.6 495.6,193.6 495.6,193.6 495.7,193.6 495.8,193.6 495.8,193.6 495.9,193.6 496.0,193.6 496.0,193.7 496.1,193.7 496.2,193.7 496.2,193.7 496.3,193.7 496.4,193.7 496.4,193.7 496.5,193.7 496.5,193.7 496.6,193.7 496.7,193.7 496.7,193.7 496.8,193.8 496.9,193.8 496.9,193.8 497.0,193.8 497.1,193.8 497.1,193.8 497.2,193.8 497.3,193.8 497.3,193.8 497.4,193.8 497.5,193.8 497.5,193.8 497.6,193.8 497.7,193.8 497.7,193.8 497.8,193.8 497.9,193.8 497.9,193.8 498.0,193.8 498.0,193.8 498.1,193.8 498.2,193.8 498.2,193.8 498.3,193.7 498.4,193.7 498.4,193.7 498.5,193.7 498.6,193.7 498.6,193.6 498.7,193.6 498.8,193.6 498.8,193.6 498.9,193.6 499.0,193.5 499.0,193.5 499.1,193.5 499.2,193.5 499.2,193.5 499.3,193.5 499.4,193.5 499.4,193.5 499.5,193.5 499.5,193.5 499.6,193.5 499.7,193.5 499.7,193.6 499.8,193.6 499.9,193.6 499.9,193.6 500.0,193.6 500.1,193.6 500.1,193.7 500.2,193.7 500.3,193.7 500.3,193.7 500.4,193.7 500.5,193.7 500.5,193.7 500.6,193.7 500.7,193.8 500.7,193.8 500.8,193.8 500.9,193.8 500.9,193.8 501.0,193.8 501.0,193.7 501.1,193.7 501.2,193.7 501.2,193.7 501.3,193.7 501.4,193.7 501.4,193.7 501.5,193.7 501.6,193.7 501.6,193.7 501.7,193.7 501.8,193.7 501.8,193.7 501.9,193.6 502.0,193.6 502.0,193.6 502.1,193.6 502.2,193.5 502.2,193.5 502.3,193.5 502.4,193.4 502.4,193.4 502.5,193.3 502.5,193.3 502.6,193.2 502.7,193.1 502.7,193.0 502.8,192.9 502.9,192.8 502.9,192.7 503.0,192.6 503.1,192.4 503.1,192.3 503.2,192.1 503.3,192.0 503.3,191.8 503.4,191.7 503.5,191.5 503.5,191.3 503.6,191.2 503.7,191.0 503.7,190.9 503.8,190.8 503.9,190.7 503.9,190.6 504.0,190.5 504.0,190.5 504.1,190.5 504.2,190.5 504.2,190.5 504.3,190.6 504.4,190.7 504.4,190.8 504.5,190.9 504.6,191.0 504.6,191.1 504.7,191.2 504.8,191.3 504.8,191.4 504.9,191.6 505.0,191.7 505.0,191.8 505.1,191.9 505.2,192.0 505.2,192.2 505.3,192.3 505.3,192.4 505.4,192.5 505.5,192.6 505.5,192.7 505.6,192.7 505.7,192.8 505.7,192.9 505.8,192.9 505.9,193.0 505.9,193.0 506.0,193.1 506.1,193.1 506.1,193.1 506.2,193.1 506.3,193.2 506.3,193.2 506.4,193.2 506.5,193.1 506.5,193.1 506.6,193.1 506.7,193.1 506.7,193.1 506.8,193.0 506.8,193.0 506.9,193.0 507.0,192.9 507.0,192.9 507.1,192.8 507.2,192.8 507.2,192.7 507.3,192.7 507.4,192.7 507.4,192.6 507.5,192.6 507.6,192.6 507.6,192.5 507.7,192.5 507.8,192.5 507.8,192.4 507.9,192.4 508.0,192.4 508.0,192.4 508.1,192.3 508.2,192.3 508.2,192.2 508.3,192.2 508.3,192.1 508.4,192.0 508.5,191.9 508.5,191.8 508.6,191.7 508.7,191.6 508.7,191.5 508.8,191.3 508.9,191.1 508.9,190.9 509.0,190.7 509.1,190.5 509.1,190.3 509.2,190.0 509.3,189.7 509.3,189.4 509.4,189.1 509.5,188.7 509.5,188.3 509.6,188.0 509.7,187.6 509.7,187.2 509.8,186.8 509.8,186.4 509.9,186.0 510.0,185.7 510.0,185.4 510.1,185.1 510.2,184.9 510.2,184.8 510.3,184.7 510.4,184.6 510.4,184.6 510.5,184.7 510.6,184.8 510.6,184.9 510.7,185.0 510.8,185.2 510.8,185.4 510.9,185.6 511.0,185.8 511.0,186.0 511.1,186.3 511.2,186.6 511.2,186.9 511.3,187.2 511.3,187.6 511.4,187.9 511.5,188.3 511.5,188.7 511.6,189.1 511.7,189.4 511.7,189.8 511.8,190.1 511.9,190.5 511.9,190.8 512.0,191.1 512.1,191.3 512.1,191.6 512.2,191.8 512.3,192.0 512.3,192.1 512.4,192.3 512.5,192.4 512.5,192.5 512.6,192.6 512.7,192.7 512.7,192.8 512.8,192.9 512.8,192.9 512.9,193.0 513.0,193.0 513.0,193.0 513.1,193.1 513.2,193.1 513.2,193.1 513.3,193.1 513.4,193.1 513.4,193.1 513.5,193.1 513.6,193.2 513.6,193.2 513.7,193.2 513.8,193.2 513.8,193.2 513.9,193.2 514.0,193.2 514.0,193.2 514.1,193.2 514.2,193.1 514.2,193.1 514.3,193.1 514.3,193.1 514.4,193.1 514.5,193.0 514.5,193.0 514.6,192.9 514.7,192.9 514.7,192.8 514.8,192.7 514.9,192.6 514.9,192.5 515.0,192.4 515.1,192.2 515.1,192.1 515.2,192.0 515.3,191.8 515.3,191.6 515.4,191.4 515.5,191.2 515.5,191.1 515.6,190.9 515.7,190.7 515.7,190.5 515.8,190.3 515.8,190.2 515.9,190.0 516.0,189.9 516.0,189.8 516.1,189.8 516.2,189.8 516.2,189.8 516.3,189.8 516.4,189.9 516.4,190.0 516.5,190.1 516.6,190.3 516.6,190.4 516.7,190.6 516.8,190.7 516.8,190.9 516.9,191.1 517.0,191.2 517.0,191.4 517.1,191.5 517.2,191.6 517.2,191.8 517.3,191.9 517.3,192.0 517.4,192.1 517.5,192.2 517.5,192.3 517.6,192.4 517.7,192.5 517.7,192.6 517.8,192.6 517.9,192.7 517.9,192.7 518.0,192.8 518.1,192.8 518.1,192.9 518.2,192.9 518.3,192.9 518.3,192.9 518.4,192.9 518.5,192.9 518.5,192.9 518.6,192.8 518.7,192.8 518.7,192.7 518.8,192.6 518.8,192.6 518.9,192.5 519.0,192.4 519.0,192.2 519.1,192.1 519.2,192.0 519.2,191.8 519.3,191.7 519.4,191.5 519.4,191.4 519.5,191.2 519.6,191.1 519.6,190.9 519.7,190.8 519.8,190.7 519.8,190.6 519.9,190.5 520.0,190.5 520.0,190.4 520.1,190.5 520.2,190.5 520.2,190.6 520.3,190.6 520.3,190.8 520.4,190.9 520.5,191.0 520.5,191.1 520.6,191.3 520.7,191.4 520.7,191.6 520.8,191.7 520.9,191.8 520.9,191.9 521.0,192.0 521.1,192.1 521.1,192.2 521.2,192.3 521.3,192.3 521.3,192.4 521.4,192.4 521.5,192.5 521.5,192.5 521.6,192.5 521.6,192.5 521.7,192.5 521.8,192.5 521.8,192.5 521.9,192.5 522.0,192.5 522.0,192.5 522.1,192.5 522.2,192.5 522.2,192.5 522.3,192.4 522.4,192.4 522.4,192.4 522.5,192.3 522.6,192.3 522.6,192.3 522.7,192.2 522.8,192.2 522.8,192.2 522.9,192.2 523.0,192.1 523.0,192.1 523.1,192.1 523.1,192.1 523.2,192.2 523.3,192.2 523.3,192.2 523.4,192.2 523.5,192.3 523.5,192.3 523.6,192.4 523.7,192.4 523.7,192.5 523.8,192.5 523.9,192.6 523.9,192.6 524.0,192.6 524.1,192.7 524.1,192.7 524.2,192.7 524.3,192.7 524.3,192.7 524.4,192.7 524.5,192.7 524.5,192.7 524.6,192.7 524.6,192.7 524.7,192.7 524.8,192.6 524.8,192.6 524.9,192.5 525.0,192.5 525.0,192.4 525.1,192.3 525.2,192.2 525.2,192.1 525.3,192.0 525.4,191.9 525.4,191.7 525.5,191.6 525.6,191.4 525.6,191.3 525.7,191.1 525.8,190.9 525.8,190.7 525.9,190.5 526.0,190.4 526.0,190.2 526.1,190.0 526.1,189.8 526.2,189.7 526.3,189.5 526.3,189.4 526.4,189.3 526.5,189.3 526.5,189.2 526.6,189.3 526.7,189.3 526.7,189.4 526.8,189.5 526.9,189.6 526.9,189.7 527.0,189.9 527.1,190.0 527.1,190.2 527.2,190.4 527.3,190.6 527.3,190.7 527.4,190.9 527.5,191.1 527.5,191.2 527.6,191.3 527.6,191.5 527.7,191.6 527.8,191.7 527.8,191.7 527.9,191.8 528.0,191.8 528.0,191.8 528.1,191.8 528.2,191.8 528.2,191.8 528.3,191.8 528.4,191.7 528.4,191.7 528.5,191.6 528.6,191.5 528.6,191.5 528.7,191.4 528.8,191.3 528.8,191.2 528.9,191.2 529.0,191.1 529.0,191.1 529.1,191.1 529.1,191.1 529.2,191.1 529.3,191.1 529.3,191.2 529.4,191.2 529.5,191.3 529.5,191.4 529.6,191.5 529.7,191.6 529.7,191.7 529.8,191.8 529.9,191.9 529.9,192.0 530.0,192.0 530.1,192.1 530.1,192.2 530.2,192.3 530.3,192.4 530.3,192.4 530.4,192.5 530.5,192.5 530.5,192.5 530.6,192.6 530.6,192.6 530.7,192.6 530.8,192.6 530.8,192.6 530.9,192.5 531.0,192.5 531.0,192.4 531.1,192.4 531.2,192.3 531.2,192.2 531.3,192.1 531.4,192.1 531.4,192.0 531.5,191.9 531.6,191.7 531.6,191.6 531.7,191.5 531.8,191.4 531.8,191.3 531.9,191.1 532.0,191.0 532.0,190.9 532.1,190.8 532.1,190.6 532.2,190.5 532.3,190.4 532.3,190.3 532.4,190.2 532.5,190.1 532.5,190.0 532.6,190.0 532.7,190.0 532.7,190.0 532.8,190.0 532.9,190.1 532.9,190.2 533.0,190.3 533.1,190.4 533.1,190.6 533.2,190.8 533.3,190.9 533.3,191.1 533.4,191.3 533.5,191.4 533.5,191.6 533.6,191.7 533.6,191.9 533.7,192.0 533.8,192.1 533.8,192.2 533.9,192.3 534.0,192.4 534.0,192.4 534.1,192.5 534.2,192.6 534.2,192.6 534.3,192.6 534.4,192.7 534.4,192.7 534.5,192.7 534.6,192.7 534.6,192.7 534.7,192.7 534.8,192.7 534.8,192.7 534.9,192.7 535.0,192.7 535.0,192.7 535.1,192.7 535.1,192.7 535.2,192.8 535.3,192.8 535.3,192.8 535.4,192.8 535.5,192.8 535.5,192.8 535.6,192.8 535.7,192.8 535.7,192.8 535.8,192.8 535.9,192.8 535.9,192.8 536.0,192.7 536.1,192.7 536.1,192.7 536.2,192.6 536.3,192.5 536.3,192.5 536.4,192.4 536.5,192.3 536.5,192.3 536.6,192.2 536.6,192.1 536.7,192.0 536.8,191.9 536.8,191.8 536.9,191.7 537.0,191.6 537.0,191.6 537.1,191.5 537.2,191.4 537.2,191.4 537.3,191.3 537.4,191.3 537.4,191.2 537.5,191.2 537.6,191.2 537.6,191.3 537.7,191.3 537.8,191.3 537.8,191.4 537.9,191.5 537.9,191.5 538.0,191.6 538.1,191.7 538.1,191.8 538.2,191.9 538.3,192.0 538.3,192.1 538.4,192.2 538.5,192.2 538.5,192.3 538.6,192.4 538.7,192.5 538.7,192.5 538.8,192.6 538.9,192.6 538.9,192.7 539.0,192.7 539.1,192.7 539.1,192.7 539.2,192.8 539.3,192.8 539.3,192.8 539.4,192.8 539.4,192.8 539.5,192.7 539.6,192.7 539.6,192.7 539.7,192.6 539.8,192.6 539.8,192.5 539.9,192.4 540.0,192.3 540.0,192.2 540.1,192.1 540.2,192.0 540.2,191.8 540.3,191.7 540.4,191.5 540.4,191.3 540.5,191.1 540.6,190.8 540.6,190.6 540.7,190.3 540.8,190.1 540.8,189.8 540.9,189.5 540.9,189.2 541.0,188.9 541.1,188.6 541.1,188.4 541.2,188.1 541.3,187.8 541.3,187.6 541.4,187.4 541.5,187.2 541.5,187.1 541.6,187.0 541.7,187.0 541.7,187.0 541.8,187.0 541.9,187.1 541.9,187.3 542.0,187.5 542.1,187.7 542.1,187.9 542.2,188.2 542.3,188.4 542.3,188.7 542.4,189.0 542.4,189.2 542.5,189.5 542.6,189.8 542.6,190.0 542.7,190.2 542.8,190.4 542.8,190.6 542.9,190.8 543.0,190.9 543.0,191.1 543.1,191.2 543.2,191.2 543.2,191.3 543.3,191.3 543.4,191.3 543.4,191.3 543.5,191.3 543.6,191.2 543.6,191.2 543.7,191.1 543.8,191.0 543.8,191.0 543.9,190.9 543.9,190.9 544.0,190.8 544.1,190.8 544.1,190.8 544.2,190.8 544.3,190.8 544.3,190.9 544.4,191.0 544.5,191.1 544.5,191.2 544.6,191.3 544.7,191.4 544.7,191.5 544.8,191.6 544.9,191.7 544.9,191.8 545.0,191.9 545.1,191.9 545.1,192.0 545.2,192.0 545.3,192.0 545.3,192.1 545.4,192.1 545.4,192.0 545.5,192.0 545.6,192.0 545.6,191.9 545.7,191.8 545.8,191.8 545.8,191.7 545.9,191.5 546.0,191.4 546.0,191.2 546.1,191.1 546.2,190.9 546.2,190.7 546.3,190.5 546.4,190.2 546.4,189.9 546.5,189.7 546.6,189.4 546.6,189.1 546.7,188.8 546.8,188.4 546.8,188.1 546.9,187.8 546.9,187.4 547.0,187.1 547.1,186.8 547.1,186.5 547.2,186.3 547.3,186.1 547.3,185.9 547.4,185.7 547.5,185.6 547.5,185.5 547.6,185.5 547.7,185.5 547.7,185.5 547.8,185.5 547.9,185.5 547.9,185.6 548.0,185.6 548.1,185.7 548.1,185.7 548.2,185.8 548.3,185.8 548.3,185.9 548.4,185.9 548.4,186.0 548.5,186.1 548.6,186.2 548.6,186.4 548.7,186.5 548.8,186.8 548.8,187.0 548.9,187.3 549.0,187.6 549.0,188.0 549.1,188.3 549.2,188.7 549.2,189.0 549.3,189.4 549.4,189.7 549.4,190.0 549.5,190.3 549.6,190.6 549.6,190.9 549.7,191.1 549.8,191.3 549.8,191.5 549.9,191.7 549.9,191.8 550.0,192.0 550.1,192.1 550.1,192.2 550.2,192.2 550.3,192.3 550.3,192.4 550.4,192.4 550.5,192.5 550.5,192.5 550.6,192.5 550.7,192.6 550.7,192.6 550.8,192.6 550.9,192.6 550.9,192.7 551.0,192.7 551.1,192.7 551.1,192.7 551.2,192.8 551.3,192.8 551.3,192.8 551.4,192.8 551.4,192.9 551.5,192.9 551.6,192.9 551.6,192.9 551.7,192.9 551.8,192.9 551.8,192.9 551.9,192.9 552.0,192.8 552.0,192.8 552.1,192.8 552.2,192.7 552.2,192.7 552.3,192.6 552.4,192.6 552.4,192.5 552.5,192.5 552.6,192.4 552.6,192.3 552.7,192.2 552.8,192.1 552.8,192.0 552.9,192.0 552.9,191.8 553.0,191.7 553.1,191.6 553.1,191.5 553.2,191.4 553.3,191.3 553.3,191.2 553.4,191.1 553.5,190.9 553.5,190.8 553.6,190.7 553.7,190.7 553.7,190.6 553.8,190.5 553.9,190.5 553.9,190.5 554.0,190.5 554.1,190.5 554.1,190.6 554.2,190.6 554.2,190.7 554.3,190.8 554.4,190.8 554.4,190.9 554.5,191.0 554.6,191.1 554.6,191.2 554.7,191.3 554.8,191.3 554.8,191.4 554.9,191.4 555.0,191.4 555.0,191.4 555.1,191.4 555.2,191.4 555.2,191.4 555.3,191.3 555.4,191.3 555.4,191.2 555.5,191.1 555.6,191.0 555.6,190.9 555.7,190.8 555.7,190.7 555.8,190.6 555.9,190.5 555.9,190.4 556.0,190.4 556.1,190.3 556.1,190.3 556.2,190.2 556.3,190.3 556.3,190.3 556.4,190.3 556.5,190.4 556.5,190.5 556.6,190.6 556.7,190.7 556.7,190.9 556.8,191.0 556.9,191.1 556.9,191.3 557.0,191.4 557.1,191.5 557.1,191.7 557.2,191.8 557.2,191.9 557.3,192.0 557.4,192.1 557.4,192.2 557.5,192.3 557.6,192.3 557.6,192.4 557.7,192.4 557.8,192.5 557.8,192.5 557.9,192.5 558.0,192.5 558.0,192.6 558.1,192.6 558.2,192.6 558.2,192.6 558.3,192.6 558.4,192.6 558.4,192.7 558.5,192.7 558.6,192.7 558.6,192.7 558.7,192.8 558.7,192.8 558.8,192.8 558.9,192.8 558.9,192.8 559.0,192.9 559.1,192.9 559.1,192.9 559.2,192.9 559.3,192.9 559.3,192.9 559.4,192.9 559.5,192.9 559.5,192.8 559.6,192.8 559.7,192.8 559.7,192.7 559.8,192.7 559.9,192.7 559.9,192.6 560.0,192.5 560.1,192.5 560.1,192.4 560.2,192.4 560.2,192.3 560.3,192.2 560.4,192.2 560.4,192.1 560.5,192.0 560.6,192.0 560.6,191.9 560.7,191.9 560.8,191.8 560.8,191.7 560.9,191.7 561.0,191.6 561.0,191.5 561.1,191.4 561.2,191.4 561.2,191.3 561.3,191.2 561.4,191.1 561.4,191.0 561.5,190.8 561.6,190.7 561.6,190.6 561.7,190.5 561.7,190.3 561.8,190.2 561.9,190.1 561.9,189.9 562.0,189.8 562.1,189.7 562.1,189.5 562.2,189.4 562.3,189.2 562.3,189.0 562.4,188.9 562.5,188.7 562.5,188.5 562.6,188.3 562.7,188.0 562.7,187.8 562.8,187.5 562.9,187.3 562.9,187.0 563.0,186.7 563.1,186.4 563.1,186.2 563.2,185.9 563.2,185.6 563.3,185.4 563.4,185.2 563.4,185.0 563.5,184.9 563.6,184.8 563.6,184.7 563.7,184.7 563.8,184.8 563.8,184.9 563.9,185.1 564.0,185.3 564.0,185.5 564.1,185.8 564.2,186.1 564.2,186.4 564.3,186.7 564.4,187.1 564.4,187.4 564.5,187.7 564.6,188.0 564.6,188.3 564.7,188.5 564.7,188.8 564.8,189.0 564.9,189.2 564.9,189.4 565.0,189.5 565.1,189.6 565.1,189.8 565.2,189.8 565.3,189.9 565.3,189.9 565.4,190.0 565.5,190.0 565.5,189.9 565.6,189.9 565.7,189.9 565.7,189.8 565.8,189.7 565.9,189.6 565.9,189.5 566.0,189.4 566.1,189.2 566.1,189.1 566.2,189.0 566.2,188.9 566.3,188.8 566.4,188.7 566.4,188.6 566.5,188.5 566.6,188.5 566.6,188.5 566.7,188.6 566.8,188.7 566.8,188.8 566.9,188.9 567.0,189.0 567.0,189.2 567.1,189.4 567.2,189.6 567.2,189.8 567.3,190.0 567.4,190.2 567.4,190.4 567.5,190.6 567.6,190.8 567.6,191.0 567.7,191.2 567.7,191.4 567.8,191.5 567.9,191.7 567.9,191.8 568.0,192.0 568.1,192.1 568.1,192.2 568.2,192.3 568.3,192.3 568.3,192.4 568.4,192.5 568.5,192.5 568.5,192.6 568.6,192.6 568.7,192.6 568.7,192.6 568.8,192.6 568.9,192.6 568.9,192.6 569.0,192.6 569.1,192.6 569.1,192.6 569.2,192.6 569.2,192.6 569.3,192.6 569.4,192.6 569.4,192.6 569.5,192.6 569.6,192.6 569.6,192.5 569.7,192.5 569.8,192.5 569.8,192.5 569.9,192.5 570.0,192.5 570.0,192.6 570.1,192.6 570.2,192.6 570.2,192.6 570.3,192.6 570.4,192.6 570.4,192.7 570.5,192.7 570.5,192.7 570.6,192.7 570.7,192.7 570.7,192.7 570.8,192.7 570.9,192.7 570.9,192.7 571.0,192.7 571.1,192.7 571.1,192.6 571.2,192.6 571.3,192.6 571.3,192.6 571.4,192.6 571.5,192.5 571.5,192.5 571.6,192.5 571.7,192.5 571.7,192.5 571.8,192.5 571.9,192.5 571.9,192.5 572.0,192.5 572.0,192.4 572.1,192.4 572.2,192.4 572.2,192.4 572.3,192.4 572.4,192.3 572.4,192.3 572.5,192.2 572.6,192.2 572.6,192.1 572.7,192.0 572.8,191.9 572.8,191.8 572.9,191.7 573.0,191.6 573.0,191.5 573.1,191.3 573.2,191.2 573.2,191.1 573.3,190.9 573.4,190.8 573.4,190.7 573.5,190.6 573.5,190.5 573.6,190.4 573.7,190.3 573.7,190.3 573.8,190.2 573.9,190.2 573.9,190.2 574.0,190.3 574.1,190.3 574.1,190.4 574.2,190.4 574.3,190.5 574.3,190.6 574.4,190.7 574.5,190.8 574.5,190.8 574.6,190.9 574.7,190.9 574.7,191.0 574.8,191.0 574.9,191.0 574.9,191.0 575.0,190.9 575.0,190.9 575.1,190.8 575.2,190.8 575.2,190.7 575.3,190.6 575.4,190.4 575.4,190.3 575.5,190.2 575.6,190.1 575.6,189.9 575.7,189.8 575.8,189.7 575.8,189.6 575.9,189.5 576.0,189.4 576.0,189.4 576.1,189.3 576.2,189.3 576.2,189.4 576.3,189.4 576.4,189.5 576.4,189.6 576.5,189.7 576.5,189.9 576.6,190.0 576.7,190.1 576.7,190.3 576.8,190.4 576.9,190.6 576.9,190.7 577.0,190.9 577.1,191.0 577.1,191.1 577.2,191.2 577.3,191.3 577.3,191.5 577.4,191.6 577.5,191.7 577.5,191.8 577.6,191.9 577.7,192.0 577.7,192.0 577.8,192.1 577.9,192.2 577.9,192.3 578.0,192.4 578.0,192.5 578.1,192.5 578.2,192.6 578.2,192.7 578.3,192.7 578.4,192.8 578.4,192.9 578.5,192.9 578.6,193.0 578.6,193.0 578.7,193.1 578.8,193.1 578.8,193.1 578.9,193.2 579.0,193.2 579.0,193.2 579.1,193.3 579.2,193.3 579.2,193.3 579.3,193.3 579.4,193.4 579.4,193.4 579.5,193.4 579.5,193.4 579.6,193.4 579.7,193.4 579.7,193.3 579.8,193.3 579.9,193.3 579.9,193.3 580.0,193.2 580.1,193.2 580.1,193.2 580.2,193.1 580.3,193.0 580.3,193.0 580.4,192.9 580.5,192.8 580.5,192.7 580.6,192.6 580.7,192.5 580.7,192.4 580.8,192.2 580.9,192.1 580.9,192.0 581.0,191.8 581.0,191.7 581.1,191.5 581.2,191.4 581.2,191.2 581.3,191.1 581.4,190.9 581.4,190.8 581.5,190.7 581.6,190.5 581.6,190.4 581.7,190.3 581.8,190.3 581.8,190.2 581.9,190.2 582.0,190.2 582.0,190.2 582.1,190.2 582.2,190.3 582.2,190.4 582.3,190.5 582.4,190.6 582.4,190.7 582.5,190.8 582.5,190.9 582.6,191.0 582.7,191.2 582.7,191.3 582.8,191.4 582.9,191.5 582.9,191.6 583.0,191.7 583.1,191.8 583.1,191.9 583.2,192.0 583.3,192.0 583.3,192.1 583.4,192.1 583.5,192.2 583.5,192.2 583.6,192.2 583.7,192.2 583.7,192.1 583.8,192.1 583.9,192.1 583.9,192.0 584.0,192.0 584.0,191.9 584.1,191.9 584.2,191.8 584.2,191.8 584.3,191.8 584.4,191.7 584.4,191.7 584.5,191.7 584.6,191.7 584.6,191.7 584.7,191.7 584.8,191.7 584.8,191.8 584.9,191.8 585.0,191.8 585.0,191.9 585.1,191.9 585.2,192.0 585.2,192.0 585.3,192.0 585.4,192.1 585.4,192.1 585.5,192.1 585.5,192.1 585.6,192.1 585.7,192.1 585.7,192.1 585.8,192.0 585.9,192.0 585.9,191.9 586.0,191.9 586.1,191.8 586.1,191.7 586.2,191.6 586.3,191.4 586.3,191.3 586.4,191.1 586.5,191.0 586.5,190.8 586.6,190.6 586.7,190.4 586.7,190.2 586.8,189.9 586.8,189.7 586.9,189.5 587.0,189.3 587.0,189.0 587.1,188.8 587.2,188.6 587.2,188.5 587.3,188.3 587.4,188.2 587.4,188.2 587.5,188.1 587.6,188.1 587.6,188.2 587.7,188.3 587.8,188.4 587.8,188.5 587.9,188.7 588.0,188.9 588.0,189.1 588.1,189.3 588.2,189.6 588.2,189.8 588.3,190.0 588.3,190.2 588.4,190.5 588.5,190.7 588.5,190.9 588.6,191.1 588.7,191.2 588.7,191.4 588.8,191.5 588.9,191.6 588.9,191.7 589.0,191.8 589.1,191.9 589.1,191.9 589.2,191.9 589.3,191.9 589.3,191.9 589.4,191.9 589.5,191.9 589.5,191.8 589.6,191.8 589.7,191.7 589.7,191.6 589.8,191.5 589.8,191.5 589.9,191.4 590.0,191.3 590.0,191.2 590.1,191.1 590.2,191.0 590.2,191.0 590.3,190.9 590.4,190.9 590.4,190.8 590.5,190.8 590.6,190.8 590.6,190.9 590.7,190.9 590.8,190.9 590.8,191.0 590.9,191.0 591.0,191.1 591.0,191.2 591.1,191.2 591.2,191.3 591.2,191.3 591.3,191.4 591.3,191.4 591.4,191.5 591.5,191.5 591.5,191.5 591.6,191.5 591.7,191.6 591.7,191.6 591.8,191.5 591.9,191.5 591.9,191.5 592.0,191.5 592.1,191.4 592.1,191.4 592.2,191.3 592.3,191.2 592.3,191.1 592.4,191.1 592.5,191.0 592.5,190.9 592.6,190.8 592.7,190.7 592.7,190.6 592.8,190.5 592.8,190.4 592.9,190.4 593.0,190.3 593.0,190.3 593.1,190.3 593.2,190.3 593.2,190.3 593.3,190.4 593.4,190.5 593.4,190.5 593.5,190.6 593.6,190.7 593.6,190.8 593.7,190.9 593.8,191.1 593.8,191.2 593.9,191.3 594.0,191.4 594.0,191.5 594.1,191.6 594.2,191.7 594.2,191.8 594.3,191.8 594.3,191.9 594.4,192.0 594.5,192.0 594.5,192.1 594.6,192.1 594.7,192.1 594.7,192.2 594.8,192.2 594.9,192.2 594.9,192.2 595.0,192.2 595.1,192.2 595.1,192.2 595.2,192.2 595.3,192.2 595.3,192.2 595.4,192.1 595.5,192.1 595.5,192.1 595.6,192.0 595.7,192.0 595.7,191.9 595.8,191.9 595.8,191.9 595.9,191.8 596.0,191.8 596.0,191.7 596.1,191.7 596.2,191.7 596.2,191.7 596.3,191.7 596.4,191.8 596.4,191.8 596.5,191.8 596.6,191.9 596.6,192.0 596.7,192.1 596.8,192.1 596.8,192.2 596.9,192.3 597.0,192.4 597.0,192.5 597.1,192.6 597.2,192.7 597.2,192.8 597.3,192.8 597.3,192.9 597.4,193.0 597.5,193.0 597.5,193.1 597.6,193.1 597.7,193.2 597.7,193.2 597.8,193.2 597.9,193.3 597.9,193.3 598.0,193.3 598.1,193.3 598.1,193.3 598.2,193.3 598.3,193.3 598.3,193.2 598.4,193.2 598.5,193.2 598.5,193.1 598.6,193.1 598.7,193.0 598.7,193.0 598.8,192.9 598.8,192.9 598.9,192.8 599.0,192.7 599.0,192.7 599.1,192.6 599.2,192.5 599.2,192.5 599.3,192.4 599.4,192.3 599.4,192.2 599.5,192.2 599.6,192.1 599.6,192.0 599.7,191.9 599.8,191.9 599.8,191.8 599.9,191.7 600.0,191.7 600.0,191.6 600.1,191.6 600.2,191.5 600.2,191.5 600.3,191.5 600.3,191.5 600.4,191.6 600.5,191.6 600.5,191.6 600.6,191.7 600.7,191.8 600.7,191.8 600.8,191.9 600.9,191.9 600.9,192.0 601.0,192.1 601.1,192.1 601.1,192.2 601.2,192.2 601.3,192.3 601.3,192.3 601.4,192.4 601.5,192.4 601.5,192.4 601.6,192.5 601.7,192.5 601.7,192.6 601.8,192.6 601.8,192.7 601.9,192.7 602.0,192.8 602.0,192.8 602.1,192.8 602.2,192.9 602.2,192.9 602.3,193.0 602.4,193.0 602.4,193.1 602.5,193.1 602.6,193.1 602.6,193.2 602.7,193.2 602.8,193.2 602.8,193.2 602.9,193.2 603.0,193.2 603.0,193.2 603.1,193.2 603.1,193.2 603.2,193.2 603.3,193.1 603.3,193.1 603.4,193.1 603.5,193.0 603.5,193.0 603.6,192.9 603.7,192.8 603.7,192.8 603.8,192.7 603.9,192.6 603.9,192.5 604.0,192.5 604.1,192.4 604.1,192.3 604.2,192.2 604.3,192.1 604.3,192.0 604.4,191.9 604.5,191.8 604.5,191.6 604.6,191.5 604.6,191.4 604.7,191.3 604.8,191.2 604.8,191.1 604.9,191.1 605.0,191.0 605.0,191.0 605.1,191.0 605.2,191.0 605.2,191.0 605.3,191.0 605.4,191.0 605.4,191.1 605.5,191.2 605.6,191.2 605.6,191.3 605.7,191.4 605.8,191.5 605.8,191.6 605.9,191.7 606.0,191.8 606.0,191.9 606.1,192.0 606.1,192.1 606.2,192.2 606.3,192.2 606.3,192.3 606.4,192.4 606.5,192.5 606.5,192.5 606.6,192.6 606.7,192.6 606.7,192.6 606.8,192.7 606.9,192.7 606.9,192.7 607.0,192.7 607.1,192.7 607.1,192.8 607.2,192.8 607.3,192.8 607.3,192.8 607.4,192.8 607.5,192.8 607.5,192.8 607.6,192.7 607.6,192.7 607.7,192.7 607.8,192.7 607.8,192.7 607.9,192.6 608.0,192.6 608.0,192.5 608.1,192.5 608.2,192.4 608.2,192.3 608.3,192.2 608.4,192.1 608.4,192.0 608.5,191.9 608.6,191.8 608.6,191.7 608.7,191.5 608.8,191.4 608.8,191.3 608.9,191.2 609.0,191.0 609.0,190.9 609.1,190.8 609.1,190.8 609.2,190.7 609.3,190.7 609.3,190.6 609.4,190.6 609.5,190.7 609.5,190.7 609.6,190.8 609.7,190.9 609.7,190.9 609.8,191.0 609.9,191.2 609.9,191.3 610.0,191.4 610.1,191.5 610.1,191.6 610.2,191.8 610.3,191.9 610.3,192.0 610.4,192.1 610.5,192.2 610.5,192.3 610.6,192.4 610.6,192.5 610.7,192.6 610.8,192.7 610.8,192.8 610.9,192.9 611.0,192.9 611.0,193.0 611.1,193.1 611.2,193.1 611.2,193.1 611.3,193.2 611.4,193.2 611.4,193.2 611.5,193.2 611.6,193.2 611.6,193.2 611.7,193.2 611.8,193.2 611.8,193.2 611.9,193.2 612.0,193.1 612.0,193.1 612.1,193.1 612.1,193.1 612.2,193.1 612.3,193.0 612.3,193.0 612.4,193.0 612.5,193.0 612.5,193.0 612.6,192.9 612.7,192.9 612.7,192.9 612.8,192.9 612.9,192.9 612.9,192.9 613.0,192.9 613.1,192.9 613.1,192.9 613.2,192.9 613.3,192.9 613.3,192.9 613.4,192.9 613.5,192.8 613.5,192.8 613.6,192.7 613.6,192.7 613.7,192.6 613.8,192.5 613.8,192.5 613.9,192.4 614.0,192.3 614.0,192.2 614.1,192.1 614.2,192.0 614.2,191.8 614.3,191.7 614.4,191.6 614.4,191.5 614.5,191.4 614.6,191.3 614.6,191.2 614.7,191.2 614.8,191.1 614.8,191.1 614.9,191.1 615.0,191.1 615.0,191.1 615.1,191.2 615.1,191.2 615.2,191.3 615.3,191.4 615.3,191.5 615.4,191.6 615.5,191.7 615.5,191.8 615.6,191.9 615.7,192.0 615.7,192.1 615.8,192.2 615.9,192.3 615.9,192.3 616.0,192.4 616.1,192.5 616.1,192.5 616.2,192.6 616.3,192.6 616.3,192.7 616.4,192.7 616.5,192.7 616.5,192.7 616.6,192.7 616.6,192.7 616.7,192.7 616.8,192.7 616.8,192.7 616.9,192.7 617.0,192.7 617.0,192.7 617.1,192.7 617.2,192.7 617.2,192.7 617.3,192.6 617.4,192.6 617.4,192.6 617.5,192.6 617.6,192.6 617.6,192.6 617.7,192.6 617.8,192.6 617.8,192.6 617.9,192.7 618.0,192.7 618.0,192.8 618.1,192.8 618.1,192.8 618.2,192.9 618.3,193.0 618.3,193.0 618.4,193.1 618.5,193.1 618.5,193.2 618.6,193.2 618.7,193.3 618.7,193.3 618.8,193.4 618.9,193.4 618.9,193.4 619.0,193.4 619.1,193.5 619.1,193.5 619.2,193.5 619.3,193.5 619.3,193.5 619.4,193.5 619.4,193.5 619.5,193.5 619.6,193.5 619.6,193.5 619.7,193.5 619.8,193.5 619.8,193.5 619.9,193.5 620.0,193.5 620.0,193.5 620.1,193.6 620.2,193.6 620.2,193.6 620.3,193.6 620.4,193.6 620.4,193.6 620.5,193.6 620.6,193.6 620.6,193.7 620.7,193.7 620.8,193.7 620.8,193.7 620.9,193.7 620.9,193.7 621.0,193.7 621.1,193.7 621.1,193.7 621.2,193.7 621.3,193.7 621.3,193.7 621.4,193.7 621.5,193.7 621.5,193.7 621.6,193.7 621.7,193.7 621.7,193.7 621.8,193.7 621.9,193.6 621.9,193.6 622.0,193.6 622.1,193.6 622.1,193.6 622.2,193.6 622.3,193.6 622.3,193.6 622.4,193.6 622.4,193.6 622.5,193.6 622.6,193.6 622.6,193.5 622.7,193.5 622.8,193.5 622.8,193.5 622.9,193.5 623.0,193.5 623.0,193.4 623.1,193.4 623.2,193.4 623.2,193.4 623.3,193.4 623.4,193.4 623.4,193.3 623.5,193.3 623.6,193.3 623.6,193.3 623.7,193.3 623.8,193.3 623.8,193.3 623.9,193.3 623.9,193.2 624.0,193.2 624.1,193.2 624.1,193.2 624.2,193.2 624.3,193.2 624.3,193.2 624.4,193.2 624.5,193.2 624.5,193.3 624.6,193.3 624.7,193.3 624.7,193.3 624.8,193.3 624.9,193.3 624.9,193.3 625.0,193.3 625.1,193.3 625.1,193.3 625.2,193.3 625.3,193.3 625.3,193.3 625.4,193.3 625.4,193.3 625.5,193.3 625.6,193.2 625.6,193.2 625.7,193.2 625.8,193.2 625.8,193.2 625.9,193.2 626.0,193.2 626.0,193.2 626.1,193.2 626.2,193.2 626.2,193.2 626.3,193.2 626.4,193.2 626.4,193.3 626.5,193.3 626.6,193.3 626.6,193.3 626.7,193.4 626.8,193.4 626.8,193.4 626.9,193.4 626.9,193.4 627.0,193.4 627.1,193.5 627.1,193.5 627.2,193.5 627.3,193.5 627.3,193.5 627.4,193.5 627.5,193.5 627.5,193.5 627.6,193.4 627.7,193.4 627.7,193.4 627.8,193.4 627.9,193.4 627.9,193.4 628.0,193.4 628.1,193.3 628.1,193.3 628.2,193.3 628.3,193.3 628.3,193.3 628.4,193.3 628.4,193.3 628.5,193.3 628.6,193.3 628.6,193.3 628.7,193.3 628.8,193.3 628.8,193.3 628.9,193.3 629.0,193.3 629.0,193.3 629.1,193.3 629.2,193.3 629.2,193.3 629.3,193.3 629.4,193.3 629.4,193.3 629.5,193.4 629.6,193.4 629.6,193.4 629.7,193.4 629.8,193.4 629.8,193.4 629.9,193.4 629.9,193.4 630.0,193.4 630.1,193.4 630.1,193.4 630.2,193.4 630.3,193.4 630.3,193.4 630.4,193.4 630.5,193.4 630.5,193.4 630.6,193.4 630.7,193.3 630.7,193.3 630.8,193.3 630.9,193.3 630.9,193.3 631.0,193.2 631.1,193.2 631.1,193.2 631.2,193.2 631.3,193.2 631.3,193.2 631.4,193.2 631.4,193.1 631.5,193.1 631.6,193.1 631.6,193.1 631.7,193.1 631.8,193.1 631.8,193.1 631.9,193.0 632.0,193.0 632.0,193.0 632.1,193.0 632.2,193.0 632.2,193.0 632.3,193.0 632.4,193.0 632.4,193.0 632.5,193.0 632.6,193.0 632.6,193.0 632.7,193.0 632.8,193.0 632.8,193.0 632.9,193.1 632.9,193.1 633.0,193.1 633.1,193.1 633.1,193.1 633.2,193.1 633.3,193.1 633.3,193.1 633.4,193.0 633.5,193.0 633.5,193.0 633.6,193.0 633.7,193.0 633.7,192.9 633.8,192.9 633.9,192.9 633.9,192.8 634.0,192.8 634.1,192.8 634.1,192.7 634.2,192.7 634.3,192.7 634.3,192.6 634.4,192.6 634.4,192.6 634.5,192.6 634.6,192.5 634.6,192.5 634.7,192.5 634.8,192.5 634.8,192.5 634.9,192.6 635.0,192.6 635.0,192.6 635.1,192.6 635.2,192.6 635.2,192.6 635.3,192.6 635.4,192.7 635.4,192.6 635.5,192.6 635.6,192.6 635.6,192.6 635.7,192.6 635.7,192.5 635.8,192.5 635.9,192.4 635.9,192.4 636.0,192.3 636.1,192.2 636.1,192.1 636.2,192.0 636.3,191.9 636.3,191.8 636.4,191.7 636.5,191.6 636.5,191.5 636.6,191.5 636.7,191.4 636.7,191.3 636.8,191.2 636.9,191.2 636.9,191.1 637.0,191.1 637.1,191.0 637.1,191.0 637.2,191.0 637.2,191.0 637.3,191.0 637.4,191.0 637.4,191.0 637.5,191.1 637.6,191.1 637.6,191.2 637.7,191.2 637.8,191.3 637.8,191.4 637.9,191.4 638.0,191.5 638.0,191.6 638.1,191.6 638.2,191.7 638.2,191.8 638.3,191.8 638.4,191.9 638.4,191.9 638.5,192.0 638.6,192.0 638.6,192.1 638.7,192.1 638.7,192.2 638.8,192.2 638.9,192.3 638.9,192.3 639.0,192.4 639.1,192.4 639.1,192.5 639.2,192.5 639.3,192.6 639.3,192.6 639.4,192.7 639.5,192.7 639.5,192.7 639.6,192.8 639.7,192.8 639.7,192.8 639.8,192.8 639.9,192.8 639.9,192.8 640.0,192.8 640.1,192.8 640.1,192.8 640.2,192.7 640.2,192.7 640.3,192.7 640.4,192.7 640.4,192.6 640.5,192.6 640.6,192.6 640.6,192.6 640.7,192.6 640.8,192.6 640.8,192.6 640.9,192.6 641.0,192.6 641.0,192.6 641.1,192.6 641.2,192.6 641.2,192.6 641.3,192.6 641.4,192.6 641.4,192.6 641.5,192.6 641.6,192.6 641.6,192.6 641.7,192.5 641.7,192.5 641.8,192.5 641.9,192.5 641.9,192.5 642.0,192.5 642.1,192.5 642.1,192.5 642.2,192.5 642.3,192.5 642.3,192.5 642.4,192.5 642.5,192.6 642.5,192.6 642.6,192.6 642.7,192.6 642.7,192.6 642.8,192.6 642.9,192.7 642.9,192.7 643.0,192.7 643.1,192.7 643.1,192.7 643.2,192.7 643.2,192.7 643.3,192.7 643.4,192.6 643.4,192.6 643.5,192.6 643.6,192.6 643.6,192.6 643.7,192.6 643.8,192.5 643.8,192.5 643.9,192.5 644.0,192.5 644.0,192.5 644.1,192.5 644.2,192.5 644.2,192.5 644.3,192.5 644.4,192.5 644.4,192.6 644.5,192.6 644.6,192.6 644.6,192.7 644.7,192.7 644.7,192.8 644.8,192.8 644.9,192.9 644.9,192.9 645.0,193.0 645.1,193.1 645.1,193.1 645.2,193.1 645.3,193.2 645.3,193.2 645.4,193.3 645.5,193.3 645.5,193.3 645.6,193.3 645.7,193.3 645.7,193.3 645.8,193.3 645.9,193.3 645.9,193.3 646.0,193.3 646.1,193.3 646.1,193.3 646.2,193.2 646.2,193.2 646.3,193.2 646.4,193.1 646.4,193.1 646.5,193.1 646.6,193.0 646.6,193.0 646.7,193.0 646.8,192.9 646.8,192.9 646.9,192.9 647.0,192.8 647.0,192.8 647.1,192.8 647.2,192.7 647.2,192.7 647.3,192.7 647.4,192.7 647.4,192.6 647.5,192.6 647.6,192.6 647.6,192.6 647.7,192.6 647.7,192.6 647.8,192.6 647.9,192.6 647.9,192.6 648.0,192.6 648.1,192.6 648.1,192.6 648.2,192.6 648.3,192.6 648.3,192.6 648.4,192.6 648.5,192.6 648.5,192.6 648.6,192.6 648.7,192.6 648.7,192.6 648.8,192.6 648.9,192.6 648.9,192.7 649.0,192.7 649.1,192.7 649.1,192.7 649.2,192.8 649.2,192.8 649.3,192.8 649.4,192.8 649.4,192.9 649.5,192.9 649.6,192.9 649.6,192.9 649.7,192.9 649.8,192.9 649.8,192.9 649.9,192.9 650.0,192.9 650.0,192.8 650.1,192.8 650.2,192.8 650.2,192.8 650.3,192.8 650.4,192.7 650.4,192.7 650.5,192.7 650.6,192.7 650.6,192.7 650.7,192.7 650.7,192.7 650.8,192.8 650.9,192.8 650.9,192.8 651.0,192.9 651.1,192.9 651.1,192.9 651.2,193.0 651.3,193.0 651.3,193.0 651.4,193.1 651.5,193.1 651.5,193.1 651.6,193.2 651.7,193.2 651.7,193.2 651.8,193.2 651.9,193.2 651.9,193.2 652.0,193.2 652.0,193.2 652.1,193.2 652.2,193.2 652.2,193.2 652.3,193.2 652.4,193.2 652.4,193.2 652.5,193.2 652.6,193.1 652.6,193.1 652.7,193.1 652.8,193.1 652.8,193.1 652.9,193.1 653.0,193.0 653.0,193.0 653.1,193.0 653.2,193.0 653.2,193.0 653.3,192.9 653.4,192.9 653.4,192.9 653.5,192.9 653.5,192.9 653.6,192.9 653.7,192.9 653.7,192.9 653.8,192.9 653.9,192.9 653.9,192.9 654.0,192.9 654.1,192.9 654.1,192.9 654.2,192.9 654.3,192.9 654.3,192.9 654.4,192.9 654.5,192.9 654.5,192.8 654.6,192.8 654.7,192.8 654.7,192.8 654.8,192.8 654.9,192.7 654.9,192.7 655.0,192.7 655.0,192.7 655.1,192.7 655.2,192.7 655.2,192.7 655.3,192.7 655.4,192.7 655.4,192.7 655.5,192.7 655.6,192.8 655.6,192.8 655.7,192.8 655.8,192.8 655.8,192.8 655.9,192.9 656.0,192.9 656.0,192.9 656.1,192.9 656.2,192.9 656.2,192.9 656.3,192.9 656.4,192.9 656.4,192.9 656.5,192.9 656.5,192.9 656.6,192.9 656.7,192.9 656.7,192.9 656.8,192.8 656.9,192.8 656.9,192.8 657.0,192.8 657.1,192.8 657.1,192.7 657.2,192.7 657.3,192.7 657.3,192.7 657.4,192.7 657.5,192.7 657.5,192.7 657.6,192.7 657.7,192.7 657.7,192.7 657.8,192.7 657.9,192.8 657.9,192.8 658.0,192.8 658.0,192.8 658.1,192.9 658.2,192.9 658.2,192.9 658.3,192.9 658.4,192.9 658.4,192.9 658.5,193.0 658.6,193.0 658.6,193.0 658.7,193.0 658.8,193.0 658.8,193.0 658.9,193.0 659.0,193.1 659.0,193.1 659.1,193.1 659.2,193.1 659.2,193.1 659.3,193.2 659.4,193.2 659.4,193.2 659.5,193.2 659.5,193.2 659.6,193.3 659.7,193.3 659.7,193.3 659.8,193.3 659.9,193.3 659.9,193.3 660.0,193.3 660.1,193.3 660.1,193.2 660.2,193.2 660.3,193.2 660.3,193.1 660.4,193.1 660.5,193.1 660.5,193.0 660.6,193.0 660.7,192.9 660.7,192.9 660.8,192.8 660.9,192.8 660.9,192.7 661.0,192.7 661.0,192.6 661.1,192.6 661.2,192.6 661.2,192.6 661.3,192.5 661.4,192.5 661.4,192.5 661.5,192.5 661.6,192.5 661.6,192.5 661.7,192.5 661.8,192.5 661.8,192.5 661.9,192.5 662.0,192.5 662.0,192.6 662.1,192.6 662.2,192.6 662.2,192.6 662.3,192.7 662.4,192.7 662.4,192.8 662.5,192.8 662.5,192.8 662.6,192.9 662.7,192.9 662.7,192.9 662.8,193.0 662.9,193.0 662.9,193.0 663.0,193.0 663.1,193.0 663.1,193.1 663.2,193.1 663.3,193.1 663.3,193.1 663.4,193.1 663.5,193.1 663.5,193.1 663.6,193.1 663.7,193.1 663.7,193.1 663.8,193.1 663.9,193.1 663.9,193.1 664.0,193.1 664.0,193.1 664.1,193.0 664.2,193.0 664.2,193.0 664.3,193.0 664.4,193.0 664.4,193.0 664.5,193.0 664.6,193.0 664.6,192.9 664.7,192.9 664.8,192.9 664.8,192.9 664.9,192.9 665.0,192.9 665.0,192.9 665.1,192.9 665.2,192.9 665.2,192.9 665.3,192.9 665.4,192.9 665.4,192.9 665.5,193.0 665.5,193.0 665.6,193.0 665.7,193.0 665.7,193.0 665.8,193.0 665.9,193.0 665.9,193.1 666.0,193.1 666.1,193.1 666.1,193.1 666.2,193.1 666.3,193.1 666.3,193.1 666.4,193.1 666.5,193.1 666.5,193.1 666.6,193.1 666.7,193.1 666.7,193.1 666.8,193.1 666.9,193.1 666.9,193.1 667.0,193.1 667.0,193.1 667.1,193.1 667.2,193.1 667.2,193.1 667.3,193.1 667.4,193.1 667.4,193.1 667.5,193.2 667.6,193.2 667.6,193.2 667.7,193.2 667.8,193.3 667.8,193.3 667.9,193.3 668.0,193.4 668.0,193.4 668.1,193.4 668.2,193.4 668.2,193.5 668.3,193.5 668.3,193.5 668.4,193.5 668.5,193.5 668.5,193.5 668.6,193.5 668.7,193.5 668.7,193.5 668.8,193.5 668.9,193.4 668.9,193.4 669.0,193.4 669.1,193.4 669.1,193.4 669.2,193.4 669.3,193.3 669.3,193.3 669.4,193.3 669.5,193.3 669.5,193.3 669.6,193.3 669.7,193.3 669.7,193.3 669.8,193.3 669.8,193.3 669.9,193.3 670.0,193.3 670.0,193.3 670.1,193.3 670.2,193.3 670.2,193.3 670.3,193.3 670.4,193.3 670.4,193.3 670.5,193.3 670.6,193.3 670.6,193.3 670.7,193.3 670.8,193.3 670.8,193.3 670.9,193.3 671.0,193.3 671.0,193.3 671.1,193.3 671.2,193.3 671.2,193.3 671.3,193.3 671.3,193.3 671.4,193.3 671.5,193.3 671.5,193.3 671.6,193.3 671.7,193.3 671.7,193.3 671.8,193.2 671.9,193.2 671.9,193.2 672.0,193.2 672.1,193.2 672.1,193.3 672.2,193.3 672.3,193.3 672.3,193.3 672.4,193.3 672.5,193.3 672.5,193.3 672.6,193.3 672.7,193.3 672.7,193.3 672.8,193.3 672.8,193.3 672.9,193.3 673.0,193.3 673.0,193.3 673.1,193.3 673.2,193.3 673.2,193.3 673.3,193.3 673.4,193.3 673.4,193.4 673.5,193.4 673.6,193.4 673.6,193.4 673.7,193.4 673.8,193.4 673.8,193.4 673.9,193.5 674.0,193.5 674.0,193.5 674.1,193.5 674.2,193.5 674.2,193.5 674.3,193.5 674.3,193.6 674.4,193.6 674.5,193.6 674.5,193.6 674.6,193.6 674.7,193.6 674.7,193.6 674.8,193.6 674.9,193.6 674.9,193.6 675.0,193.6 675.1,193.6 675.1,193.6 675.2,193.6 675.3,193.6 675.3,193.6 675.4,193.6 675.5,193.6 675.5,193.6 675.6,193.6 675.7,193.6 675.7,193.5 675.8,193.5 675.8,193.5 675.9,193.5 676.0,193.5 676.0,193.4 676.1,193.4 676.2,193.4 676.2,193.3 676.3,193.3 676.4,193.2 676.4,193.2 676.5,193.2 676.6,193.1 676.6,193.1 676.7,193.1 676.8,193.0 676.8,193.0 676.9,193.0 677.0,193.0 677.0,192.9 677.1,192.9 677.2,192.9 677.2,192.9 677.3,192.9 677.3,192.9 677.4,192.8 677.5,192.8 677.5,192.8 677.6,192.8 677.7,192.7 677.7,192.7 677.8,192.7 677.9,192.7 677.9,192.6 678.0,192.6 678.1,192.6 678.1,192.5 678.2,192.5 678.3,192.5 678.3,192.5 678.4,192.5 678.5,192.5 678.5,192.5 678.6,192.5 678.7,192.5 678.7,192.5 678.8,192.5 678.8,192.5 678.9,192.5 679.0,192.5 679.0,192.5 679.1,192.5 679.2,192.4 679.2,192.4 679.3,192.4 679.4,192.4 679.4,192.4 679.5,192.4 679.6,192.5 679.6,192.5 679.7,192.5 679.8,192.5 679.8,192.5 679.9,192.6 680.0,192.6 680.0,192.6 680.1,192.7 680.2,192.7 680.2,192.7 680.3,192.8 680.3,192.8 680.4,192.8 680.5,192.8 680.5,192.9 680.6,192.9 680.7,192.9 680.7,193.0 680.8,193.0 680.9,193.0 680.9,193.1 681.0,193.1 681.1,193.1 681.1,193.2 681.2,193.2 681.3,193.2 681.3,193.2 681.4,193.2 681.5,193.3 681.5,193.3 681.6,193.3 681.7,193.3 681.7,193.3 681.8,193.3 681.8,193.3 681.9,193.3 682.0,193.3 682.0,193.3 682.1,193.3 682.2,193.3 682.2,193.3 682.3,193.3 682.4,193.3 682.4,193.3 682.5,193.4 682.6,193.4 682.6,193.4 682.7,193.4 682.8,193.4 682.8,193.4 682.9,193.4 683.0,193.4 683.0,193.4 683.1,193.4 683.2,193.4 683.2,193.4 683.3,193.4 683.3,193.4 683.4,193.4 683.5,193.4 683.5,193.3 683.6,193.3 683.7,193.3 683.7,193.3 683.8,193.3 683.9,193.2 683.9,193.2 684.0,193.2 684.1,193.2 684.1,193.1 684.2,193.1 684.3,193.1 684.3,193.0 684.4,193.0 684.5,193.0 684.5,192.9 684.6,192.9 684.6,192.9 684.7,192.8 684.8,192.8 684.8,192.8 684.9,192.8 685.0,192.8 685.0,192.8 685.1,192.8 685.2,192.8 685.2,192.8 685.3,192.8 685.4,192.8 685.4,192.8 685.5,192.8 685.6,192.8 685.6,192.9 685.7,192.9 685.8,192.9 685.8,192.9 685.9,192.9 686.0,192.9 686.0,193.0 686.1,193.0 686.1,193.0 686.2,193.1 686.3,193.1 686.3,193.1 686.4,193.2 686.5,193.2 686.5,193.2 686.6,193.3 686.7,193.3 686.7,193.3 686.8,193.4 686.9,193.4 686.9,193.4 687.0,193.4 687.1,193.4 687.1,193.4 687.2,193.4 687.3,193.5 687.3,193.5 687.4,193.5 687.5,193.4 687.5,193.4 687.6,193.4 687.6,193.4 687.7,193.4 687.8,193.4 687.8,193.4 687.9,193.4 688.0,193.4 688.0,193.4 688.1,193.4 688.2,193.4 688.2,193.4 688.3,193.4 688.4,193.4 688.4,193.4 688.5,193.4 688.6,193.4 688.6,193.4 688.7,193.4 688.8,193.4 688.8,193.4 688.9,193.4 689.0,193.4 689.0,193.4 689.1,193.4 689.1,193.4 689.2,193.3 689.3,193.3 689.3,193.3 689.4,193.3 689.5,193.3 689.5,193.2 689.6,193.2 689.7,193.2 689.7,193.2 689.8,193.1 689.9,193.1 689.9,193.1 690.0,193.1 690.1,193.1 690.1,193.1 690.2,193.1 690.3,193.0 690.3,193.0 690.4,193.0 690.5,193.0 690.5,193.0 690.6,193.0 690.6,193.1 690.7,193.1 690.8,193.1 690.8,193.1 690.9,193.1 691.0,193.1 691.0,193.1 691.1,193.1 691.2,193.0 691.2,193.0 691.3,193.0 691.4,193.0 691.4,193.0 691.5,192.9 691.6,192.9 691.6,192.9 691.7,192.8 691.8,192.8 691.8,192.7 691.9,192.7 692.0,192.7 692.0,192.6 692.1,192.6 692.1,192.6 692.2,192.6 692.3,192.6 692.3,192.5 692.4,192.5 692.5,192.6 692.5,192.6 692.6,192.6 692.7,192.6 692.7,192.6 692.8,192.6 692.9,192.6 692.9,192.6 693.0,192.7 693.1,192.7 693.1,192.7 693.2,192.7 693.3,192.7 693.3,192.7 693.4,192.8 693.5,192.8 693.5,192.8 693.6,192.9 693.6,192.9 693.7,193.0 693.8,193.0 693.8,193.0 693.9,193.1 694.0,193.1 694.0,193.2 694.1,193.2 694.2,193.3 694.2,193.3 694.3,193.4 694.4,193.4 694.4,193.4 694.5,193.4 694.6,193.5 694.6,193.5 694.7,193.5 694.8,193.5 694.8,193.5 694.9,193.5 695.0,193.5 695.0,193.5 695.1,193.5 695.1,193.5 695.2,193.5 695.3,193.5 695.3,193.5 695.4,193.5 695.5,193.5 695.5,193.5 695.6,193.5 695.7,193.5 695.7,193.5 695.8,193.5 695.9,193.4 695.9,193.4 696.0,193.4 696.1,193.4 696.1,193.4 696.2,193.4 696.3,193.3 696.3,193.3 696.4,193.3 696.5,193.2 696.5,193.2 696.6,193.2 696.6,193.1 696.7,193.1 696.8,193.1 696.8,193.0 696.9,193.0 697.0,193.0 697.0,192.9 697.1,192.9 697.2,192.9 697.2,192.9 697.3,192.8 697.4,192.8 697.4,192.8 697.5,192.8 697.6,192.8 697.6,192.9 697.7,192.9 697.8,192.9 697.8,192.9 697.9,193.0 698.0,193.0 698.0,193.1 698.1,193.1 698.1,193.1 698.2,193.2 698.3,193.2 698.3,193.3 698.4,193.3 698.5,193.3 698.5,193.4 698.6,193.4 698.7,193.4 698.7,193.4 698.8,193.4 698.9,193.4 698.9,193.4 699.0,193.4 699.1,193.4 699.1,193.4 699.2,193.4 699.3,193.4 699.3,193.4 699.4,193.4 699.5,193.3 699.5,193.3 699.6,193.3 699.6,193.2 699.7,193.2 699.8,193.2 699.8,193.1 699.9,193.1 700.0,193.0 700.0,193.0 700.1,193.0 700.2,192.9 700.2,192.9 700.3,192.8 700.4,192.8 700.4,192.7 700.5,192.7 700.6,192.7 700.6,192.6 700.7,192.6 700.8,192.6 700.8,192.6 700.9,192.6 700.9,192.6 701.0,192.6 701.1,192.6 701.1,192.6 701.2,192.6 701.3,192.5 701.3,192.5 701.4,192.5 701.5,192.5 701.5,192.5 701.6,192.4 701.7,192.4 701.7,192.4 701.8,192.3 701.9,192.3 701.9,192.2 702.0,192.2 702.1,192.2 702.1,192.1 702.2,192.1 702.3,192.0 702.3,192.0 702.4,192.0 702.4,192.0 702.5,192.0 702.6,192.0 702.6,192.0 702.7,192.0 702.8,192.0 702.8,192.0 702.9,192.0 703.0,192.0 703.0,192.0 703.1,192.0 703.2,192.0 703.2,192.0 703.3,192.0 703.4,191.9 703.4,191.9 703.5,191.9 703.6,191.9 703.6,191.9 703.7,191.9 703.8,191.9 703.8,191.9 703.9,191.9 703.9,191.9 704.0,191.9 704.1,191.9 704.1,191.9 704.2,191.9 704.3,191.9 704.3,191.9 704.4,191.9 704.5,191.9 704.5,191.9 704.6,191.9 704.7,191.8 704.7,191.8 704.8,191.8 704.9,191.8 704.9,191.7 705.0,191.7 705.1,191.7 705.1,191.6 705.2,191.6 705.3,191.6 705.3,191.6 705.4,191.6 705.4,191.6 705.5,191.6 705.6,191.6 705.6,191.6 705.7,191.6 705.8,191.6 705.8,191.6 705.9,191.7 706.0,191.7 706.0,191.7 706.1,191.7 706.2,191.7 706.2,191.8 706.3,191.8 706.4,191.8 706.4,191.8 706.5,191.9 706.6,191.9 706.6,191.9 706.7,192.0 706.8,192.0 706.8,192.1 706.9,192.1 706.9,192.1 707.0,192.2 707.1,192.2 707.1,192.2 707.2,192.2 707.3,192.2 707.3,192.2 707.4,192.2 707.5,192.2 707.5,192.2 707.6,192.1 707.7,192.1 707.7,192.0 707.8,192.0 707.9,191.9 707.9,191.9 708.0,191.8 708.1,191.8 708.1,191.8 708.2,191.7 708.3,191.7 708.3,191.7 708.4,191.7 708.4,191.7 708.5,191.7 708.6,191.8 708.6,191.8 708.7,191.9 708.8,192.0 708.8,192.0 708.9,192.1 709.0,192.2 709.0,192.3 709.1,192.4 709.2,192.5 709.2,192.6 709.3,192.6 709.4,192.7 709.4,192.8 709.5,192.9 709.6,192.9 709.6,193.0 709.7,193.1 709.8,193.1 709.8,193.2 709.9,193.2 709.9,193.2 710.0,193.3 710.1,193.3 710.1,193.3 710.2,193.3 710.3,193.3 710.3,193.3 710.4,193.3 710.5,193.3 710.5,193.3 710.6,193.3 710.7,193.3 710.7,193.3 710.8,193.2 710.9,193.2 710.9,193.2 711.0,193.2 711.1,193.2 711.1,193.2 711.2,193.2 711.3,193.2 711.3,193.2 711.4,193.2 711.4,193.2 711.5,193.2 711.6,193.2 711.6,193.2 711.7,193.2 711.8,193.2 711.8,193.2 711.9,193.2 712.0,193.2 712.0,193.1 712.1,193.1 712.2,193.1 712.2,193.1 712.3,193.1 712.4,193.0 712.4,193.0 712.5,193.0 712.6,193.0 712.6,193.0 712.7,192.9 712.8,192.9 712.8,192.9 712.9,192.9 712.9,192.9 713.0,192.9 713.1,192.9 713.1,192.9 713.2,192.9 713.3,192.9 713.3,192.9 713.4,192.9 713.5,192.9 713.5,192.9 713.6,192.9 713.7,193.0 713.7,193.0 713.8,193.0 713.9,193.0 713.9,193.0 714.0,193.0 714.1,193.1 714.1,193.1 714.2,193.1 714.3,193.1 714.3,193.1 714.4,193.2 714.4,193.2 714.5,193.2 714.6,193.2 714.6,193.2 714.7,193.2 714.8,193.2 714.8,193.2 714.9,193.2 715.0,193.2 715.0,193.2 715.1,193.2 715.2,193.2 715.2,193.2 715.3,193.2 715.4,193.2 715.4,193.3 715.5,193.3 715.6,193.3 715.6,193.3 715.7,193.4 715.8,193.4 715.8,193.4 715.9,193.4 715.9,193.5 716.0,193.5 716.1,193.5 716.1,193.5 716.2,193.5 716.3,193.6 716.3,193.6 716.4,193.6 716.5,193.6 716.5,193.6 716.6,193.6 716.7,193.6 716.7,193.7 716.8,193.7 716.9,193.7 716.9,193.7 717.0,193.7 717.1,193.7 717.1,193.7 717.2,193.6 717.2,193.6 717.3,193.6 717.4,193.6 717.4,193.6 717.5,193.6 717.6,193.5 717.6,193.5 717.7,193.5 717.8,193.4 717.8,193.4 717.9,193.4 718.0,193.3 718.0,193.3 718.1,193.2 718.2,193.2 718.2,193.2 718.3,193.2 718.4,193.1 718.4,193.1 718.5,193.1 718.6,193.1 718.6,193.1 718.7,193.1 718.7,193.0 718.8,193.0 718.9,193.0 718.9,193.0 719.0,193.0 719.1,193.0 719.1,193.0 719.2,193.0 719.3,193.0 719.3,193.0 719.4,193.0 719.5,193.0 719.5,193.0 719.6,193.0 719.7,193.0 719.7,193.0 719.8,193.0 719.9,193.0 719.9,193.0 720.0,193.0 720.1,193.0 720.1,193.0 720.2,193.0 720.2,193.0 720.3,193.0 720.4,193.0 720.4,193.1 720.5,193.1 720.6,193.1 720.6,193.2 720.7,193.2 720.8,193.3 720.8,193.3 720.9,193.3 721.0,193.4 721.0,193.4 721.1,193.5 721.2,193.5 721.2,193.6 721.3,193.6 721.4,193.6 721.4,193.7 721.5,193.7 721.6,193.7 721.6,193.7 721.7,193.8 721.7,193.8 721.8,193.8 721.9,193.8 721.9,193.8 722.0,193.8 722.1,193.8 722.1,193.8 722.2,193.8 722.3,193.8 722.3,193.8 722.4,193.8 722.5,193.8 722.5,193.8 722.6,193.7 722.7,193.7 722.7,193.7 722.8,193.7 722.9,193.7 722.9,193.7 723.0,193.7 723.1,193.6 723.1,193.6 723.2,193.6 723.2,193.6 723.3,193.6 723.4,193.6 723.4,193.5 723.5,193.5 723.6,193.5 723.6,193.5 723.7,193.4 723.8,193.4 723.8,193.4 723.9,193.4 724.0,193.3 724.0,193.3 724.1,193.3 724.2,193.3 724.2,193.2 724.3,193.2 724.4,193.2 724.4,193.2 724.5,193.2 724.6,193.2 724.6,193.2 724.7,193.2 724.7,193.2 724.8,193.2 724.9,193.2 724.9,193.2 725.0,193.3 725.1,193.3 725.1,193.3 725.2,193.4 725.3,193.4 725.3,193.4 725.4,193.5"/>
<polyline fill="none" stroke="#0a0aff" stroke-width=".85" stroke-linejoin="round" points="432.0,194.2 432.1,194.2 432.1,194.2 432.2,194.2 432.3,194.2 432.3,194.2 432.4,194.2 432.5,194.2 432.5,194.2 432.6,194.2 432.7,194.2 432.7,194.2 432.8,194.2 432.8,194.2 432.9,194.2 433.0,194.2 433.0,194.2 433.1,194.2 433.2,194.2 433.2,194.2 433.3,194.2 433.4,194.2 433.4,194.2 433.5,194.2 433.6,194.2 433.6,194.2 433.7,194.2 433.8,194.2 433.8,194.2 433.9,194.2 434.0,194.2 434.0,194.2 434.1,194.2 434.2,194.2 434.2,194.2 434.3,194.2 434.3,194.2 434.4,194.2 434.5,194.2 434.5,194.2 434.6,194.2 434.7,194.2 434.7,194.2 434.8,194.2 434.9,194.2 434.9,194.2 435.0,194.2 435.1,194.2 435.1,194.2 435.2,194.2 435.3,194.2 435.3,194.2 435.4,194.2 435.5,194.2 435.5,194.2 435.6,194.2 435.7,194.2 435.7,194.2 435.8,194.2 435.8,194.2 435.9,194.2 436.0,194.2 436.0,194.2 436.1,194.2 436.2,194.2 436.2,194.2 436.3,194.2 436.4,194.2 436.4,194.1 436.5,194.1 436.6,194.1 436.6,194.1 436.7,194.1 436.8,194.1 436.8,194.1 436.9,194.1 437.0,194.1 437.0,194.1 437.1,194.1 437.2,194.1 437.2,194.1 437.3,194.1 437.3,194.1 437.4,194.1 437.5,194.1 437.5,194.1 437.6,194.1 437.7,194.1 437.7,194.1 437.8,194.1 437.9,194.1 437.9,194.1 438.0,194.1 438.1,194.1 438.1,194.1 438.2,194.1 438.3,194.1 438.3,194.1 438.4,194.1 438.5,194.1 438.5,194.1 438.6,194.0 438.7,194.0 438.7,194.0 438.8,194.0 438.8,194.0 438.9,194.0 439.0,194.0 439.0,194.0 439.1,194.0 439.2,194.0 439.2,194.0 439.3,194.0 439.4,194.0 439.4,194.0 439.5,194.0 439.6,194.0 439.6,194.0 439.7,194.0 439.8,194.0 439.8,194.0 439.9,193.9 440.0,193.9 440.0,193.9 440.1,193.9 440.1,193.9 440.2,193.9 440.3,193.9 440.3,193.9 440.4,193.9 440.5,193.9 440.5,193.9 440.6,193.9 440.7,193.9 440.7,193.9 440.8,193.8 440.9,193.8 440.9,193.8 441.0,193.8 441.1,193.8 441.1,193.8 441.2,193.8 441.3,193.8 441.3,193.8 441.4,193.8 441.5,193.7 441.5,193.7 441.6,193.7 441.6,193.7 441.7,193.7 441.8,193.7 441.8,193.7 441.9,193.7 442.0,193.6 442.0,193.6 442.1,193.6 442.2,193.6 442.2,193.6 442.3,193.6 442.4,193.5 442.4,193.5 442.5,193.5 442.6,193.5 442.6,193.5 442.7,193.4 442.8,193.4 442.8,193.4 442.9,193.4 443.0,193.4 443.0,193.3 443.1,193.3 443.1,193.3 443.2,193.2 443.3,193.2 443.3,193.2 443.4,193.2 443.5,193.1 443.5,193.1 443.6,193.0 443.7,193.0 443.7,193.0 443.8,192.9 443.9,192.9 443.9,192.8 444.0,192.8 444.1,192.7 444.1,192.7 444.2,192.6 444.3,192.6 444.3,192.5 444.4,192.4 444.5,192.4 444.5,192.3 444.6,192.2 444.6,192.1 444.7,192.0 444.8,191.9 444.8,191.8 444.9,191.7 445.0,191.6 445.0,191.5 445.1,191.4 445.2,191.2 445.2,191.1 445.3,190.9 445.4,190.7 445.4,190.5 445.5,190.3 445.6,190.1 445.6,189.9 445.7,189.6 445.8,189.3 445.8,189.0 445.9,188.6 446.0,188.2 446.0,187.8 446.1,187.3 446.1,186.8 446.2,186.2 446.3,185.5 446.3,184.8 446.4,183.9 446.5,182.9 446.5,181.8 446.6,180.5 446.7,179.0 446.7,177.2 446.8,175.0 446.9,172.4 446.9,169.1 447.0,164.9 447.1,159.4 447.1,152.3 447.2,142.7 447.3,130.2 447.3,113.9 447.4,93.3 447.5,68.0 447.5,38.3 447.6,35.6 447.6,35.6 447.7,35.6 447.8,35.6 447.8,35.6 447.9,35.6 448.0,35.6 448.0,38.2 448.1,67.9 448.2,93.2 448.2,113.8 448.3,130.1 448.4,142.6 448.4,152.1 448.5,159.2 448.6,164.7 448.6,168.8 448.7,172.1 448.8,174.7 448.8,176.9 448.9,178.6 449.0,180.2 449.0,181.4 449.1,182.6 449.1,183.5 449.2,184.4 449.3,185.1 449.3,185.7 449.4,186.3 449.5,186.8 449.5,187.3 449.6,187.7 449.7,188.0 449.7,188.4 449.8,188.6 449.9,188.9 449.9,189.1 450.0,189.4 450.1,189.5 450.1,189.7 450.2,189.9 450.3,190.0 450.3,190.1 450.4,190.2 450.5,190.3 450.5,190.4 450.6,190.5 450.6,190.6 450.7,190.6 450.8,190.7 450.8,190.7 450.9,190.7 451.0,190.8 451.0,190.8 451.1,190.8 451.2,190.8 451.2,190.8 451.3,190.7 451.4,190.7 451.4,190.7 451.5,190.6 451.6,190.6 451.6,190.5 451.7,190.4 451.8,190.3 451.8,190.2 451.9,190.1 452.0,190.0 452.0,189.9 452.1,189.7 452.1,189.5 452.2,189.3 452.3,189.1 452.3,188.9 452.4,188.6 452.5,188.3 452.5,188.0 452.6,187.6 452.7,187.2 452.7,186.7 452.8,186.2 452.9,185.6 452.9,184.9 453.0,184.1 453.1,183.2 453.1,182.1 453.2,180.9 453.3,179.5 453.3,177.9 453.4,175.9 453.5,173.4 453.5,170.3 453.6,166.4 453.6,161.3 453.7,154.6 453.8,145.7 453.8,134.0 453.9,118.7 454.0,99.4 454.0,75.7 454.1,47.9 454.2,40.1 454.2,40.1 454.3,40.1 454.4,40.1 454.4,40.1 454.5,40.1 454.6,40.1 454.6,48.0 454.7,75.8 454.8,99.5 454.8,118.9 454.9,134.1 455.0,145.9 455.0,154.8 455.1,161.5 455.1,166.6 455.2,170.6 455.3,173.7 455.3,176.1 455.4,178.2 455.5,179.8 455.5,181.3 455.6,182.5 455.7,183.6 455.7,184.5 455.8,185.3 455.9,186.0 455.9,186.6 456.0,187.2 456.1,187.7 456.1,188.1 456.2,188.5 456.3,188.9 456.3,189.2 456.4,189.5 456.4,189.8 456.5,190.1 456.6,190.3 456.6,190.5 456.7,190.7 456.8,190.9 456.8,191.0 456.9,191.2 457.0,191.3 457.0,191.5 457.1,191.6 457.2,191.7 457.2,191.8 457.3,191.9 457.4,192.0 457.4,192.1 457.5,192.2 457.6,192.3 457.6,192.3 457.7,192.4 457.8,192.5 457.8,192.5 457.9,192.6 457.9,192.6 458.0,192.7 458.1,192.7 458.1,192.8 458.2,192.8 458.3,192.9 458.3,192.9 458.4,192.9 458.5,193.0 458.5,193.0 458.6,193.0 458.7,193.1 458.7,193.1 458.8,193.1 458.9,193.1 458.9,193.2 459.0,193.2 459.1,193.2 459.1,193.2 459.2,193.2 459.3,193.2 459.3,193.2 459.4,193.2 459.4,193.2 459.5,193.1 459.6,193.1 459.6,193.0 459.7,192.8 459.8,192.5 459.8,191.9 459.9,191.0 460.0,190.0 460.0,189.5 460.1,190.0 460.2,191.0 460.2,191.9 460.3,192.6 460.4,192.9 460.4,193.1 460.5,193.3 460.6,193.4 460.6,193.4 460.7,193.5 460.8,193.5 460.8,193.5 460.9,193.6 460.9,193.6 461.0,193.6 461.1,193.6 461.1,193.6 461.2,193.7 461.3,193.7 461.3,193.7 461.4,193.7 461.5,193.7 461.5,193.7 461.6,193.7 461.7,193.7 461.7,193.7 461.8,193.7 461.9,193.7 461.9,193.7 462.0,193.7 462.1,193.7 462.1,193.7 462.2,193.7 462.3,193.7 462.3,193.7 462.4,193.7 462.4,193.7 462.5,193.7 462.6,193.7 462.6,193.7 462.7,193.7 462.8,193.7 462.8,193.7 462.9,193.7 463.0,193.7 463.0,193.6 463.1,193.6 463.2,193.6 463.2,193.6 463.3,193.6 463.4,193.5 463.4,193.5 463.5,193.5 463.6,193.4 463.6,193.4 463.7,193.3 463.8,193.3 463.8,193.2 463.9,193.1 463.9,193.0 464.0,192.9 464.1,192.7 464.1,192.6 464.2,192.3 464.3,192.1 464.3,191.7 464.4,191.3 464.5,190.7 464.5,189.8 464.6,188.6 464.7,186.8 464.7,183.7 464.8,178.2 464.9,169.0 464.9,155.4 465.0,139.6 465.1,131.4 465.1,139.6 465.2,155.4 465.3,169.0 465.3,178.2 465.4,183.7 465.4,186.8 465.5,188.7 465.6,189.9 465.6,190.7 465.7,191.3 465.8,191.8 465.8,192.1 465.9,192.4 466.0,192.6 466.0,192.8 466.1,192.9 466.2,193.1 466.2,193.2 466.3,193.3 466.4,193.3 466.4,193.4 466.5,193.5 466.6,193.5 466.6,193.6 466.7,193.6 466.8,193.6 466.8,193.7 466.9,193.7 466.9,193.7 467.0,193.8 467.1,193.8 467.1,193.8 467.2,193.8 467.3,193.8 467.3,193.8 467.4,193.9 467.5,193.9 467.5,193.9 467.6,193.9 467.7,193.9 467.7,193.9 467.8,193.9 467.9,193.9 467.9,193.9 468.0,193.9 468.1,193.9 468.1,194.0 468.2,194.0 468.3,194.0 468.3,194.0 468.4,194.0 468.4,194.0 468.5,194.0 468.6,194.0 468.6,194.0 468.7,194.0 468.8,194.0 468.8,194.0 468.9,194.0 469.0,194.0 469.0,194.0 469.1,194.0 469.2,194.0 469.2,194.0 469.3,194.0 469.4,194.0 469.4,194.0 469.5,194.0 469.6,194.0 469.6,194.0 469.7,194.0 469.8,194.0 469.8,194.0 469.9,194.0 469.9,194.0 470.0,194.0 470.1,194.0 470.1,194.0 470.2,194.0 470.3,194.0 470.3,194.0 470.4,194.0 470.5,194.0 470.5,194.0 470.6,194.0 470.7,194.0 470.7,194.0 470.8,194.0 470.9,194.0 470.9,194.0 471.0,194.0 471.1,194.0 471.1,194.0 471.2,194.0 471.3,193.9 471.3,193.9 471.4,193.9 471.4,193.9 471.5,193.9 471.6,193.9 471.6,193.9 471.7,193.9 471.8,193.8 471.8,193.8 471.9,193.8 472.0,193.8 472.0,193.8 472.1,193.7 472.2,193.7 472.2,193.7 472.3,193.6 472.4,193.6 472.4,193.5 472.5,193.3 472.6,193.1 472.6,192.8 472.7,192.5 472.7,192.3 472.8,192.5 472.9,192.8 472.9,193.1 473.0,193.3 473.1,193.4 473.1,193.5 473.2,193.6 473.3,193.6 473.3,193.7 473.4,193.7 473.5,193.7 473.5,193.7 473.6,193.7 473.7,193.8 473.7,193.8 473.8,193.8 473.9,193.8 473.9,193.8 474.0,193.8 474.1,193.8 474.1,193.8 474.2,193.8 474.2,193.8 474.3,193.8 474.4,193.8 474.4,193.8 474.5,193.8 474.6,193.8 474.6,193.8 474.7,193.8 474.8,193.8 474.8,193.8 474.9,193.8 475.0,193.8 475.0,193.8 475.1,193.8 475.2,193.8 475.2,193.8 475.3,193.8 475.4,193.8 475.4,193.8 475.5,193.8 475.6,193.8 475.6,193.7 475.7,193.7 475.7,193.7 475.8,193.7 475.9,193.7 475.9,193.7 476.0,193.7 476.1,193.7 476.1,193.7 476.2,193.6 476.3,193.6 476.3,193.6 476.4,193.6 476.5,193.6 476.5,193.6 476.6,193.5 476.7,193.5 476.7,193.5 476.8,193.5 476.9,193.5 476.9,193.4 477.0,193.4 477.1,193.4 477.1,193.4 477.2,193.3 477.2,193.3 477.3,193.3 477.4,193.2 477.4,193.2 477.5,193.2 477.6,193.1 477.6,193.1 477.7,193.1 477.8,193.0 477.8,193.0 477.9,192.9 478.0,192.8 478.0,192.8 478.1,192.7 478.2,192.6 478.2,192.5 478.3,192.4 478.4,192.3 478.4,192.1 478.5,191.9 478.6,191.8 478.6,191.6 478.7,191.3 478.7,191.1 478.8,190.9 478.9,190.7 478.9,190.5 479.0,190.4 479.1,190.3 479.1,190.1 479.2,190.0 479.3,189.8 479.3,189.6 479.4,189.3 479.5,188.9 479.5,188.4 479.6,187.7 479.7,186.6 479.7,184.8 479.8,181.7 479.9,177.5 479.9,174.8 480.0,177.2 480.1,181.2 480.1,184.1 480.2,185.9 480.2,187.0 480.3,187.7 480.4,188.3 480.4,188.8 480.5,189.2 480.6,189.5 480.6,189.8 480.7,190.0 480.8,190.1 480.8,190.2 480.9,190.3 481.0,190.3 481.0,190.3 481.1,190.3 481.2,190.2 481.2,190.1 481.3,190.0 481.4,189.8 481.4,189.6 481.5,189.3 481.6,188.9 481.6,188.3 481.7,187.2 481.7,185.4 481.8,182.8 481.9,181.2 481.9,182.6 482.0,184.9 482.1,186.5 482.1,187.3 482.2,187.6 482.3,187.7 482.3,187.8 482.4,187.9 482.5,187.9 482.5,188.0 482.6,188.1 482.7,188.1 482.7,188.0 482.8,187.9 482.9,187.7 482.9,187.5 483.0,187.2 483.1,186.8 483.1,186.3 483.2,185.8 483.2,185.2 483.3,184.5 483.4,183.7 483.4,182.7 483.5,181.6 483.6,180.0 483.6,177.7 483.7,174.0 483.8,168.3 483.8,160.0 483.9,150.5 484.0,145.7 484.0,150.5 484.1,160.0 484.2,168.3 484.2,174.0 484.3,177.6 484.4,179.9 484.4,181.4 484.5,182.6 484.6,183.5 484.6,184.3 484.7,185.0 484.7,185.6 484.8,186.2 484.9,186.7 484.9,187.2 485.0,187.6 485.1,188.0 485.1,188.3 485.2,188.6 485.3,188.8 485.3,189.0 485.4,189.2 485.5,189.3 485.5,189.5 485.6,189.7 485.7,189.9 485.7,190.1 485.8,190.3 485.9,190.6 485.9,190.8 486.0,191.0 486.1,191.1 486.1,191.3 486.2,191.4 486.2,191.5 486.3,191.7 486.4,191.7 486.4,191.8 486.5,191.9 486.6,192.0 486.6,192.0 486.7,192.1 486.8,192.1 486.8,192.1 486.9,192.2 487.0,192.2 487.0,192.2 487.1,192.2 487.2,192.3 487.2,192.3 487.3,192.3 487.4,192.3 487.4,192.3 487.5,192.3 487.6,192.2 487.6,192.2 487.7,192.2 487.7,192.1 487.8,192.1 487.9,192.0 487.9,192.0 488.0,191.9 488.1,191.8 488.1,191.7 488.2,191.7 488.3,191.6 488.3,191.6 488.4,191.5 488.5,191.5 488.5,191.5 488.6,191.4 488.7,191.3 488.7,191.3 488.8,191.1 488.9,191.0 488.9,190.8 489.0,190.7 489.0,190.4 489.1,190.2 489.2,189.9 489.2,189.5 489.3,189.2 489.4,188.7 489.4,188.2 489.5,187.6 489.6,186.9 489.6,186.0 489.7,184.9 489.8,183.2 489.8,180.3 489.9,175.3 490.0,168.4 490.0,164.3 490.1,168.3 490.2,174.9 490.2,179.7 490.3,182.4 490.4,183.9 490.4,184.8 490.5,185.4 490.5,185.9 490.6,186.2 490.7,186.4 490.7,186.5 490.8,186.5 490.9,186.4 490.9,186.2 491.0,185.9 491.1,185.5 491.1,185.0 491.2,184.3 491.3,183.4 491.3,182.1 491.4,180.0 491.5,176.6 491.5,171.3 491.6,164.7 491.7,161.1 491.7,165.0 491.8,171.9 491.9,177.4 491.9,181.0 492.0,183.2 492.0,184.6 492.1,185.6 492.2,186.4 492.2,187.1 492.3,187.7 492.4,188.2 492.4,188.6 492.5,189.0 492.6,189.3 492.6,189.5 492.7,189.8 492.8,189.9 492.8,190.0 492.9,190.1 493.0,190.2 493.0,190.2 493.1,190.2 493.2,190.2 493.2,190.3 493.3,190.5 493.4,190.7 493.4,190.9 493.5,191.1 493.5,191.3 493.6,191.5 493.7,191.7 493.7,191.8 493.8,191.9 493.9,192.0 493.9,192.0 494.0,192.1 494.1,192.1 494.1,192.2 494.2,192.2 494.3,192.2 494.3,192.2 494.4,192.2 494.5,192.1 494.5,192.1 494.6,192.0 494.7,192.0 494.7,191.9 494.8,191.8 494.9,191.7 494.9,191.7 495.0,191.7 495.0,191.7 495.1,191.8 495.2,191.9 495.2,192.0 495.3,192.1 495.4,192.2 495.4,192.3 495.5,192.4 495.6,192.5 495.6,192.5 495.7,192.6 495.8,192.6 495.8,192.6 495.9,192.6 496.0,192.6 496.0,192.6 496.1,192.6 496.2,192.6 496.2,192.5 496.3,192.4 496.4,192.4 496.4,192.3 496.5,192.3 496.5,192.2 496.6,192.2 496.7,192.3 496.7,192.4 496.8,192.5 496.9,192.6 496.9,192.6 497.0,192.7 497.1,192.7 497.1,192.8 497.2,192.8 497.3,192.8 497.3,192.9 497.4,192.9 497.5,192.9 497.5,192.9 497.6,192.9 497.7,192.9 497.7,192.9 497.8,192.9 497.9,192.9 497.9,192.9 498.0,192.9 498.0,192.8 498.1,192.8 498.2,192.8 498.2,192.8 498.3,192.7 498.4,192.7 498.4,192.6 498.5,192.5 498.6,192.4 498.6,192.3 498.7,192.2 498.8,192.0 498.8,191.9 498.9,191.8 499.0,191.8 499.0,191.7 499.1,191.7 499.2,191.6 499.2,191.5 499.3,191.5 499.4,191.4 499.4,191.4 499.5,191.5 499.5,191.5 499.6,191.6 499.7,191.7 499.7,191.9 499.8,192.0 499.9,192.1 499.9,192.2 500.0,192.3 500.1,192.4 500.1,192.4 500.2,192.5 500.3,192.5 500.3,192.6 500.4,192.6 500.5,192.6 500.5,192.6 500.6,192.6 500.7,192.6 500.7,192.6 500.8,192.6 500.9,192.6 500.9,192.6 501.0,192.5 501.0,192.5 501.1,192.4 501.2,192.4 501.2,192.3 501.3,192.2 501.4,192.1 501.4,192.0 501.5,192.0 501.6,192.0 501.6,192.1 501.7,192.1 501.8,192.2 501.8,192.2 501.9,192.3 502.0,192.3 502.0,192.3 502.1,192.3 502.2,192.2 502.2,192.2 502.3,192.2 502.4,192.1 502.4,192.1 502.5,192.0 502.5,192.0 502.6,191.9 502.7,191.8 502.7,191.7 502.8,191.6 502.9,191.5 502.9,191.3 503.0,191.1 503.1,191.0 503.1,190.7 503.2,190.5 503.3,190.2 503.3,189.9 503.4,189.5 503.5,189.1 503.5,188.7 503.6,188.3 503.7,187.8 503.7,187.3 503.8,186.6 503.9,185.5 503.9,183.7 504.0,181.5 504.0,180.3 504.1,181.7 504.2,184.1 504.2,186.0 504.3,187.2 504.4,187.8 504.4,188.2 504.5,188.4 504.6,188.4 504.6,188.4 504.7,188.3 504.8,188.1 504.8,188.0 504.9,187.9 505.0,187.9 505.0,188.0 505.1,188.3 505.2,188.7 505.2,189.1 505.3,189.4 505.3,189.8 505.4,190.1 505.5,190.3 505.5,190.5 505.6,190.7 505.7,190.8 505.7,191.0 505.8,191.0 505.9,191.1 505.9,191.1 506.0,191.2 506.1,191.2 506.1,191.2 506.2,191.2 506.3,191.2 506.3,191.2 506.4,191.2 506.5,191.2 506.5,191.1 506.6,191.1 506.7,191.0 506.7,190.9 506.8,190.8 506.8,190.7 506.9,190.5 507.0,190.3 507.0,190.1 507.1,189.9 507.2,189.7 507.2,189.4 507.3,189.1 507.4,188.9 507.4,188.7 507.5,188.6 507.6,188.6 507.6,188.7 507.7,188.8 507.8,189.0 507.8,189.2 507.9,189.4 508.0,189.5 508.0,189.6 508.1,189.7 508.2,189.7 508.2,189.7 508.3,189.7 508.3,189.6 508.4,189.4 508.5,189.2 508.5,189.0 508.6,188.7 508.7,188.4 508.7,188.1 508.8,187.9 508.9,187.7 508.9,187.6 509.0,187.6 509.1,187.6 509.1,187.7 509.2,187.6 509.3,187.6 509.3,187.4 509.4,187.2 509.5,186.9 509.5,186.6 509.6,186.1 509.7,185.5 509.7,184.9 509.8,184.0 509.8,183.0 509.9,181.6 510.0,179.4 510.0,175.9 510.1,170.6 510.2,164.0 510.2,160.4 510.3,163.9 510.4,170.3 510.4,175.4 510.5,178.7 510.6,180.7 510.6,181.8 510.7,182.6 510.8,183.1 510.8,183.4 510.9,183.5 511.0,183.1 511.0,182.1 511.1,179.8 511.2,176.5 511.2,174.6 511.3,177.1 511.3,181.1 511.4,184.0 511.5,185.7 511.5,186.8 511.6,187.5 511.7,188.1 511.7,188.5 511.8,189.0 511.9,189.3 511.9,189.6 512.0,189.9 512.1,190.1 512.1,190.3 512.2,190.5 512.3,190.6 512.3,190.7 512.4,190.8 512.5,190.9 512.5,191.0 512.6,191.0 512.7,191.0 512.7,191.1 512.8,191.1 512.8,191.1 512.9,191.1 513.0,191.1 513.0,191.2 513.1,191.3 513.2,191.3 513.2,191.4 513.3,191.5 513.4,191.5 513.4,191.5 513.5,191.5 513.6,191.5 513.6,191.4 513.7,191.3 513.8,191.2 513.8,191.1 513.9,191.0 514.0,191.0 514.0,191.1 514.1,191.2 514.2,191.3 514.2,191.4 514.3,191.5 514.3,191.5 514.4,191.5 514.5,191.5 514.5,191.5 514.6,191.5 514.7,191.5 514.7,191.4 514.8,191.3 514.9,191.3 514.9,191.2 515.0,191.1 515.1,191.0 515.1,190.8 515.2,190.7 515.3,190.5 515.3,190.3 515.4,190.1 515.5,189.8 515.5,189.5 515.6,189.2 515.7,188.7 515.7,188.2 515.8,187.5 515.8,186.4 515.9,184.7 516.0,182.1 516.0,179.0 516.1,177.1 516.2,178.3 516.2,180.9 516.3,183.0 516.4,184.5 516.4,185.5 516.5,186.3 516.6,187.0 516.6,187.6 516.7,188.1 516.8,188.5 516.8,188.9 516.9,189.1 517.0,189.3 517.0,189.4 517.1,189.5 517.2,189.5 517.2,189.5 517.3,189.4 517.3,189.4 517.4,189.4 517.5,189.4 517.5,189.4 517.6,189.6 517.7,189.7 517.7,189.9 517.8,190.2 517.9,190.4 517.9,190.6 518.0,190.7 518.1,190.9 518.1,191.0 518.2,191.1 518.3,191.2 518.3,191.3 518.4,191.3 518.5,191.4 518.5,191.4 518.6,191.4 518.7,191.4 518.7,191.4 518.8,191.3 518.8,191.3 518.9,191.2 519.0,191.1 519.0,191.0 519.1,190.9 519.2,190.8 519.2,190.6 519.3,190.4 519.4,190.1 519.4,189.9 519.5,189.5 519.6,189.1 519.6,188.7 519.7,188.0 519.8,187.1 519.8,185.7 519.9,183.5 520.0,180.7 520.0,179.2 520.1,180.9 520.2,183.8 520.2,186.1 520.3,187.6 520.3,188.5 520.4,189.1 520.5,189.5 520.5,189.8 520.6,190.0 520.7,190.2 520.7,190.4 520.8,190.5 520.9,190.6 520.9,190.7 521.0,190.7 521.1,190.7 521.1,190.7 521.2,190.6 521.3,190.6 521.3,190.4 521.4,190.3 521.5,190.1 521.5,190.0 521.6,189.9 521.6,189.8 521.7,189.8 521.8,189.9 521.8,190.0 521.9,190.2 522.0,190.4 522.0,190.5 522.1,190.6 522.2,190.7 522.2,190.8 522.3,190.8 522.4,190.8 522.4,190.7 522.5,190.6 522.6,190.5 522.6,190.3 522.7,189.9 522.8,189.4 522.8,188.7 522.9,187.8 523.0,187.3 523.0,187.4 523.1,187.9 523.1,188.3 523.2,188.6 523.3,188.8 523.3,189.0 523.4,189.2 523.5,189.4 523.5,189.7 523.6,190.0 523.7,190.2 523.7,190.5 523.8,190.7 523.9,190.8 523.9,191.0 524.0,191.1 524.1,191.2 524.1,191.2 524.2,191.3 524.3,191.3 524.3,191.3 524.4,191.2 524.5,191.1 524.5,191.0 524.6,190.8 524.6,190.7 524.7,190.6 524.8,190.5 524.8,190.5 524.9,190.6 525.0,190.8 525.0,190.9 525.1,190.9 525.2,191.0 525.2,191.0 525.3,191.0 525.4,190.9 525.4,190.8 525.5,190.7 525.6,190.6 525.6,190.5 525.7,190.3 525.8,190.1 525.8,189.9 525.9,189.6 526.0,189.3 526.0,188.9 526.1,188.4 526.1,187.8 526.2,186.9 526.3,185.5 526.3,183.3 526.4,180.1 526.5,176.5 526.5,174.6 526.6,176.4 526.7,180.0 526.7,183.1 526.8,185.3 526.9,186.6 526.9,187.4 527.0,188.0 527.1,188.4 527.1,188.8 527.2,189.1 527.3,189.4 527.3,189.7 527.4,189.9 527.5,190.2 527.5,190.4 527.6,190.5 527.6,190.7 527.7,190.8 527.8,190.9 527.8,190.9 527.9,191.0 528.0,191.0 528.0,191.0 528.1,191.0 528.2,190.9 528.2,190.9 528.3,190.7 528.4,190.6 528.4,190.4 528.5,190.1 528.6,189.8 528.6,189.5 528.7,189.2 528.8,189.0 528.8,188.7 528.9,188.3 529.0,187.5 529.0,186.2 529.1,184.5 529.1,183.5 529.2,184.6 529.3,186.4 529.3,187.8 529.4,188.7 529.5,189.2 529.5,189.4 529.6,189.5 529.7,189.5 529.7,189.6 529.8,189.6 529.9,189.7 529.9,189.8 530.0,190.0 530.1,190.3 530.1,190.5 530.2,190.7 530.3,190.9 530.3,191.0 530.4,191.1 530.5,191.2 530.5,191.3 530.6,191.3 530.6,191.4 530.7,191.4 530.8,191.3 530.8,191.3 530.9,191.3 531.0,191.2 531.0,191.1 531.1,191.0 531.2,190.8 531.2,190.6 531.3,190.3 531.4,189.9 531.4,189.4 531.5,188.9 531.6,188.4 531.6,188.1 531.7,188.0 531.8,188.1 531.8,188.4 531.9,188.7 532.0,189.0 532.0,189.1 532.1,189.2 532.1,189.2 532.2,189.1 532.3,188.9 532.3,188.5 532.4,188.0 532.5,187.1 532.5,185.6 532.6,183.1 532.7,180.0 532.7,178.3 532.8,180.1 532.9,183.2 532.9,185.8 533.0,187.4 533.1,188.3 533.1,188.9 533.2,189.4 533.3,189.7 533.3,190.0 533.4,190.2 533.5,190.4 533.5,190.5 533.6,190.6 533.6,190.7 533.7,190.8 533.8,190.9 533.8,190.9 533.9,190.9 534.0,190.9 534.0,190.9 534.1,191.0 534.2,191.0 534.2,191.0 534.3,191.1 534.4,191.1 534.4,191.1 534.5,191.1 534.6,191.1 534.6,191.0 534.7,190.9 534.8,190.6 534.8,190.3 534.9,190.0 535.0,189.6 535.0,189.3 535.1,189.3 535.1,189.5 535.2,189.9 535.3,190.3 535.3,190.6 535.4,190.9 535.5,191.1 535.5,191.3 535.6,191.4 535.7,191.4 535.7,191.5 535.8,191.5 535.9,191.5 535.9,191.5 536.0,191.5 536.1,191.4 536.1,191.4 536.2,191.3 536.3,191.2 536.3,191.1 536.4,191.0 536.5,190.8 536.5,190.6 536.6,190.3 536.6,190.0 536.7,189.7 536.8,189.4 536.8,189.1 536.9,188.8 537.0,188.7 537.0,188.6 537.1,188.6 537.2,188.6 537.2,188.5 537.3,188.4 537.4,188.0 537.4,187.2 537.5,185.9 537.6,184.4 537.6,183.7 537.7,184.6 537.8,186.3 537.8,187.8 537.9,188.9 537.9,189.6 538.0,190.0 538.1,190.3 538.1,190.5 538.2,190.7 538.3,190.8 538.3,191.0 538.4,191.1 538.5,191.1 538.5,191.2 538.6,191.3 538.7,191.3 538.7,191.3 538.8,191.3 538.9,191.2 538.9,191.1 539.0,191.1 539.1,191.0 539.1,190.9 539.2,190.9 539.3,190.9 539.3,191.0 539.4,191.1 539.4,191.2 539.5,191.3 539.6,191.3 539.6,191.4 539.7,191.4 539.8,191.4 539.8,191.4 539.9,191.3 540.0,191.3 540.0,191.2 540.1,191.1 540.2,191.0 540.2,190.8 540.3,190.7 540.4,190.5 540.4,190.3 540.5,190.1 540.6,189.8 540.6,189.6 540.7,189.3 540.8,189.1 540.8,188.8 540.9,188.5 540.9,188.2 541.0,187.8 541.1,187.4 541.1,186.8 541.2,186.2 541.3,185.3 541.3,184.0 541.4,182.0 541.5,178.8 541.5,174.2 541.6,168.8 541.7,166.1 541.7,168.7 541.8,173.9 541.9,178.4 541.9,181.5 542.0,183.4 542.1,184.5 542.1,185.2 542.2,185.8 542.3,186.4 542.3,187.0 542.4,187.5 542.4,188.0 542.5,188.5 542.6,188.8 542.6,189.2 542.7,189.5 542.8,189.7 542.8,189.9 542.9,190.1 543.0,190.2 543.0,190.3 543.1,190.4 543.2,190.4 543.2,190.4 543.3,190.4 543.4,190.4 543.4,190.4 543.5,190.3 543.6,190.2 543.6,190.0 543.7,189.8 543.8,189.6 543.8,189.2 543.9,188.7 543.9,187.7 544.0,186.1 544.1,183.8 544.1,182.3 544.2,183.6 544.3,185.8 544.3,187.4 544.4,188.4 544.5,189.0 544.5,189.4 544.6,189.7 544.7,189.9 544.7,190.1 544.8,190.2 544.9,190.3 544.9,190.4 545.0,190.4 545.1,190.4 545.1,190.4 545.2,190.3 545.3,190.2 545.3,190.1 545.4,190.0 545.4,189.9 545.5,189.8 545.6,189.7 545.6,189.7 545.7,189.7 545.8,189.7 545.8,189.7 545.9,189.7 546.0,189.7 546.0,189.7 546.1,189.6 546.2,189.5 546.2,189.4 546.3,189.2 546.4,189.0 546.4,188.8 546.5,188.5 546.6,188.2 546.6,187.9 546.7,187.4 546.8,187.0 546.8,186.4 546.9,185.8 546.9,185.0 547.0,184.0 547.1,182.6 547.1,180.4 547.2,177.0 547.3,172.3 547.3,166.8 547.4,163.8 547.5,166.1 547.5,170.8 547.6,174.9 547.7,177.8 547.7,179.5 547.8,180.7 547.9,181.6 547.9,182.3 548.0,182.9 548.1,183.3 548.1,183.7 548.2,183.9 548.3,184.0 548.3,183.9 548.4,183.6 548.4,182.9 548.5,181.3 548.6,178.3 548.6,173.9 548.7,171.3 548.8,174.1 548.8,178.5 548.9,181.7 549.0,183.5 549.0,184.5 549.1,185.3 549.2,185.9 549.2,186.6 549.3,187.2 549.4,187.8 549.4,188.3 549.5,188.7 549.6,189.0 549.6,189.3 549.7,189.6 549.8,189.7 549.8,189.9 549.9,190.0 549.9,190.1 550.0,190.2 550.1,190.2 550.1,190.3 550.2,190.2 550.3,190.2 550.3,190.1 550.4,190.0 550.5,189.8 550.5,189.7 550.6,189.5 550.7,189.4 550.7,189.3 550.8,189.3 550.9,189.4 550.9,189.6 551.0,189.8 551.1,190.0 551.1,190.3 551.2,190.5 551.3,190.7 551.3,190.8 551.4,191.0 551.4,191.1 551.5,191.1 551.6,191.2 551.6,191.3 551.7,191.3 551.8,191.3 551.8,191.3 551.9,191.2 552.0,191.2 552.0,191.1 552.1,191.0 552.2,190.9 552.2,190.8 552.3,190.7 552.4,190.5 552.4,190.3 552.5,190.2 552.6,190.1 552.6,190.0 552.7,190.0 552.8,190.0 552.8,190.0 552.9,190.1 552.9,190.1 553.0,190.1 553.1,190.1 553.1,190.1 553.2,190.0 553.3,189.9 553.3,189.7 553.4,189.5 553.5,189.3 553.5,188.9 553.6,188.3 553.7,187.4 553.7,185.9 553.8,183.7 553.9,181.2 553.9,180.0 554.0,181.2 554.1,183.7 554.1,185.9 554.2,187.4 554.2,188.3 554.3,188.9 554.4,189.3 554.4,189.6 554.5,189.8 554.6,190.0 554.6,190.1 554.7,190.2 554.8,190.3 554.8,190.3 554.9,190.3 555.0,190.3 555.0,190.2 555.1,190.1 555.2,190.0 555.2,189.9 555.3,189.8 555.4,189.8 555.4,189.9 555.5,189.8 555.6,189.8 555.6,189.7 555.7,189.5 555.7,189.3 555.8,188.9 555.9,188.5 555.9,187.7 556.0,186.3 556.1,184.2 556.1,181.6 556.2,180.1 556.3,181.4 556.3,183.8 556.4,185.7 556.5,186.8 556.5,187.4 556.6,187.7 556.7,187.8 556.7,188.0 556.8,188.3 556.9,188.6 556.9,189.0 557.0,189.3 557.1,189.7 557.1,189.9 557.2,190.2 557.2,190.4 557.3,190.6 557.4,190.7 557.4,190.8 557.5,190.9 557.6,190.9 557.6,190.9 557.7,190.9 557.8,190.9 557.8,190.8 557.9,190.7 558.0,190.5 558.0,190.2 558.1,189.9 558.2,189.6 558.2,189.2 558.3,188.9 558.4,188.9 558.4,189.1 558.5,189.5 558.6,189.9 558.6,190.2 558.7,190.5 558.7,190.7 558.8,190.9 558.9,191.0 558.9,191.1 559.0,191.2 559.1,191.2 559.1,191.2 559.2,191.2 559.3,191.2 559.3,191.2 559.4,191.2 559.5,191.2 559.5,191.2 559.6,191.1 559.7,191.0 559.7,191.0 559.8,190.9 559.9,190.8 559.9,190.6 560.0,190.4 560.1,190.2 560.1,189.9 560.2,189.6 560.2,189.2 560.3,188.8 560.4,188.4 560.4,188.0 560.5,187.8 560.6,187.8 560.6,188.0 560.7,188.2 560.8,188.5 560.8,188.8 560.9,189.0 561.0,189.1 561.0,189.2 561.1,189.2 561.2,189.2 561.2,189.1 561.3,188.9 561.4,188.7 561.4,188.5 561.5,188.2 561.6,187.9 561.6,187.7 561.7,187.4 561.7,187.0 561.8,186.5 561.9,185.6 561.9,184.4 562.0,182.9 562.1,182.1 562.1,182.8 562.2,184.2 562.3,185.4 562.3,186.2 562.4,186.5 562.5,186.6 562.5,186.6 562.6,186.4 562.7,186.2 562.7,185.9 562.8,185.5 562.9,185.1 562.9,184.6 563.0,184.2 563.1,183.7 563.1,183.2 563.2,182.7 563.2,182.0 563.3,181.1 563.4,179.8 563.4,177.4 563.5,173.7 563.6,168.1 563.6,161.8 563.7,158.6 563.8,162.0 563.8,168.6 563.9,174.4 564.0,178.4 564.0,180.9 564.1,182.5 564.2,183.6 564.2,184.4 564.3,185.1 564.4,185.7 564.4,186.1 564.5,186.5 564.6,186.9 564.6,187.1 564.7,187.3 564.7,187.4 564.8,187.4 564.9,187.4 564.9,187.2 565.0,187.0 565.1,186.7 565.1,186.5 565.2,186.4 565.3,186.6 565.3,186.9 565.4,187.3 565.5,187.6 565.5,187.9 565.6,188.2 565.7,188.3 565.7,188.4 565.8,188.4 565.9,188.3 565.9,188.2 566.0,188.0 566.1,187.7 566.1,187.4 566.2,187.0 566.2,186.4 566.3,185.6 566.4,184.2 566.4,181.9 566.5,178.6 566.6,174.9 566.6,173.0 566.7,174.9 566.8,178.7 566.8,182.1 566.9,184.4 567.0,185.8 567.0,186.7 567.1,187.3 567.2,187.7 567.2,188.0 567.3,188.2 567.4,188.5 567.4,188.7 567.5,188.9 567.6,189.1 567.6,189.4 567.7,189.7 567.7,190.0 567.8,190.2 567.9,190.4 567.9,190.5 568.0,190.7 568.1,190.8 568.1,190.9 568.2,190.9 568.3,191.0 568.3,191.0 568.4,191.0 568.5,191.0 568.5,191.0 568.6,190.9 568.7,190.8 568.7,190.7 568.8,190.5 568.9,190.3 568.9,190.1 569.0,190.0 569.1,190.0 569.1,190.1 569.2,190.2 569.2,190.4 569.3,190.5 569.4,190.5 569.4,190.5 569.5,190.5 569.6,190.3 569.6,190.1 569.7,189.8 569.8,189.4 569.8,189.0 569.9,188.7 570.0,188.6 570.0,188.8 570.1,189.2 570.2,189.6 570.2,190.0 570.3,190.3 570.4,190.5 570.4,190.7 570.5,190.8 570.5,190.9 570.6,190.9 570.7,190.9 570.7,190.9 570.8,190.9 570.9,190.8 570.9,190.7 571.0,190.6 571.1,190.5 571.1,190.3 571.2,190.1 571.3,189.9 571.3,189.6 571.4,189.3 571.5,189.0 571.5,188.8 571.6,188.6 571.7,188.5 571.7,188.5 571.8,188.7 571.9,188.9 571.9,189.2 572.0,189.5 572.0,189.7 572.1,189.9 572.2,190.1 572.2,190.3 572.3,190.4 572.4,190.5 572.4,190.6 572.5,190.6 572.6,190.6 572.6,190.6 572.7,190.5 572.8,190.5 572.8,190.4 572.9,190.2 573.0,190.1 573.0,189.9 573.1,189.8 573.2,189.5 573.2,189.3 573.3,188.9 573.4,188.6 573.4,188.1 573.5,187.4 573.5,186.3 573.6,184.7 573.7,182.4 573.7,179.9 573.8,178.6 573.9,179.8 573.9,182.3 574.0,184.6 574.1,186.1 574.1,187.1 574.2,187.8 574.3,188.3 574.3,188.6 574.4,188.9 574.5,189.1 574.5,189.3 574.6,189.5 574.7,189.6 574.7,189.6 574.8,189.7 574.9,189.7 574.9,189.7 575.0,189.7 575.0,189.6 575.1,189.6 575.2,189.4 575.2,189.3 575.3,189.1 575.4,188.9 575.4,188.6 575.5,188.3 575.6,187.9 575.6,187.4 575.7,186.8 575.8,185.9 575.8,184.6 575.9,182.6 576.0,179.9 576.0,176.9 576.1,175.3 576.2,176.7 576.2,179.6 576.3,182.2 576.4,184.1 576.4,185.5 576.5,186.4 576.5,187.0 576.6,187.5 576.7,187.9 576.7,188.3 576.8,188.5 576.9,188.7 576.9,188.8 577.0,188.8 577.1,188.8 577.1,188.7 577.2,188.6 577.3,188.4 577.3,188.1 577.4,187.9 577.5,187.7 577.5,187.7 577.6,187.7 577.7,188.0 577.7,188.3 577.8,188.7 577.9,189.1 577.9,189.4 578.0,189.8 578.0,190.0 578.1,190.3 578.2,190.4 578.2,190.6 578.3,190.7 578.4,190.7 578.4,190.7 578.5,190.8 578.6,190.8 578.6,190.8 578.7,190.8 578.8,190.8 578.8,190.9 578.9,191.0 579.0,191.1 579.0,191.2 579.1,191.3 579.2,191.4 579.2,191.5 579.3,191.5 579.4,191.6 579.4,191.6 579.5,191.6 579.5,191.7 579.6,191.7 579.7,191.7 579.7,191.7 579.8,191.7 579.9,191.7 579.9,191.6 580.0,191.6 580.1,191.6 580.1,191.6 580.2,191.5 580.3,191.5 580.3,191.4 580.4,191.3 580.5,191.2 580.5,191.1 580.6,191.0 580.7,190.8 580.7,190.7 580.8,190.5 580.9,190.2 580.9,189.9 581.0,189.6 581.0,189.3 581.1,188.9 581.2,188.6 581.2,188.2 581.3,187.9 581.4,187.7 581.4,187.5 581.5,187.4 581.6,187.1 581.6,186.8 581.7,186.1 581.8,184.8 581.8,182.9 581.9,180.7 582.0,179.6 582.0,180.8 582.1,183.1 582.2,185.1 582.2,186.4 582.3,187.1 582.4,187.5 582.4,187.7 582.5,187.9 582.5,188.1 582.6,188.4 582.7,188.7 582.7,189.1 582.8,189.4 582.9,189.7 582.9,190.0 583.0,190.2 583.1,190.4 583.1,190.5 583.2,190.6 583.3,190.7 583.3,190.7 583.4,190.8 583.5,190.8 583.5,190.8 583.6,190.7 583.7,190.7 583.7,190.6 583.8,190.5 583.9,190.4 583.9,190.3 584.0,190.1 584.0,189.9 584.1,189.6 584.2,189.3 584.2,189.0 584.3,188.4 584.4,187.7 584.4,186.7 584.5,185.6 584.6,185.0 584.6,185.7 584.7,187.0 584.8,188.1 584.8,188.9 584.9,189.4 585.0,189.8 585.0,190.0 585.1,190.2 585.2,190.3 585.2,190.4 585.3,190.4 585.4,190.4 585.4,190.4 585.5,190.4 585.5,190.3 585.6,190.3 585.7,190.2 585.7,190.1 585.8,190.0 585.9,189.9 585.9,189.9 586.0,190.0 586.1,190.0 586.1,190.0 586.2,190.0 586.3,190.0 586.3,190.0 586.4,189.9 586.5,189.8 586.5,189.7 586.6,189.5 586.7,189.3 586.7,189.1 586.8,188.8 586.8,188.5 586.9,188.1 587.0,187.6 587.0,187.0 587.1,186.3 587.2,185.2 587.2,183.5 587.3,180.8 587.4,177.0 587.4,172.6 587.5,170.3 587.6,172.4 587.6,176.6 587.7,180.2 587.8,182.7 587.8,184.3 587.9,185.3 588.0,185.9 588.0,186.5 588.1,187.0 588.2,187.5 588.2,188.0 588.3,188.4 588.3,188.7 588.4,189.1 588.5,189.4 588.5,189.6 588.6,189.9 588.7,190.1 588.7,190.2 588.8,190.4 588.9,190.5 588.9,190.6 589.0,190.7 589.1,190.7 589.1,190.7 589.2,190.8 589.3,190.8 589.3,190.7 589.4,190.7 589.5,190.7 589.5,190.6 589.6,190.5 589.7,190.4 589.7,190.3 589.8,190.1 589.8,189.9 589.9,189.6 590.0,189.3 590.0,188.9 590.1,188.3 590.2,187.5 590.2,186.2 590.3,184.5 590.4,182.7 590.4,181.8 590.5,182.8 590.6,184.7 590.6,186.4 590.7,187.6 590.8,188.4 590.8,188.8 590.9,189.1 591.0,189.3 591.0,189.4 591.1,189.5 591.2,189.5 591.2,189.4 591.3,189.3 591.3,189.1 591.4,188.9 591.5,188.8 591.5,188.6 591.6,188.6 591.7,188.7 591.7,188.9 591.8,189.1 591.9,189.3 591.9,189.5 592.0,189.7 592.1,189.7 592.1,189.8 592.2,189.8 592.3,189.7 592.3,189.7 592.4,189.5 592.5,189.4 592.5,189.1 592.6,188.8 592.7,188.5 592.7,187.9 592.8,187.0 592.8,185.6 592.9,183.6 593.0,181.3 593.0,180.0 593.1,181.0 593.2,182.9 593.2,184.6 593.3,185.7 593.4,186.3 593.4,186.7 593.5,187.1 593.6,187.4 593.6,187.7 593.7,188.1 593.8,188.5 593.8,188.8 593.9,189.1 594.0,189.4 594.0,189.7 594.1,189.9 594.2,190.0 594.2,190.1 594.3,190.2 594.3,190.2 594.4,190.1 594.5,189.9 594.5,189.7 594.6,189.5 594.7,189.2 594.7,189.0 594.8,188.9 594.9,189.1 594.9,189.4 595.0,189.7 595.1,190.1 595.1,190.3 595.2,190.5 595.3,190.7 595.3,190.8 595.4,190.8 595.5,190.8 595.5,190.8 595.6,190.7 595.7,190.7 595.7,190.6 595.8,190.5 595.8,190.3 595.9,190.0 596.0,189.6 596.0,189.0 596.1,188.1 596.2,186.7 596.2,185.2 596.3,184.4 596.4,185.2 596.4,186.8 596.5,188.2 596.6,189.2 596.6,189.9 596.7,190.3 596.8,190.6 596.8,190.9 596.9,191.1 597.0,191.2 597.0,191.4 597.1,191.5 597.2,191.6 597.2,191.7 597.3,191.8 597.3,191.9 597.4,191.9 597.5,192.0 597.5,192.0 597.6,192.0 597.7,192.1 597.7,192.1 597.8,192.1 597.9,192.1 597.9,192.1 598.0,192.1 598.1,192.1 598.1,192.1 598.2,192.1 598.3,192.0 598.3,192.0 598.4,191.9 598.5,191.8 598.5,191.7 598.6,191.5 598.7,191.4 598.7,191.2 598.8,191.0 598.8,190.8 598.9,190.6 599.0,190.4 599.0,190.4 599.1,190.4 599.2,190.4 599.2,190.5 599.3,190.6 599.4,190.6 599.4,190.7 599.5,190.7 599.6,190.6 599.6,190.5 599.7,190.4 599.8,190.2 599.8,190.0 599.9,189.6 600.0,188.9 600.0,187.9 600.1,186.5 600.2,184.8 600.2,183.9 600.3,184.5 600.3,185.9 600.4,187.3 600.5,188.3 600.5,189.0 600.6,189.5 600.7,189.9 600.7,190.1 600.8,190.3 600.9,190.5 600.9,190.6 601.0,190.7 601.1,190.7 601.1,190.7 601.2,190.6 601.3,190.6 601.3,190.4 601.4,190.2 601.5,190.0 601.5,189.7 601.6,189.4 601.7,189.1 601.7,188.9 601.8,188.9 601.8,189.1 601.9,189.4 602.0,189.8 602.0,190.1 602.1,190.5 602.2,190.8 602.2,191.0 602.3,191.2 602.4,191.3 602.4,191.4 602.5,191.5 602.6,191.6 602.6,191.6 602.7,191.7 602.8,191.7 602.8,191.7 602.9,191.7 603.0,191.7 603.0,191.7 603.1,191.6 603.1,191.6 603.2,191.5 603.3,191.4 603.3,191.3 603.4,191.2 603.5,191.1 603.5,190.9 603.6,190.8 603.7,190.6 603.7,190.5 603.8,190.4 603.9,190.4 603.9,190.3 604.0,190.4 604.1,190.4 604.1,190.4 604.2,190.4 604.3,190.4 604.3,190.3 604.4,190.3 604.5,190.1 604.5,190.0 604.6,189.8 604.6,189.6 604.7,189.2 604.8,188.7 604.8,187.8 604.9,186.5 605.0,184.6 605.0,182.5 605.1,181.3 605.2,182.4 605.2,184.5 605.3,186.3 605.4,187.5 605.4,188.3 605.5,188.7 605.6,188.9 605.6,189.0 605.7,189.0 605.8,189.0 605.8,189.0 605.9,189.0 606.0,189.1 606.0,189.2 606.1,189.4 606.1,189.6 606.2,189.8 606.3,190.1 606.3,190.2 606.4,190.4 606.5,190.5 606.5,190.6 606.6,190.6 606.7,190.6 606.7,190.6 606.8,190.5 606.9,190.4 606.9,190.2 607.0,190.0 607.1,189.8 607.1,189.6 607.2,189.5 607.3,189.3 607.3,189.3 607.4,189.3 607.5,189.5 607.5,189.6 607.6,189.8 607.6,190.0 607.7,190.2 607.8,190.3 607.8,190.4 607.9,190.5 608.0,190.5 608.0,190.5 608.1,190.5 608.2,190.5 608.2,190.4 608.3,190.3 608.4,190.2 608.4,190.1 608.5,189.9 608.6,189.7 608.6,189.4 608.7,189.2 608.8,188.8 608.8,188.4 608.9,188.0 609.0,187.4 609.0,186.7 609.1,185.8 609.1,184.4 609.2,182.7 609.3,180.8 609.3,179.8 609.4,180.8 609.5,182.8 609.5,184.6 609.6,185.9 609.7,186.8 609.7,187.5 609.8,188.0 609.9,188.4 609.9,188.6 610.0,188.8 610.1,189.0 610.1,189.0 610.2,189.0 610.3,188.9 610.3,188.9 610.4,189.0 610.5,189.1 610.5,189.4 610.6,189.8 610.6,190.1 610.7,190.3 610.8,190.6 610.8,190.7 610.9,190.9 611.0,191.0 611.0,191.0 611.1,191.1 611.2,191.2 611.2,191.2 611.3,191.2 611.4,191.3 611.4,191.3 611.5,191.3 611.6,191.3 611.6,191.3 611.7,191.2 611.8,191.2 611.8,191.1 611.9,191.0 612.0,190.9 612.0,190.8 612.1,190.6 612.1,190.4 612.2,190.2 612.3,189.9 612.3,189.6 612.4,189.4 612.5,189.2 612.5,189.1 612.6,189.1 612.7,189.2 612.7,189.4 612.8,189.6 612.9,189.9 612.9,190.1 613.0,190.4 613.1,190.6 613.1,190.7 613.2,190.9 613.3,190.9 613.3,191.0 613.4,191.1 613.5,191.1 613.5,191.1 613.6,191.1 613.6,191.0 613.7,191.0 613.8,190.9 613.8,190.8 613.9,190.7 614.0,190.6 614.0,190.5 614.1,190.3 614.2,190.1 614.2,189.9 614.3,189.6 614.4,189.3 614.4,189.0 614.5,188.6 614.6,188.1 614.6,187.2 614.7,186.0 614.8,184.1 614.8,182.1 614.9,181.0 615.0,182.2 615.0,184.4 615.1,186.3 615.1,187.7 615.2,188.5 615.3,189.1 615.3,189.4 615.4,189.7 615.5,189.9 615.5,190.1 615.6,190.2 615.7,190.3 615.7,190.4 615.8,190.4 615.9,190.5 615.9,190.5 616.0,190.4 616.1,190.4 616.1,190.3 616.2,190.2 616.3,190.1 616.3,190.1 616.4,190.1 616.5,190.1 616.5,190.1 616.6,190.2 616.6,190.3 616.7,190.4 616.8,190.5 616.8,190.5 616.9,190.5 617.0,190.5 617.0,190.5 617.1,190.4 617.2,190.3 617.2,190.2 617.3,190.1 617.4,189.9 617.4,189.8 617.5,189.7 617.6,189.5 617.6,189.1 617.7,188.4 617.8,187.7 617.8,187.4 617.9,187.9 618.0,188.8 618.0,189.6 618.1,190.2 618.1,190.5 618.2,190.8 618.3,190.9 618.3,191.1 618.4,191.2 618.5,191.3 618.5,191.3 618.6,191.4 618.7,191.4 618.7,191.5 618.8,191.5 618.9,191.5 618.9,191.5 619.0,191.5 619.1,191.5 619.1,191.4 619.2,191.4 619.3,191.4 619.3,191.3 619.4,191.2 619.4,191.1 619.5,191.1 619.6,191.0 619.6,190.9 619.7,190.8 619.8,190.7 619.8,190.6 619.9,190.5 620.0,190.5 620.0,190.5 620.1,190.5 620.2,190.6 620.2,190.7 620.3,190.8 620.4,190.8 620.4,190.9 620.5,191.0 620.6,191.1 620.6,191.2 620.7,191.2 620.8,191.3 620.8,191.3 620.9,191.4 620.9,191.4 621.0,191.4 621.1,191.4 621.1,191.4 621.2,191.3 621.3,191.3 621.3,191.2 621.4,191.2 621.5,191.1 621.5,191.0 621.6,190.9 621.7,190.8 621.7,190.7 621.8,190.6 621.9,190.5 621.9,190.5 622.0,190.5 622.1,190.5 622.1,190.5 622.2,190.5 622.3,190.6 622.3,190.6 622.4,190.6 622.4,190.7 622.5,190.7 622.6,190.6 622.6,190.6 622.7,190.6 622.8,190.5 622.8,190.4 622.9,190.3 623.0,190.2 623.0,190.1 623.1,190.0 623.2,189.9 623.2,189.9 623.3,189.8 623.4,189.8 623.4,189.8 623.5,189.8 623.6,189.8 623.6,189.7 623.7,189.7 623.8,189.7 623.8,189.6 623.9,189.5 623.9,189.4 624.0,189.3 624.1,189.2 624.1,189.1 624.2,189.0 624.3,188.9 624.3,188.9 624.4,189.0 624.5,189.0 624.5,189.2 624.6,189.3 624.7,189.5 624.7,189.6 624.8,189.7 624.9,189.8 624.9,189.9 625.0,190.0 625.1,190.0 625.1,190.0 625.2,190.0 625.3,190.0 625.3,189.9 625.4,189.8 625.4,189.7 625.5,189.6 625.6,189.4 625.6,189.3 625.7,189.1 625.8,188.9 625.8,188.8 625.9,188.6 626.0,188.5 626.0,188.4 626.1,188.4 626.2,188.4 626.2,188.5 626.3,188.7 626.4,188.8 626.4,189.0 626.5,189.2 626.6,189.3 626.6,189.5 626.7,189.7 626.8,189.8 626.8,189.9 626.9,190.0 626.9,190.1 627.0,190.1 627.1,190.2 627.1,190.2 627.2,190.2 627.3,190.2 627.3,190.1 627.4,190.1 627.5,190.0 627.5,189.9 627.6,189.8 627.7,189.7 627.7,189.6 627.8,189.5 627.9,189.4 627.9,189.3 628.0,189.2 628.1,189.1 628.1,189.1 628.2,189.2 628.3,189.2 628.3,189.3 628.4,189.4 628.4,189.5 628.5,189.5 628.6,189.6 628.6,189.6 628.7,189.6 628.8,189.6 628.8,189.5 628.9,189.4 629.0,189.2 629.0,189.1 629.1,188.9 629.2,188.8 629.2,188.7 629.3,188.8 629.4,188.9 629.4,189.1 629.5,189.3 629.6,189.5 629.6,189.7 629.7,189.8 629.8,189.9 629.8,190.0 629.9,190.0 629.9,190.0 630.0,190.0 630.1,190.0 630.1,190.0 630.2,189.9 630.3,189.9 630.3,189.8 630.4,189.7 630.5,189.5 630.5,189.4 630.6,189.2 630.7,189.1 630.7,188.9 630.8,188.7 630.9,188.6 630.9,188.5 631.0,188.4 631.1,188.4 631.1,188.5 631.2,188.6 631.3,188.7 631.3,188.8 631.4,188.8 631.4,188.9 631.5,188.9 631.6,188.8 631.6,188.8 631.7,188.7 631.8,188.5 631.8,188.4 631.9,188.2 632.0,188.0 632.0,187.7 632.1,187.5 632.2,187.3 632.2,187.2 632.3,187.1 632.4,187.1 632.4,187.1 632.5,187.2 632.6,187.4 632.6,187.6 632.7,187.7 632.8,187.9 632.8,188.0 632.9,188.1 632.9,188.2 633.0,188.2 633.1,188.3 633.1,188.2 633.2,188.2 633.3,188.2 633.3,188.1 633.4,188.0 633.5,187.9 633.5,187.8 633.6,187.7 633.7,187.6 633.7,187.5 633.8,187.4 633.9,187.3 633.9,187.1 634.0,186.9 634.1,186.8 634.1,186.5 634.2,186.3 634.3,186.0 634.3,185.8 634.4,185.5 634.4,185.2 634.5,185.0 634.6,184.9 634.6,184.8 634.7,184.8 634.8,184.9 634.8,185.1 634.9,185.3 635.0,185.5 635.0,185.7 635.1,186.0 635.2,186.2 635.2,186.3 635.3,186.5 635.4,186.6 635.4,186.6 635.5,186.7 635.6,186.7 635.6,186.7 635.7,186.6 635.7,186.5 635.8,186.3 635.9,186.2 635.9,185.9 636.0,185.7 636.1,185.4 636.1,185.0 636.2,184.6 636.3,184.2 636.3,183.8 636.4,183.3 636.5,182.8 636.5,182.4 636.6,182.0 636.7,181.7 636.7,181.5 636.8,181.3 636.9,181.2 636.9,181.0 637.0,180.9 637.1,180.8 637.1,180.7 637.2,180.5 637.2,180.4 637.3,180.4 637.4,180.4 637.4,180.5 637.5,180.7 637.6,181.1 637.6,181.4 637.7,181.9 637.8,182.3 637.8,182.7 637.9,183.1 638.0,183.4 638.0,183.7 638.1,183.9 638.2,184.1 638.2,184.2 638.3,184.3 638.4,184.3 638.4,184.2 638.5,184.2 638.6,184.1 638.6,184.0 638.7,184.0 638.7,184.0 638.8,184.1 638.9,184.3 638.9,184.5 639.0,184.8 639.1,185.1 639.1,185.4 639.2,185.7 639.3,185.9 639.3,186.2 639.4,186.4 639.5,186.6 639.5,186.8 639.6,186.9 639.7,187.0 639.7,187.1 639.8,187.2 639.9,187.2 639.9,187.1 640.0,187.1 640.1,187.0 640.1,186.8 640.2,186.7 640.2,186.5 640.3,186.2 640.4,186.0 640.4,185.7 640.5,185.5 640.6,185.3 640.6,185.1 640.7,185.1 640.8,185.2 640.8,185.3 640.9,185.6 641.0,185.8 641.0,186.1 641.1,186.4 641.2,186.7 641.2,186.9 641.3,187.0 641.4,187.2 641.4,187.3 641.5,187.3 641.6,187.3 641.6,187.2 641.7,187.1 641.7,186.9 641.8,186.7 641.9,186.4 641.9,186.1 642.0,185.7 642.1,185.4 642.1,185.1 642.2,185.0 642.3,185.1 642.3,185.4 642.4,185.7 642.5,186.1 642.5,186.5 642.6,186.8 642.7,187.2 642.7,187.4 642.8,187.6 642.9,187.7 642.9,187.8 643.0,187.9 643.1,187.9 643.1,187.8 643.2,187.8 643.2,187.7 643.3,187.5 643.4,187.4 643.4,187.2 643.5,187.0 643.6,186.9 643.6,186.7 643.7,186.6 643.8,186.5 643.8,186.4 643.9,186.3 644.0,186.3 644.0,186.2 644.1,186.1 644.2,186.0 644.2,185.9 644.3,185.8 644.4,185.8 644.4,185.8 644.5,186.0 644.6,186.2 644.6,186.5 644.7,186.8 644.7,187.2 644.8,187.5 644.9,187.8 644.9,188.1 645.0,188.3 645.1,188.5 645.1,188.7 645.2,188.8 645.3,188.9 645.3,189.0 645.4,189.1 645.5,189.1 645.5,189.1 645.6,189.2 645.7,189.2 645.7,189.1 645.8,189.1 645.9,189.1 645.9,189.0 646.0,188.9 646.1,188.8 646.1,188.7 646.2,188.6 646.2,188.5 646.3,188.3 646.4,188.2 646.4,188.0 646.5,187.9 646.6,187.8 646.6,187.7 646.7,187.7 646.8,187.7 646.8,187.7 646.9,187.7 647.0,187.6 647.0,187.6 647.1,187.5 647.2,187.4 647.2,187.2 647.3,187.0 647.4,186.8 647.4,186.5 647.5,186.4 647.6,186.3 647.6,186.2 647.7,186.3 647.7,186.5 647.8,186.7 647.9,186.9 647.9,187.1 648.0,187.2 648.1,187.3 648.1,187.3 648.2,187.3 648.3,187.2 648.3,187.1 648.4,187.0 648.5,186.8 648.5,186.7 648.6,186.5 648.7,186.4 648.7,186.4 648.8,186.3 648.9,186.4 648.9,186.5 649.0,186.7 649.1,186.9 649.1,187.1 649.2,187.3 649.2,187.5 649.3,187.7 649.4,187.9 649.4,188.1 649.5,188.2 649.6,188.3 649.6,188.4 649.7,188.5 649.8,188.5 649.8,188.5 649.9,188.4 650.0,188.3 650.0,188.2 650.1,188.0 650.2,187.7 650.2,187.5 650.3,187.1 650.4,186.8 650.4,186.4 650.5,186.1 650.6,185.9 650.6,185.8 650.7,185.9 650.7,186.1 650.8,186.5 650.9,186.8 650.9,187.2 651.0,187.6 651.1,187.9 651.1,188.2 651.2,188.4 651.3,188.6 651.3,188.7 651.4,188.8 651.5,188.9 651.5,188.9 651.6,189.0 651.7,189.0 651.7,188.9 651.8,188.9 651.9,188.9 651.9,188.8 652.0,188.7 652.0,188.7 652.1,188.6 652.2,188.5 652.2,188.5 652.3,188.4 652.4,188.4 652.4,188.3 652.5,188.3 652.6,188.3 652.6,188.3 652.7,188.3 652.8,188.2 652.8,188.2 652.9,188.1 653.0,188.1 653.0,188.0 653.1,187.9 653.2,187.7 653.2,187.6 653.3,187.5 653.4,187.4 653.4,187.3 653.5,187.3 653.5,187.3 653.6,187.3 653.7,187.4 653.7,187.5 653.8,187.6 653.9,187.7 653.9,187.9 654.0,188.0 654.1,188.2 654.1,188.3 654.2,188.4 654.3,188.5 654.3,188.5 654.4,188.5 654.5,188.5 654.5,188.5 654.6,188.4 654.7,188.2 654.7,188.0 654.8,187.8 654.9,187.4 654.9,187.1 655.0,186.7 655.0,186.4 655.1,186.3 655.2,186.2 655.2,186.4 655.3,186.7 655.4,187.0 655.4,187.4 655.5,187.7 655.6,187.9 655.6,188.1 655.7,188.3 655.8,188.4 655.8,188.4 655.9,188.4 656.0,188.4 656.0,188.4 656.1,188.4 656.2,188.4 656.2,188.4 656.3,188.5 656.4,188.6 656.4,188.7 656.5,188.7 656.5,188.8 656.6,188.8 656.7,188.8 656.7,188.7 656.8,188.6 656.9,188.5 656.9,188.3 657.0,188.0 657.1,187.7 657.1,187.4 657.2,187.0 657.3,186.7 657.3,186.4 657.4,186.2 657.5,186.3 657.5,186.4 657.6,186.7 657.7,187.1 657.7,187.4 657.8,187.8 657.9,188.0 657.9,188.3 658.0,188.5 658.0,188.6 658.1,188.7 658.2,188.7 658.2,188.7 658.3,188.7 658.4,188.6 658.4,188.5 658.5,188.4 658.6,188.3 658.6,188.2 658.7,188.1 658.8,188.0 658.8,187.9 658.9,187.9 659.0,187.9 659.0,188.0 659.1,188.1 659.2,188.2 659.2,188.3 659.3,188.5 659.4,188.6 659.4,188.8 659.5,188.9 659.5,189.0 659.6,189.2 659.7,189.3 659.7,189.3 659.8,189.4 659.9,189.5 659.9,189.5 660.0,189.5 660.1,189.5 660.1,189.5 660.2,189.5 660.3,189.4 660.3,189.3 660.4,189.2 660.5,189.0 660.5,188.9 660.6,188.6 660.7,188.4 660.7,188.1 660.8,187.8 660.9,187.4 660.9,187.1 661.0,186.9 661.0,186.7 661.1,186.7 661.2,186.8 661.2,186.9 661.3,187.1 661.4,187.3 661.4,187.5 661.5,187.6 661.6,187.6 661.6,187.6 661.7,187.5 661.8,187.3 661.8,187.1 661.9,186.9 662.0,186.6 662.0,186.5 662.1,186.5 662.2,186.7 662.2,186.9 662.3,187.3 662.4,187.7 662.4,188.0 662.5,188.3 662.5,188.5 662.6,188.7 662.7,188.9 662.7,188.9 662.8,189.0 662.9,189.0 662.9,189.0 663.0,189.0 663.1,188.9 663.1,188.8 663.2,188.7 663.3,188.6 663.3,188.5 663.4,188.4 663.5,188.3 663.5,188.2 663.6,188.1 663.7,188.1 663.7,188.1 663.8,188.2 663.9,188.3 663.9,188.4 664.0,188.5 664.0,188.6 664.1,188.7 664.2,188.7 664.2,188.8 664.3,188.8 664.4,188.7 664.4,188.7 664.5,188.6 664.6,188.4 664.6,188.3 664.7,188.1 664.8,187.9 664.8,187.7 664.9,187.5 665.0,187.4 665.0,187.3 665.1,187.3 665.2,187.3 665.2,187.5 665.3,187.6 665.4,187.8 665.4,188.1 665.5,188.3 665.5,188.4 665.6,188.6 665.7,188.7 665.7,188.8 665.8,188.9 665.9,188.9 665.9,188.9 666.0,188.9 666.1,188.8 666.1,188.8 666.2,188.7 666.3,188.6 666.3,188.6 666.4,188.5 666.5,188.5 666.5,188.6 666.6,188.6 666.7,188.6 666.7,188.6 666.8,188.6 666.9,188.6 666.9,188.6 667.0,188.5 667.0,188.4 667.1,188.3 667.2,188.2 667.2,188.1 667.3,188.1 667.4,188.1 667.4,188.2 667.5,188.3 667.6,188.5 667.6,188.7 667.7,188.9 667.8,189.1 667.8,189.2 667.9,189.4 668.0,189.6 668.0,189.7 668.1,189.8 668.2,189.9 668.2,190.0 668.3,190.1 668.3,190.2 668.4,190.2 668.5,190.2 668.5,190.2 668.6,190.2 668.7,190.2 668.7,190.2 668.8,190.1 668.9,190.1 668.9,190.0 669.0,189.8 669.1,189.7 669.1,189.5 669.2,189.3 669.3,189.0 669.3,188.8 669.4,188.6 669.5,188.5 669.5,188.5 669.6,188.6 669.7,188.7 669.7,188.9 669.8,189.1 669.8,189.3 669.9,189.4 670.0,189.5 670.0,189.5 670.1,189.5 670.2,189.5 670.2,189.5 670.3,189.4 670.4,189.4 670.4,189.3 670.5,189.2 670.6,189.2 670.6,189.1 670.7,189.1 670.8,189.1 670.8,189.2 670.9,189.2 671.0,189.2 671.0,189.3 671.1,189.3 671.2,189.3 671.2,189.3 671.3,189.3 671.3,189.3 671.4,189.3 671.5,189.2 671.5,189.1 671.6,189.0 671.7,188.9 671.7,188.9 671.8,188.8 671.9,188.8 671.9,188.8 672.0,188.8 672.1,188.8 672.1,188.9 672.2,189.0 672.3,189.1 672.3,189.2 672.4,189.3 672.5,189.4 672.5,189.5 672.6,189.5 672.7,189.5 672.7,189.6 672.8,189.5 672.8,189.5 672.9,189.4 673.0,189.3 673.0,189.2 673.1,189.1 673.2,189.0 673.2,188.9 673.3,188.8 673.4,188.7 673.4,188.8 673.5,188.9 673.6,189.0 673.6,189.1 673.7,189.3 673.8,189.5 673.8,189.6 673.9,189.7 674.0,189.9 674.0,189.9 674.1,190.0 674.2,190.0 674.2,190.1 674.3,190.0 674.3,190.0 674.4,190.0 674.5,189.9 674.5,189.9 674.6,189.8 674.7,189.7 674.7,189.7 674.8,189.6 674.9,189.6 674.9,189.6 675.0,189.6 675.1,189.6 675.1,189.7 675.2,189.7 675.3,189.8 675.3,189.8 675.4,189.9 675.5,189.9 675.5,189.9 675.6,189.9 675.7,189.9 675.7,189.9 675.8,189.9 675.8,189.8 675.9,189.7 676.0,189.6 676.0,189.5 676.1,189.4 676.2,189.2 676.2,189.1 676.3,188.9 676.4,188.7 676.4,188.5 676.5,188.3 676.6,188.1 676.6,187.9 676.7,187.7 676.8,187.6 676.8,187.6 676.9,187.5 677.0,187.6 677.0,187.6 677.1,187.7 677.2,187.8 677.2,187.9 677.3,188.0 677.3,188.0 677.4,188.0 677.5,188.0 677.5,187.9 677.6,187.9 677.7,187.7 677.7,187.6 677.8,187.4 677.9,187.2 677.9,187.0 678.0,186.8 678.1,186.5 678.1,186.4 678.2,186.3 678.3,186.2 678.3,186.2 678.4,186.3 678.5,186.4 678.5,186.6 678.6,186.7 678.7,186.9 678.7,187.1 678.8,187.2 678.8,187.3 678.9,187.3 679.0,187.3 679.0,187.3 679.1,187.2 679.2,187.0 679.2,186.8 679.3,186.5 679.4,186.3 679.4,186.1 679.5,185.9 679.6,185.9 679.6,186.0 679.7,186.2 679.8,186.5 679.8,186.8 679.9,187.1 680.0,187.4 680.0,187.6 680.1,187.8 680.2,187.9 680.2,188.0 680.3,188.0 680.3,188.0 680.4,187.9 680.5,187.8 680.5,187.8 680.6,187.8 680.7,187.8 680.7,187.9 680.8,188.1 680.9,188.3 680.9,188.5 681.0,188.7 681.1,188.9 681.1,189.0 681.2,189.2 681.3,189.3 681.3,189.3 681.4,189.4 681.5,189.4 681.5,189.4 681.6,189.3 681.7,189.3 681.7,189.2 681.8,189.1 681.8,189.0 681.9,188.9 682.0,188.8 682.0,188.8 682.1,188.7 682.2,188.7 682.2,188.7 682.3,188.8 682.4,188.9 682.4,189.0 682.5,189.2 682.6,189.3 682.6,189.4 682.7,189.5 682.8,189.6 682.8,189.7 682.9,189.7 683.0,189.8 683.0,189.8 683.1,189.8 683.2,189.7 683.2,189.7 683.3,189.6 683.3,189.6 683.4,189.5 683.5,189.4 683.5,189.3 683.6,189.3 683.7,189.3 683.7,189.3 683.8,189.4 683.9,189.4 683.9,189.4 684.0,189.5 684.1,189.5 684.1,189.5 684.2,189.4 684.3,189.3 684.3,189.2 684.4,189.0 684.5,188.8 684.5,188.5 684.6,188.2 684.6,187.9 684.7,187.6 684.8,187.3 684.8,187.2 684.9,187.2 685.0,187.4 685.0,187.7 685.1,188.0 685.2,188.2 685.2,188.5 685.3,188.7 685.4,188.8 685.4,188.9 685.5,188.9 685.6,188.9 685.6,188.8 685.7,188.7 685.8,188.6 685.8,188.4 685.9,188.3 686.0,188.2 686.0,188.1 686.1,188.2 686.1,188.2 686.2,188.4 686.3,188.6 686.3,188.8 686.4,189.1 686.5,189.3 686.5,189.5 686.6,189.7 686.7,189.8 686.7,190.0 686.8,190.1 686.9,190.2 686.9,190.2 687.0,190.3 687.1,190.3 687.1,190.3 687.2,190.3 687.3,190.3 687.3,190.3 687.4,190.2 687.5,190.1 687.5,190.0 687.6,189.9 687.6,189.8 687.7,189.6 687.8,189.4 687.8,189.2 687.9,189.1 688.0,189.0 688.0,189.0 688.1,189.1 688.2,189.2 688.2,189.4 688.3,189.5 688.4,189.7 688.4,189.8 688.5,190.0 688.6,190.1 688.6,190.2 688.7,190.2 688.8,190.3 688.8,190.3 688.9,190.3 689.0,190.3 689.0,190.2 689.1,190.2 689.1,190.1 689.2,190.0 689.3,189.9 689.3,189.7 689.4,189.5 689.5,189.3 689.5,189.1 689.6,188.9 689.7,188.8 689.7,188.7 689.8,188.6 689.9,188.6 689.9,188.7 690.0,188.7 690.1,188.7 690.1,188.6 690.2,188.6 690.3,188.5 690.3,188.4 690.4,188.3 690.5,188.3 690.5,188.3 690.6,188.4 690.6,188.5 690.7,188.7 690.8,188.8 690.8,189.0 690.9,189.1 691.0,189.2 691.0,189.3 691.1,189.4 691.2,189.4 691.2,189.4 691.3,189.4 691.4,189.3 691.4,189.3 691.5,189.1 691.6,189.0 691.6,188.8 691.7,188.5 691.8,188.2 691.8,187.8 691.9,187.4 692.0,187.0 692.0,186.6 692.1,186.2 692.1,186.0 692.2,186.0 692.3,186.1 692.3,186.3 692.4,186.6 692.5,187.0 692.5,187.3 692.6,187.5 692.7,187.7 692.7,187.9 692.8,188.0 692.9,188.0 692.9,188.0 693.0,187.9 693.1,187.8 693.1,187.7 693.2,187.6 693.3,187.5 693.3,187.4 693.4,187.3 693.5,187.3 693.5,187.3 693.6,187.4 693.6,187.5 693.7,187.7 693.8,187.8 693.8,188.0 693.9,188.3 694.0,188.5 694.0,188.7 694.1,188.8 694.2,189.0 694.2,189.1 694.3,189.3 694.4,189.4 694.4,189.5 694.5,189.6 694.6,189.6 694.6,189.7 694.7,189.7 694.8,189.7 694.8,189.7 694.9,189.7 695.0,189.6 695.0,189.6 695.1,189.5 695.1,189.4 695.2,189.3 695.3,189.3 695.3,189.2 695.4,189.1 695.5,189.0 695.5,189.0 695.6,189.0 695.7,189.0 695.7,189.1 695.8,189.1 695.9,189.2 695.9,189.2 696.0,189.3 696.1,189.3 696.1,189.3 696.2,189.3 696.3,189.2 696.3,189.1 696.4,189.1 696.5,188.9 696.5,188.8 696.6,188.7 696.6,188.5 696.7,188.3 696.8,188.2 696.8,188.0 696.9,187.8 697.0,187.7 697.0,187.5 697.1,187.4 697.2,187.2 697.2,187.1 697.3,187.0 697.4,186.9 697.4,186.8 697.5,186.8 697.6,186.8 697.6,186.9 697.7,187.0 697.8,187.2 697.8,187.4 697.9,187.6 698.0,187.8 698.0,188.0 698.1,188.2 698.1,188.4 698.2,188.5 698.3,188.7 698.3,188.8 698.4,188.9 698.5,189.0 698.5,189.1 698.6,189.2 698.7,189.2 698.7,189.2 698.8,189.2 698.9,189.2 698.9,189.1 699.0,189.1 699.1,189.0 699.1,188.9 699.2,188.8 699.3,188.7 699.3,188.7 699.4,188.6 699.5,188.6 699.5,188.6 699.6,188.6 699.6,188.7 699.7,188.6 699.8,188.6 699.8,188.6 699.9,188.5 700.0,188.3 700.0,188.2 700.1,188.0 700.2,187.7 700.2,187.4 700.3,187.1 700.4,186.7 700.4,186.3 700.5,186.0 700.6,185.7 700.6,185.5 700.7,185.4 700.8,185.5 700.8,185.6 700.9,185.9 700.9,186.2 701.0,186.4 701.1,186.7 701.1,186.9 701.2,187.1 701.3,187.2 701.3,187.2 701.4,187.3 701.5,187.2 701.5,187.2 701.6,187.0 701.7,186.9 701.7,186.6 701.8,186.4 701.9,186.0 701.9,185.6 702.0,185.2 702.1,184.7 702.1,184.2 702.2,183.7 702.3,183.3 702.3,183.1 702.4,183.0 702.4,183.1 702.5,183.3 702.6,183.7 702.6,184.1 702.7,184.4 702.8,184.8 702.8,185.1 702.9,185.3 703.0,185.4 703.0,185.5 703.1,185.5 703.2,185.4 703.2,185.3 703.3,185.1 703.4,184.8 703.4,184.5 703.5,184.1 703.6,183.7 703.6,183.3 703.7,183.0 703.8,182.7 703.8,182.6 703.9,182.6 703.9,182.7 704.0,182.9 704.1,183.2 704.1,183.5 704.2,183.8 704.3,184.1 704.3,184.3 704.4,184.4 704.5,184.5 704.5,184.5 704.6,184.5 704.7,184.3 704.7,184.2 704.8,183.9 704.9,183.7 704.9,183.4 705.0,183.1 705.1,182.7 705.1,182.4 705.2,182.2 705.3,182.0 705.3,181.9 705.4,181.9 705.4,181.9 705.5,182.1 705.6,182.3 705.6,182.5 705.7,182.7 705.8,182.9 705.8,183.1 705.9,183.2 706.0,183.3 706.0,183.2 706.1,183.2 706.2,183.1 706.2,182.9 706.3,182.7 706.4,182.6 706.4,182.5 706.5,182.5 706.6,182.6 706.6,182.8 706.7,183.1 706.8,183.5 706.8,183.8 706.9,184.1 706.9,184.5 707.0,184.7 707.1,184.9 707.1,185.1 707.2,185.2 707.3,185.3 707.3,185.3 707.4,185.3 707.5,185.2 707.5,185.0 707.6,184.9 707.7,184.6 707.7,184.4 707.8,184.1 707.9,183.8 707.9,183.4 708.0,183.1 708.1,182.8 708.1,182.5 708.2,182.2 708.3,182.0 708.3,181.9 708.4,181.9 708.4,181.9 708.5,182.1 708.6,182.3 708.6,182.5 708.7,182.8 708.8,183.1 708.8,183.5 708.9,183.8 709.0,184.2 709.0,184.6 709.1,185.0 709.2,185.4 709.2,185.8 709.3,186.1 709.4,186.4 709.4,186.7 709.5,187.0 709.6,187.2 709.6,187.4 709.7,187.6 709.8,187.7 709.8,187.8 709.9,187.9 709.9,188.0 710.0,188.1 710.1,188.1 710.1,188.1 710.2,188.1 710.3,188.1 710.3,188.0 710.4,188.0 710.5,187.9 710.5,187.8 710.6,187.7 710.7,187.6 710.7,187.5 710.8,187.4 710.9,187.3 710.9,187.2 711.0,187.2 711.1,187.3 711.1,187.4 711.2,187.5 711.3,187.6 711.3,187.8 711.4,187.9 711.4,188.0 711.5,188.2 711.6,188.3 711.6,188.3 711.7,188.4 711.8,188.4 711.8,188.4 711.9,188.4 712.0,188.3 712.0,188.3 712.1,188.2 712.2,188.0 712.2,187.9 712.3,187.7 712.4,187.6 712.4,187.4 712.5,187.3 712.6,187.2 712.6,187.1 712.7,187.1 712.8,187.2 712.8,187.3 712.9,187.4 712.9,187.6 713.0,187.7 713.1,187.8 713.1,187.8 713.2,187.8 713.3,187.8 713.3,187.8 713.4,187.7 713.5,187.5 713.5,187.4 713.6,187.3 713.7,187.3 713.7,187.3 713.8,187.3 713.9,187.5 713.9,187.7 714.0,187.9 714.1,188.1 714.1,188.3 714.2,188.5 714.3,188.7 714.3,188.8 714.4,188.9 714.4,188.9 714.5,188.9 714.6,188.9 714.6,188.9 714.7,188.8 714.8,188.8 714.8,188.7 714.9,188.6 715.0,188.5 715.0,188.4 715.1,188.3 715.2,188.2 715.2,188.2 715.3,188.2 715.4,188.2 715.4,188.3 715.5,188.4 715.6,188.6 715.6,188.7 715.7,188.9 715.8,189.0 715.8,189.2 715.9,189.3 715.9,189.4 716.0,189.5 716.1,189.5 716.1,189.6 716.2,189.6 716.3,189.6 716.3,189.6 716.4,189.7 716.5,189.7 716.5,189.7 716.6,189.8 716.7,189.8 716.7,189.9 716.8,189.9 716.9,190.0 716.9,190.0 717.0,190.1 717.1,190.1 717.1,190.1 717.2,190.1 717.2,190.1 717.3,190.1 717.4,190.1 717.4,190.0 717.5,190.0 717.6,189.9 717.6,189.8 717.7,189.7 717.8,189.5 717.8,189.4 717.9,189.2 718.0,189.0 718.0,188.8 718.1,188.7 718.2,188.5 718.2,188.3 718.3,188.2 718.4,188.2 718.4,188.2 718.5,188.2 718.6,188.2 718.6,188.3 718.7,188.4 718.7,188.4 718.8,188.5 718.9,188.5 718.9,188.5 719.0,188.5 719.1,188.5 719.1,188.5 719.2,188.5 719.3,188.5 719.3,188.5 719.4,188.5 719.5,188.6 719.5,188.6 719.6,188.6 719.7,188.6 719.7,188.6 719.8,188.6 719.9,188.6 719.9,188.5 720.0,188.4 720.1,188.3 720.1,188.3 720.2,188.2 720.2,188.1 720.3,188.1 720.4,188.1 720.4,188.2 720.5,188.3 720.6,188.5 720.6,188.6 720.7,188.9 720.8,189.1 720.8,189.3 720.9,189.5 721.0,189.7 721.0,189.9 721.1,190.1 721.2,190.2 721.2,190.4 721.3,190.5 721.4,190.6 721.4,190.7 721.5,190.8 721.6,190.9 721.6,191.0 721.7,191.0 721.7,191.1 721.8,191.1 721.9,191.1 721.9,191.2 722.0,191.2 722.1,191.2 722.1,191.2 722.2,191.1 722.3,191.1 722.3,191.0 722.4,191.0 722.5,190.9 722.5,190.8 722.6,190.7 722.7,190.6 722.7,190.6 722.8,190.6 722.9,190.6 722.9,190.7 723.0,190.8 723.1,190.9 723.1,191.0 723.2,191.0 723.2,191.1 723.3,191.1 723.4,191.1 723.4,191.1 723.5,191.0 723.6,190.9 723.6,190.8 723.7,190.7 723.8,190.6 723.8,190.4 723.9,190.3 724.0,190.1 724.0,190.0 724.1,189.9 724.2,189.9 724.2,190.0 724.3,190.0 724.4,190.1 724.4,190.1 724.5,190.2 724.6,190.2 724.6,190.1 724.7,190.0 724.7,189.9 724.8,189.8 724.9,189.7 724.9,189.6 725.0,189.6 725.1,189.7 725.1,189.9 725.2,190.1 725.3,190.4 725.3,190.7 725.4,191.0"/>
<text class="bt" x="424.4" y="197.7" text-anchor="end">0.0</text>
<text class="bt" x="424.4" y="182.0" text-anchor="end">1000.0</text>
<text class="bt" x="424.4" y="166.2" text-anchor="end">2000.0</text>
<text class="bt" x="424.4" y="150.5" text-anchor="end">3000.0</text>
<text class="bt" x="424.4" y="134.7" text-anchor="end">4000.0</text>
<text class="bt" x="424.4" y="119.0" text-anchor="end">5000.0</text>
<text class="bt" x="424.4" y="103.2" text-anchor="end">6000.0</text>
<text class="bt" x="424.4" y="87.5" text-anchor="end">7000.0</text>
<text class="bt" x="424.4" y="71.7" text-anchor="end">8000.0</text>
<text class="bt" x="424.4" y="56.0" text-anchor="end">9000.0</text>
<text class="bt" x="424.4" y="40.2" text-anchor="end">10000.0</text>
<text class="bt" x="462.7" y="215.7" text-anchor="middle">10.0</text>
<text class="bt" x="527.9" y="215.7" text-anchor="middle">20.0</text>
<text class="bt" x="593.1" y="215.7" text-anchor="middle">30.0</text>
<text class="bt" x="658.3" y="215.7" text-anchor="middle">40.0</text>
<text class="bt" x="723.5" y="215.7" text-anchor="middle">50.0</text>
<path d="M431.5 36.9V194.5H725.4M431.5 194.4h-4M431.5 178.7h-4M431.5 162.9h-4M431.5 147.2h-4M431.5 131.4h-4M431.5 115.7h-4M431.5 99.9h-4M431.5 84.2h-4M431.5 68.4h-4M431.5 52.7h-4M431.5 36.9h-4M464.5 194.5v12.3M529.5 194.5v12.3M595.5 194.5v12.3M660.5 194.5v12.3M725.5 194.5v12.3" fill="none" stroke="#111" stroke-width="1"/>
<text class="bt" transform="translate(395,107.5) rotate(-90)" text-anchor="middle" style="font-size:8px">Intensity</text>
<path class="bld" d="M447.8 20.0L448.2 37.0"/>
<text class="bl" x="438.4" y="16.0">7.418</text>
<path class="bld" d="M454.4 33.0L454.2 60.0"/>
<text class="bl" x="445.6" y="30.0">8.523</text>
<path class="bld" d="M471.7 110.0L467.3 132.0"/>
<text class="bl" x="459.3" y="104.2">10.069</text>
<path class="bld" d="M487.3 125.6L483.7 147.4"/>
<text class="bl" x="476.3" y="120.9">13.115</text>
<path class="bld" d="M498.8 146.0L495.2 169.0"/>
<text class="bl" x="487.0" y="141.6">14.115</text>
<path class="bld" d="M514.7 153.4L510.6 175.6"/>
<text class="bl" x="502.4" y="148.8">16.951</text>
<path class="bld" d="M544.6 144.4L541.3 168.2"/>
<text class="bl" x="533.1" y="139.4">21.820</text>
<path class="bld" d="M551.6 156.7L548.7 173.1"/>
<text class="bl" x="539.7" y="152.1">22.623</text>
<path class="bld" d="M566.7 137.5L563.1 160.8"/>
<text class="bl" x="554.9" y="132.9">25.391</text>
<path class="bld" d="M590.8 148.0L587.2 171.5"/>
<text class="bl" x="578.5" y="143.2">28.902</text>
<text class="bt" x="543" y="230.8" style="font-size:8.6px">2 theta</text>
<text class="bt" x="543" y="238.7" style="font-size:8.45px">26.289, 10377</text>
<text class="bt" x="388.5" y="238.7" style="font-size:8.5px">Wavelength: 1.54056</text>
<text class="bt" x="652.4" y="238.7" style="font-size:8.95px">h, k, l = 3, 1, -3</text>
<text class="cap" text-anchor="middle" transform="translate(571.5 297.2) scale(1 1.08)" font-size="18.00px">(b)</text>
</g>
</svg>
</body></html>
